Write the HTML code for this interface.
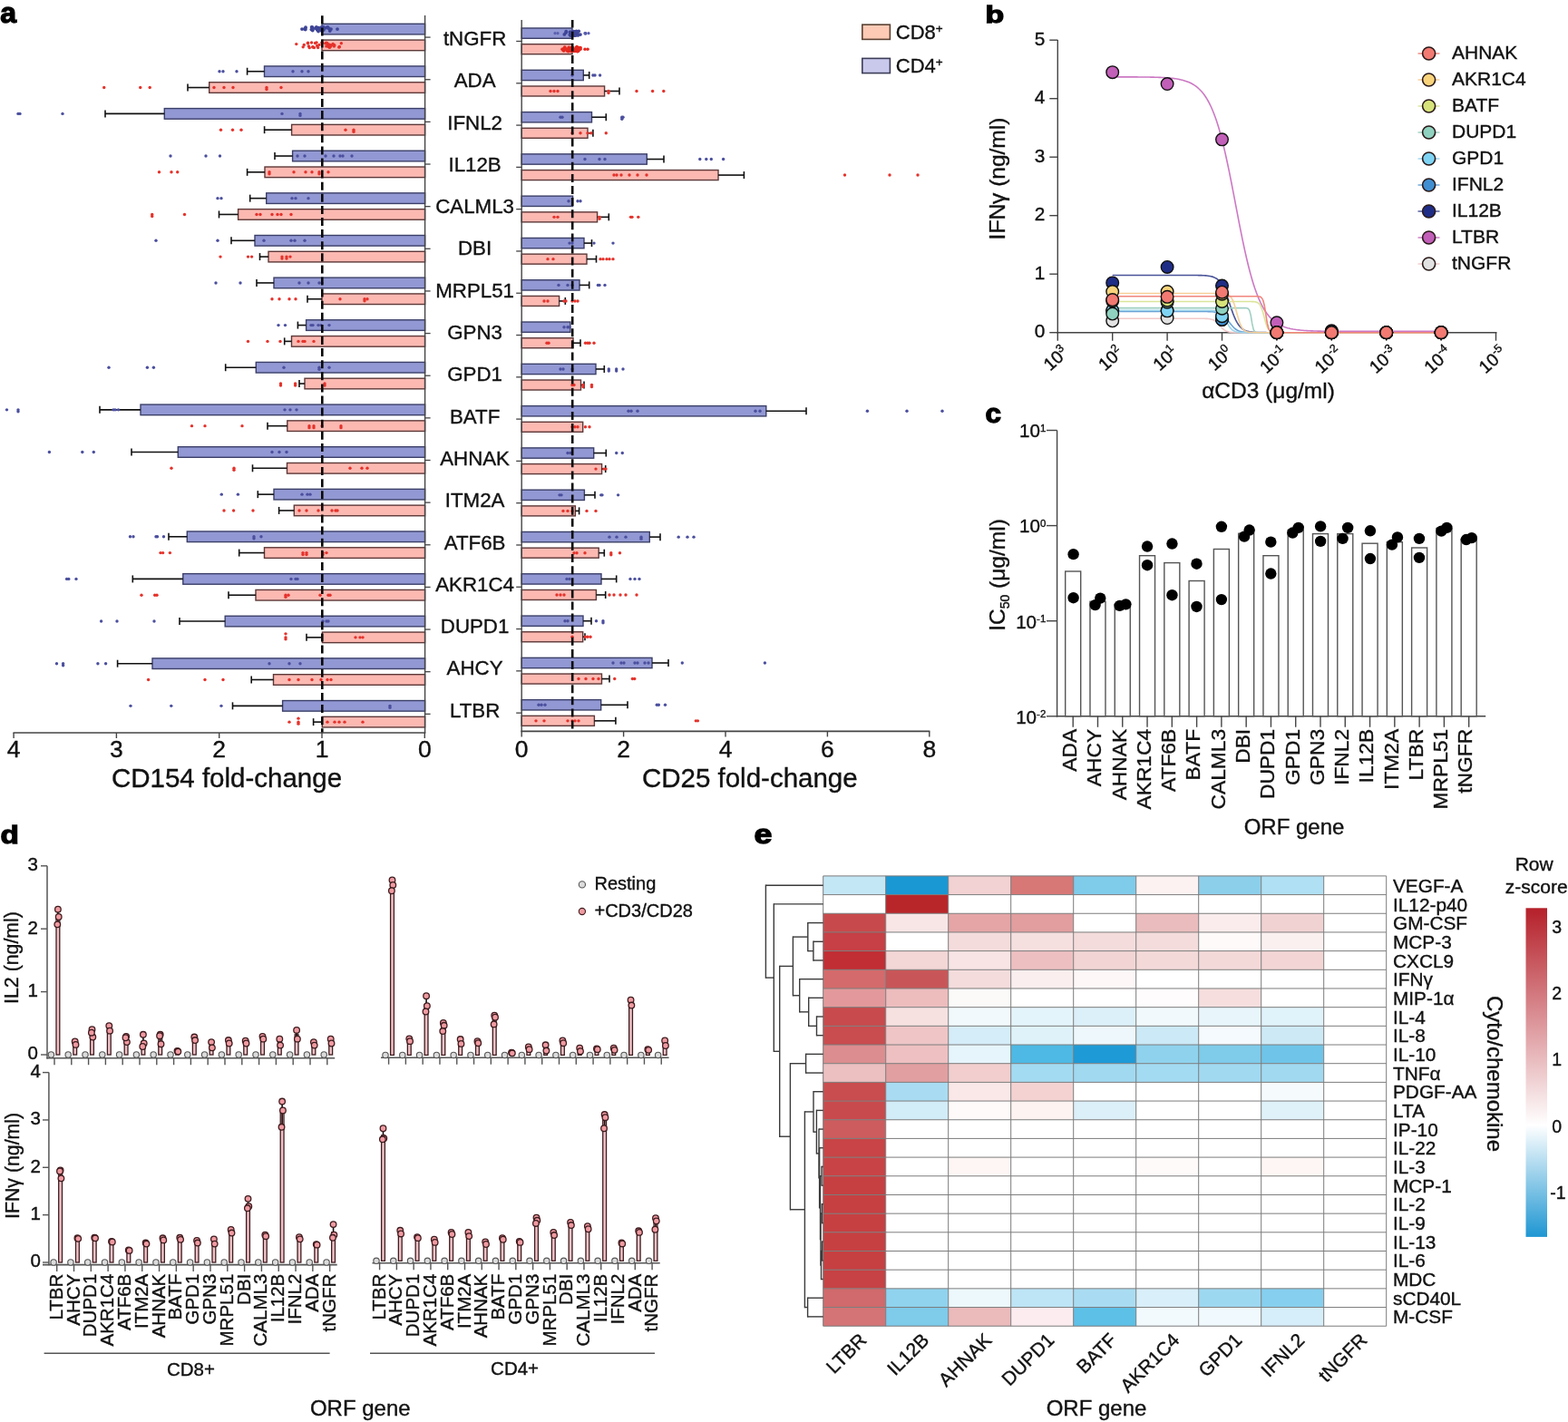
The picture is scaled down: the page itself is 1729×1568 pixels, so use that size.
<!DOCTYPE html>
<html><head><meta charset="utf-8"><title>Figure</title>
<style>html,body{margin:0;padding:0;background:#fff;}svg{display:block;}text{font-family:'Liberation Sans', Arial, Helvetica, sans-serif;stroke:currentColor;stroke-width:0.35px;paint-order:stroke;}</style>
</head><body>
<svg width="1729" height="1568" viewBox="0 0 1729 1568" font-family="'Liberation Sans', Arial, Helvetica, sans-serif">
<rect width="1729" height="1568" fill="#fff"/>
<g id="panel-a">
<rect x="355" y="26.3" width="113.6" height="11.6" fill="#9298d3" stroke="#3b3f68" stroke-width="1.4"/>
<rect x="355" y="44.1" width="113.6" height="11.6" fill="#fbb9b2" stroke="#5e3838" stroke-width="1.4"/>
<line x1="468.6" y1="41.1" x2="474.6" y2="41.1" stroke="#444" stroke-width="1.3" />
<rect x="291.5" y="72.94" width="177.1" height="11.6" fill="#9298d3" stroke="#3b3f68" stroke-width="1.4"/>
<rect x="230.7" y="90.74" width="237.9" height="11.6" fill="#fbb9b2" stroke="#5e3838" stroke-width="1.4"/>
<line x1="272.6" y1="78.74" x2="291.5" y2="78.74" stroke="#111" stroke-width="1.6" />
<line x1="272.6" y1="74.74" x2="272.6" y2="82.74" stroke="#111" stroke-width="1.6" />
<line x1="207" y1="96.54" x2="230.7" y2="96.54" stroke="#111" stroke-width="1.6" />
<line x1="207" y1="92.54" x2="207" y2="100.54" stroke="#111" stroke-width="1.6" />
<circle cx="242" cy="78.74" r="1.7" fill="#4b4f9e" stroke="none" stroke-width="1"/>
<circle cx="246" cy="78.74" r="1.7" fill="#4b4f9e" stroke="none" stroke-width="1"/>
<circle cx="261" cy="78.74" r="1.7" fill="#4b4f9e" stroke="none" stroke-width="1"/>
<circle cx="323" cy="78.74" r="1.7" fill="#4b4f9e" stroke="none" stroke-width="1"/>
<circle cx="333" cy="78.74" r="1.7" fill="#4b4f9e" stroke="none" stroke-width="1"/>
<circle cx="340" cy="78.74" r="1.7" fill="#4b4f9e" stroke="none" stroke-width="1"/>
<circle cx="114.7" cy="96.54" r="1.7" fill="#e5322b" stroke="none" stroke-width="1"/>
<circle cx="154.7" cy="96.54" r="1.7" fill="#e5322b" stroke="none" stroke-width="1"/>
<circle cx="165.2" cy="96.54" r="1.7" fill="#e5322b" stroke="none" stroke-width="1"/>
<circle cx="236" cy="96.54" r="1.7" fill="#e5322b" stroke="none" stroke-width="1"/>
<circle cx="247" cy="96.54" r="1.7" fill="#e5322b" stroke="none" stroke-width="1"/>
<circle cx="257" cy="96.54" r="1.7" fill="#e5322b" stroke="none" stroke-width="1"/>
<circle cx="294" cy="96.54" r="1.7" fill="#e5322b" stroke="none" stroke-width="1"/>
<circle cx="294" cy="98.54" r="1.7" fill="#e5322b" stroke="none" stroke-width="1"/>
<circle cx="310" cy="96.54" r="1.7" fill="#e5322b" stroke="none" stroke-width="1"/>
<line x1="468.6" y1="87.74" x2="474.6" y2="87.74" stroke="#444" stroke-width="1.3" />
<rect x="181.3" y="119.58" width="287.3" height="11.6" fill="#9298d3" stroke="#3b3f68" stroke-width="1.4"/>
<rect x="321.6" y="137.38" width="147" height="11.6" fill="#fbb9b2" stroke="#5e3838" stroke-width="1.4"/>
<line x1="116" y1="125.38" x2="181.3" y2="125.38" stroke="#111" stroke-width="1.6" />
<line x1="116" y1="121.38" x2="116" y2="129.38" stroke="#111" stroke-width="1.6" />
<line x1="291.6" y1="143.18" x2="321.6" y2="143.18" stroke="#111" stroke-width="1.6" />
<line x1="291.6" y1="139.18" x2="291.6" y2="147.18" stroke="#111" stroke-width="1.6" />
<circle cx="20" cy="125.38" r="1.7" fill="#4b4f9e" stroke="none" stroke-width="1"/>
<circle cx="22" cy="125.38" r="1.7" fill="#4b4f9e" stroke="none" stroke-width="1"/>
<circle cx="69" cy="125.38" r="1.7" fill="#4b4f9e" stroke="none" stroke-width="1"/>
<circle cx="311" cy="125.38" r="1.7" fill="#4b4f9e" stroke="none" stroke-width="1"/>
<circle cx="331" cy="125.38" r="1.7" fill="#4b4f9e" stroke="none" stroke-width="1"/>
<circle cx="331" cy="127.38" r="1.7" fill="#4b4f9e" stroke="none" stroke-width="1"/>
<circle cx="243.5" cy="143.18" r="1.7" fill="#e5322b" stroke="none" stroke-width="1"/>
<circle cx="256.5" cy="143.18" r="1.7" fill="#e5322b" stroke="none" stroke-width="1"/>
<circle cx="266" cy="143.18" r="1.7" fill="#e5322b" stroke="none" stroke-width="1"/>
<circle cx="381" cy="143.18" r="1.7" fill="#e5322b" stroke="none" stroke-width="1"/>
<circle cx="390" cy="143.18" r="1.7" fill="#e5322b" stroke="none" stroke-width="1"/>
<circle cx="390" cy="145.18" r="1.7" fill="#e5322b" stroke="none" stroke-width="1"/>
<line x1="468.6" y1="134.38" x2="474.6" y2="134.38" stroke="#444" stroke-width="1.3" />
<rect x="322.6" y="166.22" width="146" height="11.6" fill="#9298d3" stroke="#3b3f68" stroke-width="1.4"/>
<rect x="292" y="184.02" width="176.6" height="11.6" fill="#fbb9b2" stroke="#5e3838" stroke-width="1.4"/>
<line x1="303" y1="172.02" x2="322.6" y2="172.02" stroke="#111" stroke-width="1.6" />
<line x1="303" y1="168.02" x2="303" y2="176.02" stroke="#111" stroke-width="1.6" />
<line x1="272.6" y1="189.82" x2="292" y2="189.82" stroke="#111" stroke-width="1.6" />
<line x1="272.6" y1="185.82" x2="272.6" y2="193.82" stroke="#111" stroke-width="1.6" />
<circle cx="188" cy="172.02" r="1.7" fill="#4b4f9e" stroke="none" stroke-width="1"/>
<circle cx="227" cy="172.02" r="1.7" fill="#4b4f9e" stroke="none" stroke-width="1"/>
<circle cx="242.5" cy="172.02" r="1.7" fill="#4b4f9e" stroke="none" stroke-width="1"/>
<circle cx="328" cy="172.02" r="1.7" fill="#4b4f9e" stroke="none" stroke-width="1"/>
<circle cx="336" cy="172.02" r="1.7" fill="#4b4f9e" stroke="none" stroke-width="1"/>
<circle cx="359" cy="172.02" r="1.7" fill="#4b4f9e" stroke="none" stroke-width="1"/>
<circle cx="368" cy="172.02" r="1.7" fill="#4b4f9e" stroke="none" stroke-width="1"/>
<circle cx="375" cy="172.02" r="1.7" fill="#4b4f9e" stroke="none" stroke-width="1"/>
<circle cx="378" cy="172.02" r="1.7" fill="#4b4f9e" stroke="none" stroke-width="1"/>
<circle cx="388" cy="172.02" r="1.7" fill="#4b4f9e" stroke="none" stroke-width="1"/>
<circle cx="175.5" cy="189.82" r="1.7" fill="#e5322b" stroke="none" stroke-width="1"/>
<circle cx="189" cy="189.82" r="1.7" fill="#e5322b" stroke="none" stroke-width="1"/>
<circle cx="195.7" cy="189.82" r="1.7" fill="#e5322b" stroke="none" stroke-width="1"/>
<circle cx="297" cy="189.82" r="1.7" fill="#e5322b" stroke="none" stroke-width="1"/>
<circle cx="297" cy="191.82" r="1.7" fill="#e5322b" stroke="none" stroke-width="1"/>
<circle cx="324" cy="189.82" r="1.7" fill="#e5322b" stroke="none" stroke-width="1"/>
<circle cx="337" cy="189.82" r="1.7" fill="#e5322b" stroke="none" stroke-width="1"/>
<circle cx="344" cy="189.82" r="1.7" fill="#e5322b" stroke="none" stroke-width="1"/>
<circle cx="352" cy="189.82" r="1.7" fill="#e5322b" stroke="none" stroke-width="1"/>
<circle cx="352" cy="191.82" r="1.7" fill="#e5322b" stroke="none" stroke-width="1"/>
<circle cx="362" cy="189.82" r="1.7" fill="#e5322b" stroke="none" stroke-width="1"/>
<line x1="468.6" y1="181.02" x2="474.6" y2="181.02" stroke="#444" stroke-width="1.3" />
<rect x="293.7" y="212.86" width="174.9" height="11.6" fill="#9298d3" stroke="#3b3f68" stroke-width="1.4"/>
<rect x="262.6" y="230.66" width="206" height="11.6" fill="#fbb9b2" stroke="#5e3838" stroke-width="1.4"/>
<line x1="275.7" y1="218.66" x2="293.7" y2="218.66" stroke="#111" stroke-width="1.6" />
<line x1="275.7" y1="214.66" x2="275.7" y2="222.66" stroke="#111" stroke-width="1.6" />
<line x1="241.5" y1="236.46" x2="262.6" y2="236.46" stroke="#111" stroke-width="1.6" />
<line x1="241.5" y1="232.46" x2="241.5" y2="240.46" stroke="#111" stroke-width="1.6" />
<circle cx="240" cy="218.66" r="1.7" fill="#4b4f9e" stroke="none" stroke-width="1"/>
<circle cx="244" cy="218.66" r="1.7" fill="#4b4f9e" stroke="none" stroke-width="1"/>
<circle cx="322" cy="218.66" r="1.7" fill="#4b4f9e" stroke="none" stroke-width="1"/>
<circle cx="326" cy="218.66" r="1.7" fill="#4b4f9e" stroke="none" stroke-width="1"/>
<circle cx="340" cy="218.66" r="1.7" fill="#4b4f9e" stroke="none" stroke-width="1"/>
<circle cx="167.7" cy="236.46" r="1.7" fill="#e5322b" stroke="none" stroke-width="1"/>
<circle cx="167.7" cy="238.46" r="1.7" fill="#e5322b" stroke="none" stroke-width="1"/>
<circle cx="203.5" cy="236.46" r="1.7" fill="#e5322b" stroke="none" stroke-width="1"/>
<circle cx="283" cy="236.46" r="1.7" fill="#e5322b" stroke="none" stroke-width="1"/>
<circle cx="287" cy="236.46" r="1.7" fill="#e5322b" stroke="none" stroke-width="1"/>
<circle cx="300" cy="236.46" r="1.7" fill="#e5322b" stroke="none" stroke-width="1"/>
<circle cx="306" cy="236.46" r="1.7" fill="#e5322b" stroke="none" stroke-width="1"/>
<circle cx="310" cy="236.46" r="1.7" fill="#e5322b" stroke="none" stroke-width="1"/>
<circle cx="321" cy="236.46" r="1.7" fill="#e5322b" stroke="none" stroke-width="1"/>
<line x1="468.6" y1="227.66" x2="474.6" y2="227.66" stroke="#444" stroke-width="1.3" />
<rect x="281" y="259.5" width="187.6" height="11.6" fill="#9298d3" stroke="#3b3f68" stroke-width="1.4"/>
<rect x="296" y="277.3" width="172.6" height="11.6" fill="#fbb9b2" stroke="#5e3838" stroke-width="1.4"/>
<line x1="255" y1="265.3" x2="281" y2="265.3" stroke="#111" stroke-width="1.6" />
<line x1="255" y1="261.3" x2="255" y2="269.3" stroke="#111" stroke-width="1.6" />
<line x1="286.5" y1="283.1" x2="296" y2="283.1" stroke="#111" stroke-width="1.6" />
<line x1="286.5" y1="279.1" x2="286.5" y2="287.1" stroke="#111" stroke-width="1.6" />
<circle cx="172" cy="265.3" r="1.7" fill="#4b4f9e" stroke="none" stroke-width="1"/>
<circle cx="240" cy="265.3" r="1.7" fill="#4b4f9e" stroke="none" stroke-width="1"/>
<circle cx="291" cy="265.3" r="1.7" fill="#4b4f9e" stroke="none" stroke-width="1"/>
<circle cx="321" cy="265.3" r="1.7" fill="#4b4f9e" stroke="none" stroke-width="1"/>
<circle cx="325" cy="265.3" r="1.7" fill="#4b4f9e" stroke="none" stroke-width="1"/>
<circle cx="336" cy="265.3" r="1.7" fill="#4b4f9e" stroke="none" stroke-width="1"/>
<circle cx="243" cy="283.1" r="1.7" fill="#e5322b" stroke="none" stroke-width="1"/>
<circle cx="273.5" cy="283.1" r="1.7" fill="#e5322b" stroke="none" stroke-width="1"/>
<circle cx="277.6" cy="283.1" r="1.7" fill="#e5322b" stroke="none" stroke-width="1"/>
<circle cx="311" cy="283.1" r="1.7" fill="#e5322b" stroke="none" stroke-width="1"/>
<circle cx="311" cy="285.1" r="1.7" fill="#e5322b" stroke="none" stroke-width="1"/>
<circle cx="316" cy="283.1" r="1.7" fill="#e5322b" stroke="none" stroke-width="1"/>
<circle cx="316" cy="285.1" r="1.7" fill="#e5322b" stroke="none" stroke-width="1"/>
<circle cx="320" cy="283.1" r="1.7" fill="#e5322b" stroke="none" stroke-width="1"/>
<line x1="468.6" y1="274.3" x2="474.6" y2="274.3" stroke="#444" stroke-width="1.3" />
<rect x="302" y="306.14" width="166.6" height="11.6" fill="#9298d3" stroke="#3b3f68" stroke-width="1.4"/>
<rect x="355" y="323.94" width="113.6" height="11.6" fill="#fbb9b2" stroke="#5e3838" stroke-width="1.4"/>
<line x1="283" y1="311.94" x2="302" y2="311.94" stroke="#111" stroke-width="1.6" />
<line x1="283" y1="307.94" x2="283" y2="315.94" stroke="#111" stroke-width="1.6" />
<line x1="339" y1="329.74" x2="355" y2="329.74" stroke="#111" stroke-width="1.6" />
<line x1="339" y1="325.74" x2="339" y2="333.74" stroke="#111" stroke-width="1.6" />
<circle cx="238" cy="311.94" r="1.7" fill="#4b4f9e" stroke="none" stroke-width="1"/>
<circle cx="265" cy="311.94" r="1.7" fill="#4b4f9e" stroke="none" stroke-width="1"/>
<circle cx="330" cy="311.94" r="1.7" fill="#4b4f9e" stroke="none" stroke-width="1"/>
<circle cx="340" cy="311.94" r="1.7" fill="#4b4f9e" stroke="none" stroke-width="1"/>
<circle cx="352" cy="311.94" r="1.7" fill="#4b4f9e" stroke="none" stroke-width="1"/>
<circle cx="355" cy="311.94" r="1.7" fill="#4b4f9e" stroke="none" stroke-width="1"/>
<circle cx="300" cy="329.74" r="1.7" fill="#e5322b" stroke="none" stroke-width="1"/>
<circle cx="308" cy="329.74" r="1.7" fill="#e5322b" stroke="none" stroke-width="1"/>
<circle cx="319" cy="329.74" r="1.7" fill="#e5322b" stroke="none" stroke-width="1"/>
<circle cx="326" cy="329.74" r="1.7" fill="#e5322b" stroke="none" stroke-width="1"/>
<circle cx="375" cy="329.74" r="1.7" fill="#e5322b" stroke="none" stroke-width="1"/>
<circle cx="402" cy="329.74" r="1.7" fill="#e5322b" stroke="none" stroke-width="1"/>
<circle cx="402" cy="331.74" r="1.7" fill="#e5322b" stroke="none" stroke-width="1"/>
<circle cx="405" cy="329.74" r="1.7" fill="#e5322b" stroke="none" stroke-width="1"/>
<line x1="468.6" y1="320.94" x2="474.6" y2="320.94" stroke="#444" stroke-width="1.3" />
<rect x="337.6" y="352.78" width="131" height="11.6" fill="#9298d3" stroke="#3b3f68" stroke-width="1.4"/>
<rect x="321.5" y="370.58" width="147.1" height="11.6" fill="#fbb9b2" stroke="#5e3838" stroke-width="1.4"/>
<line x1="328.4" y1="358.58" x2="337.6" y2="358.58" stroke="#111" stroke-width="1.6" />
<line x1="328.4" y1="354.58" x2="328.4" y2="362.58" stroke="#111" stroke-width="1.6" />
<line x1="313.7" y1="376.38" x2="321.5" y2="376.38" stroke="#111" stroke-width="1.6" />
<line x1="313.7" y1="372.38" x2="313.7" y2="380.38" stroke="#111" stroke-width="1.6" />
<circle cx="307" cy="358.58" r="1.7" fill="#4b4f9e" stroke="none" stroke-width="1"/>
<circle cx="314.5" cy="358.58" r="1.7" fill="#4b4f9e" stroke="none" stroke-width="1"/>
<circle cx="343" cy="358.58" r="1.7" fill="#4b4f9e" stroke="none" stroke-width="1"/>
<circle cx="345" cy="358.58" r="1.7" fill="#4b4f9e" stroke="none" stroke-width="1"/>
<circle cx="351" cy="358.58" r="1.7" fill="#4b4f9e" stroke="none" stroke-width="1"/>
<circle cx="354" cy="358.58" r="1.7" fill="#4b4f9e" stroke="none" stroke-width="1"/>
<circle cx="363" cy="358.58" r="1.7" fill="#4b4f9e" stroke="none" stroke-width="1"/>
<circle cx="273.5" cy="376.38" r="1.7" fill="#e5322b" stroke="none" stroke-width="1"/>
<circle cx="295" cy="376.38" r="1.7" fill="#e5322b" stroke="none" stroke-width="1"/>
<circle cx="309" cy="376.38" r="1.7" fill="#e5322b" stroke="none" stroke-width="1"/>
<circle cx="329" cy="376.38" r="1.7" fill="#e5322b" stroke="none" stroke-width="1"/>
<circle cx="334" cy="376.38" r="1.7" fill="#e5322b" stroke="none" stroke-width="1"/>
<circle cx="336" cy="376.38" r="1.7" fill="#e5322b" stroke="none" stroke-width="1"/>
<circle cx="346" cy="376.38" r="1.7" fill="#e5322b" stroke="none" stroke-width="1"/>
<line x1="468.6" y1="367.58" x2="474.6" y2="367.58" stroke="#444" stroke-width="1.3" />
<rect x="282.3" y="399.42" width="186.3" height="11.6" fill="#9298d3" stroke="#3b3f68" stroke-width="1.4"/>
<rect x="336" y="417.22" width="132.6" height="11.6" fill="#fbb9b2" stroke="#5e3838" stroke-width="1.4"/>
<line x1="248.7" y1="405.22" x2="282.3" y2="405.22" stroke="#111" stroke-width="1.6" />
<line x1="248.7" y1="401.22" x2="248.7" y2="409.22" stroke="#111" stroke-width="1.6" />
<line x1="330" y1="423.02" x2="336" y2="423.02" stroke="#111" stroke-width="1.6" />
<line x1="330" y1="419.02" x2="330" y2="427.02" stroke="#111" stroke-width="1.6" />
<circle cx="120" cy="405.22" r="1.7" fill="#4b4f9e" stroke="none" stroke-width="1"/>
<circle cx="162.4" cy="405.22" r="1.7" fill="#4b4f9e" stroke="none" stroke-width="1"/>
<circle cx="169.4" cy="405.22" r="1.7" fill="#4b4f9e" stroke="none" stroke-width="1"/>
<circle cx="313" cy="405.22" r="1.7" fill="#4b4f9e" stroke="none" stroke-width="1"/>
<circle cx="352" cy="405.22" r="1.7" fill="#4b4f9e" stroke="none" stroke-width="1"/>
<circle cx="352" cy="407.22" r="1.7" fill="#4b4f9e" stroke="none" stroke-width="1"/>
<circle cx="363" cy="405.22" r="1.7" fill="#4b4f9e" stroke="none" stroke-width="1"/>
<circle cx="309.5" cy="423.02" r="1.7" fill="#e5322b" stroke="none" stroke-width="1"/>
<circle cx="309.5" cy="425.02" r="1.7" fill="#e5322b" stroke="none" stroke-width="1"/>
<circle cx="325.6" cy="423.02" r="1.7" fill="#e5322b" stroke="none" stroke-width="1"/>
<circle cx="325.6" cy="425.02" r="1.7" fill="#e5322b" stroke="none" stroke-width="1"/>
<circle cx="358" cy="423.02" r="1.7" fill="#e5322b" stroke="none" stroke-width="1"/>
<circle cx="358" cy="425.02" r="1.7" fill="#e5322b" stroke="none" stroke-width="1"/>
<line x1="468.6" y1="414.22" x2="474.6" y2="414.22" stroke="#444" stroke-width="1.3" />
<rect x="155" y="446.06" width="313.6" height="11.6" fill="#9298d3" stroke="#3b3f68" stroke-width="1.4"/>
<rect x="316.8" y="463.86" width="151.8" height="11.6" fill="#fbb9b2" stroke="#5e3838" stroke-width="1.4"/>
<line x1="110" y1="451.86" x2="155" y2="451.86" stroke="#111" stroke-width="1.6" />
<line x1="110" y1="447.86" x2="110" y2="455.86" stroke="#111" stroke-width="1.6" />
<line x1="295" y1="469.66" x2="316.8" y2="469.66" stroke="#111" stroke-width="1.6" />
<line x1="295" y1="465.66" x2="295" y2="473.66" stroke="#111" stroke-width="1.6" />
<circle cx="7.5" cy="451.86" r="1.7" fill="#4b4f9e" stroke="none" stroke-width="1"/>
<circle cx="20" cy="451.86" r="1.7" fill="#4b4f9e" stroke="none" stroke-width="1"/>
<circle cx="20" cy="453.86" r="1.7" fill="#4b4f9e" stroke="none" stroke-width="1"/>
<circle cx="125" cy="451.86" r="1.7" fill="#4b4f9e" stroke="none" stroke-width="1"/>
<circle cx="130.5" cy="451.86" r="1.7" fill="#4b4f9e" stroke="none" stroke-width="1"/>
<circle cx="127" cy="451.86" r="1.7" fill="#4b4f9e" stroke="none" stroke-width="1"/>
<circle cx="314" cy="451.86" r="1.7" fill="#4b4f9e" stroke="none" stroke-width="1"/>
<circle cx="320" cy="451.86" r="1.7" fill="#4b4f9e" stroke="none" stroke-width="1"/>
<circle cx="327" cy="451.86" r="1.7" fill="#4b4f9e" stroke="none" stroke-width="1"/>
<circle cx="211.5" cy="469.66" r="1.7" fill="#e5322b" stroke="none" stroke-width="1"/>
<circle cx="226" cy="469.66" r="1.7" fill="#e5322b" stroke="none" stroke-width="1"/>
<circle cx="267" cy="469.66" r="1.7" fill="#e5322b" stroke="none" stroke-width="1"/>
<circle cx="341" cy="469.66" r="1.7" fill="#e5322b" stroke="none" stroke-width="1"/>
<circle cx="341" cy="471.66" r="1.7" fill="#e5322b" stroke="none" stroke-width="1"/>
<circle cx="346" cy="469.66" r="1.7" fill="#e5322b" stroke="none" stroke-width="1"/>
<circle cx="346" cy="471.66" r="1.7" fill="#e5322b" stroke="none" stroke-width="1"/>
<circle cx="355" cy="469.66" r="1.7" fill="#e5322b" stroke="none" stroke-width="1"/>
<circle cx="376" cy="469.66" r="1.7" fill="#e5322b" stroke="none" stroke-width="1"/>
<circle cx="376" cy="471.66" r="1.7" fill="#e5322b" stroke="none" stroke-width="1"/>
<line x1="468.6" y1="460.86" x2="474.6" y2="460.86" stroke="#444" stroke-width="1.3" />
<rect x="196.3" y="492.7" width="272.3" height="11.6" fill="#9298d3" stroke="#3b3f68" stroke-width="1.4"/>
<rect x="316.5" y="510.5" width="152.1" height="11.6" fill="#fbb9b2" stroke="#5e3838" stroke-width="1.4"/>
<line x1="145" y1="498.5" x2="196.3" y2="498.5" stroke="#111" stroke-width="1.6" />
<line x1="145" y1="494.5" x2="145" y2="502.5" stroke="#111" stroke-width="1.6" />
<line x1="278.5" y1="516.3" x2="316.5" y2="516.3" stroke="#111" stroke-width="1.6" />
<line x1="278.5" y1="512.3" x2="278.5" y2="520.3" stroke="#111" stroke-width="1.6" />
<circle cx="54.4" cy="498.5" r="1.7" fill="#4b4f9e" stroke="none" stroke-width="1"/>
<circle cx="90.8" cy="498.5" r="1.7" fill="#4b4f9e" stroke="none" stroke-width="1"/>
<circle cx="103.3" cy="498.5" r="1.7" fill="#4b4f9e" stroke="none" stroke-width="1"/>
<circle cx="300" cy="498.5" r="1.7" fill="#4b4f9e" stroke="none" stroke-width="1"/>
<circle cx="308" cy="498.5" r="1.7" fill="#4b4f9e" stroke="none" stroke-width="1"/>
<circle cx="316" cy="498.5" r="1.7" fill="#4b4f9e" stroke="none" stroke-width="1"/>
<circle cx="189" cy="516.3" r="1.7" fill="#e5322b" stroke="none" stroke-width="1"/>
<circle cx="258" cy="516.3" r="1.7" fill="#e5322b" stroke="none" stroke-width="1"/>
<circle cx="258" cy="518.3" r="1.7" fill="#e5322b" stroke="none" stroke-width="1"/>
<circle cx="386" cy="516.3" r="1.7" fill="#e5322b" stroke="none" stroke-width="1"/>
<circle cx="399" cy="516.3" r="1.7" fill="#e5322b" stroke="none" stroke-width="1"/>
<circle cx="405" cy="516.3" r="1.7" fill="#e5322b" stroke="none" stroke-width="1"/>
<line x1="468.6" y1="507.5" x2="474.6" y2="507.5" stroke="#444" stroke-width="1.3" />
<rect x="302" y="539.34" width="166.6" height="11.6" fill="#9298d3" stroke="#3b3f68" stroke-width="1.4"/>
<rect x="324.3" y="557.14" width="144.3" height="11.6" fill="#fbb9b2" stroke="#5e3838" stroke-width="1.4"/>
<line x1="284.3" y1="545.14" x2="302" y2="545.14" stroke="#111" stroke-width="1.6" />
<line x1="284.3" y1="541.14" x2="284.3" y2="549.14" stroke="#111" stroke-width="1.6" />
<line x1="307.6" y1="562.94" x2="324.3" y2="562.94" stroke="#111" stroke-width="1.6" />
<line x1="307.6" y1="558.94" x2="307.6" y2="566.94" stroke="#111" stroke-width="1.6" />
<circle cx="244.3" cy="545.14" r="1.7" fill="#4b4f9e" stroke="none" stroke-width="1"/>
<circle cx="262.4" cy="545.14" r="1.7" fill="#4b4f9e" stroke="none" stroke-width="1"/>
<circle cx="333" cy="545.14" r="1.7" fill="#4b4f9e" stroke="none" stroke-width="1"/>
<circle cx="339" cy="545.14" r="1.7" fill="#4b4f9e" stroke="none" stroke-width="1"/>
<circle cx="342" cy="545.14" r="1.7" fill="#4b4f9e" stroke="none" stroke-width="1"/>
<circle cx="247" cy="562.94" r="1.7" fill="#e5322b" stroke="none" stroke-width="1"/>
<circle cx="257.6" cy="562.94" r="1.7" fill="#e5322b" stroke="none" stroke-width="1"/>
<circle cx="279" cy="562.94" r="1.7" fill="#e5322b" stroke="none" stroke-width="1"/>
<circle cx="330" cy="562.94" r="1.7" fill="#e5322b" stroke="none" stroke-width="1"/>
<circle cx="338" cy="562.94" r="1.7" fill="#e5322b" stroke="none" stroke-width="1"/>
<circle cx="351" cy="562.94" r="1.7" fill="#e5322b" stroke="none" stroke-width="1"/>
<circle cx="366" cy="562.94" r="1.7" fill="#e5322b" stroke="none" stroke-width="1"/>
<circle cx="370" cy="562.94" r="1.7" fill="#e5322b" stroke="none" stroke-width="1"/>
<circle cx="372" cy="562.94" r="1.7" fill="#e5322b" stroke="none" stroke-width="1"/>
<line x1="468.6" y1="554.14" x2="474.6" y2="554.14" stroke="#444" stroke-width="1.3" />
<rect x="206.3" y="585.98" width="262.3" height="11.6" fill="#9298d3" stroke="#3b3f68" stroke-width="1.4"/>
<rect x="291.5" y="603.78" width="177.1" height="11.6" fill="#fbb9b2" stroke="#5e3838" stroke-width="1.4"/>
<line x1="186" y1="591.78" x2="206.3" y2="591.78" stroke="#111" stroke-width="1.6" />
<line x1="186" y1="587.78" x2="186" y2="595.78" stroke="#111" stroke-width="1.6" />
<line x1="263.7" y1="609.58" x2="291.5" y2="609.58" stroke="#111" stroke-width="1.6" />
<line x1="263.7" y1="605.58" x2="263.7" y2="613.58" stroke="#111" stroke-width="1.6" />
<circle cx="143.5" cy="591.78" r="1.7" fill="#4b4f9e" stroke="none" stroke-width="1"/>
<circle cx="147" cy="591.78" r="1.7" fill="#4b4f9e" stroke="none" stroke-width="1"/>
<circle cx="173.5" cy="591.78" r="1.7" fill="#4b4f9e" stroke="none" stroke-width="1"/>
<circle cx="172" cy="591.78" r="1.7" fill="#4b4f9e" stroke="none" stroke-width="1"/>
<circle cx="180.5" cy="591.78" r="1.7" fill="#4b4f9e" stroke="none" stroke-width="1"/>
<circle cx="280" cy="591.78" r="1.7" fill="#4b4f9e" stroke="none" stroke-width="1"/>
<circle cx="280" cy="593.78" r="1.7" fill="#4b4f9e" stroke="none" stroke-width="1"/>
<circle cx="288" cy="591.78" r="1.7" fill="#4b4f9e" stroke="none" stroke-width="1"/>
<circle cx="177" cy="609.58" r="1.7" fill="#e5322b" stroke="none" stroke-width="1"/>
<circle cx="187.4" cy="609.58" r="1.7" fill="#e5322b" stroke="none" stroke-width="1"/>
<circle cx="179.6" cy="609.58" r="1.7" fill="#e5322b" stroke="none" stroke-width="1"/>
<circle cx="334" cy="609.58" r="1.7" fill="#e5322b" stroke="none" stroke-width="1"/>
<circle cx="334" cy="611.58" r="1.7" fill="#e5322b" stroke="none" stroke-width="1"/>
<circle cx="338" cy="609.58" r="1.7" fill="#e5322b" stroke="none" stroke-width="1"/>
<circle cx="338" cy="611.58" r="1.7" fill="#e5322b" stroke="none" stroke-width="1"/>
<circle cx="356" cy="609.58" r="1.7" fill="#e5322b" stroke="none" stroke-width="1"/>
<circle cx="356" cy="611.58" r="1.7" fill="#e5322b" stroke="none" stroke-width="1"/>
<circle cx="360" cy="609.58" r="1.7" fill="#e5322b" stroke="none" stroke-width="1"/>
<line x1="468.6" y1="600.78" x2="474.6" y2="600.78" stroke="#444" stroke-width="1.3" />
<rect x="201.8" y="632.62" width="266.8" height="11.6" fill="#9298d3" stroke="#3b3f68" stroke-width="1.4"/>
<rect x="282" y="650.42" width="186.6" height="11.6" fill="#fbb9b2" stroke="#5e3838" stroke-width="1.4"/>
<line x1="146.3" y1="638.42" x2="201.8" y2="638.42" stroke="#111" stroke-width="1.6" />
<line x1="146.3" y1="634.42" x2="146.3" y2="642.42" stroke="#111" stroke-width="1.6" />
<line x1="252" y1="656.22" x2="282" y2="656.22" stroke="#111" stroke-width="1.6" />
<line x1="252" y1="652.22" x2="252" y2="660.22" stroke="#111" stroke-width="1.6" />
<circle cx="73.6" cy="638.42" r="1.7" fill="#4b4f9e" stroke="none" stroke-width="1"/>
<circle cx="75.8" cy="638.42" r="1.7" fill="#4b4f9e" stroke="none" stroke-width="1"/>
<circle cx="84" cy="638.42" r="1.7" fill="#4b4f9e" stroke="none" stroke-width="1"/>
<circle cx="321" cy="638.42" r="1.7" fill="#4b4f9e" stroke="none" stroke-width="1"/>
<circle cx="326" cy="638.42" r="1.7" fill="#4b4f9e" stroke="none" stroke-width="1"/>
<circle cx="328" cy="638.42" r="1.7" fill="#4b4f9e" stroke="none" stroke-width="1"/>
<circle cx="156" cy="656.22" r="1.7" fill="#e5322b" stroke="none" stroke-width="1"/>
<circle cx="170.7" cy="656.22" r="1.7" fill="#e5322b" stroke="none" stroke-width="1"/>
<circle cx="173" cy="656.22" r="1.7" fill="#e5322b" stroke="none" stroke-width="1"/>
<circle cx="315" cy="656.22" r="1.7" fill="#e5322b" stroke="none" stroke-width="1"/>
<circle cx="315" cy="658.22" r="1.7" fill="#e5322b" stroke="none" stroke-width="1"/>
<circle cx="318" cy="656.22" r="1.7" fill="#e5322b" stroke="none" stroke-width="1"/>
<circle cx="353" cy="656.22" r="1.7" fill="#e5322b" stroke="none" stroke-width="1"/>
<circle cx="362" cy="656.22" r="1.7" fill="#e5322b" stroke="none" stroke-width="1"/>
<circle cx="364" cy="656.22" r="1.7" fill="#e5322b" stroke="none" stroke-width="1"/>
<line x1="468.6" y1="647.42" x2="474.6" y2="647.42" stroke="#444" stroke-width="1.3" />
<rect x="248.2" y="679.26" width="220.4" height="11.6" fill="#9298d3" stroke="#3b3f68" stroke-width="1.4"/>
<rect x="355.4" y="697.06" width="113.2" height="11.6" fill="#fbb9b2" stroke="#5e3838" stroke-width="1.4"/>
<line x1="198" y1="685.06" x2="248.2" y2="685.06" stroke="#111" stroke-width="1.6" />
<line x1="198" y1="681.06" x2="198" y2="689.06" stroke="#111" stroke-width="1.6" />
<line x1="338" y1="702.86" x2="355.4" y2="702.86" stroke="#111" stroke-width="1.6" />
<line x1="338" y1="698.86" x2="338" y2="706.86" stroke="#111" stroke-width="1.6" />
<circle cx="111.6" cy="685.06" r="1.7" fill="#4b4f9e" stroke="none" stroke-width="1"/>
<circle cx="129" cy="685.06" r="1.7" fill="#4b4f9e" stroke="none" stroke-width="1"/>
<circle cx="170" cy="685.06" r="1.7" fill="#4b4f9e" stroke="none" stroke-width="1"/>
<circle cx="356" cy="685.06" r="1.7" fill="#4b4f9e" stroke="none" stroke-width="1"/>
<circle cx="360" cy="685.06" r="1.7" fill="#4b4f9e" stroke="none" stroke-width="1"/>
<circle cx="362" cy="685.06" r="1.7" fill="#4b4f9e" stroke="none" stroke-width="1"/>
<circle cx="315" cy="702.86" r="1.7" fill="#e5322b" stroke="none" stroke-width="1"/>
<circle cx="315" cy="704.86" r="1.7" fill="#e5322b" stroke="none" stroke-width="1"/>
<circle cx="315" cy="698.86" r="1.7" fill="#e5322b" stroke="none" stroke-width="1"/>
<circle cx="392" cy="702.86" r="1.7" fill="#e5322b" stroke="none" stroke-width="1"/>
<circle cx="397" cy="702.86" r="1.7" fill="#e5322b" stroke="none" stroke-width="1"/>
<circle cx="400" cy="702.86" r="1.7" fill="#e5322b" stroke="none" stroke-width="1"/>
<line x1="468.6" y1="694.06" x2="474.6" y2="694.06" stroke="#444" stroke-width="1.3" />
<rect x="168" y="725.9" width="300.6" height="11.6" fill="#9298d3" stroke="#3b3f68" stroke-width="1.4"/>
<rect x="301.5" y="743.7" width="167.1" height="11.6" fill="#fbb9b2" stroke="#5e3838" stroke-width="1.4"/>
<line x1="129.6" y1="731.7" x2="168" y2="731.7" stroke="#111" stroke-width="1.6" />
<line x1="129.6" y1="727.7" x2="129.6" y2="735.7" stroke="#111" stroke-width="1.6" />
<line x1="277.2" y1="749.5" x2="301.5" y2="749.5" stroke="#111" stroke-width="1.6" />
<line x1="277.2" y1="745.5" x2="277.2" y2="753.5" stroke="#111" stroke-width="1.6" />
<circle cx="62.5" cy="731.7" r="1.7" fill="#4b4f9e" stroke="none" stroke-width="1"/>
<circle cx="69.6" cy="731.7" r="1.7" fill="#4b4f9e" stroke="none" stroke-width="1"/>
<circle cx="69.6" cy="733.7" r="1.7" fill="#4b4f9e" stroke="none" stroke-width="1"/>
<circle cx="107.9" cy="731.7" r="1.7" fill="#4b4f9e" stroke="none" stroke-width="1"/>
<circle cx="116.6" cy="731.7" r="1.7" fill="#4b4f9e" stroke="none" stroke-width="1"/>
<circle cx="297" cy="731.7" r="1.7" fill="#4b4f9e" stroke="none" stroke-width="1"/>
<circle cx="319" cy="731.7" r="1.7" fill="#4b4f9e" stroke="none" stroke-width="1"/>
<circle cx="331" cy="731.7" r="1.7" fill="#4b4f9e" stroke="none" stroke-width="1"/>
<circle cx="163.6" cy="749.5" r="1.7" fill="#e5322b" stroke="none" stroke-width="1"/>
<circle cx="226" cy="749.5" r="1.7" fill="#e5322b" stroke="none" stroke-width="1"/>
<circle cx="246" cy="749.5" r="1.7" fill="#e5322b" stroke="none" stroke-width="1"/>
<circle cx="319" cy="749.5" r="1.7" fill="#e5322b" stroke="none" stroke-width="1"/>
<circle cx="329" cy="749.5" r="1.7" fill="#e5322b" stroke="none" stroke-width="1"/>
<circle cx="344" cy="749.5" r="1.7" fill="#e5322b" stroke="none" stroke-width="1"/>
<circle cx="354" cy="749.5" r="1.7" fill="#e5322b" stroke="none" stroke-width="1"/>
<circle cx="361" cy="749.5" r="1.7" fill="#e5322b" stroke="none" stroke-width="1"/>
<circle cx="365" cy="749.5" r="1.7" fill="#e5322b" stroke="none" stroke-width="1"/>
<line x1="468.6" y1="740.7" x2="474.6" y2="740.7" stroke="#444" stroke-width="1.3" />
<rect x="311.6" y="772.54" width="157" height="11.6" fill="#9298d3" stroke="#3b3f68" stroke-width="1.4"/>
<rect x="355.3" y="790.34" width="113.3" height="11.6" fill="#fbb9b2" stroke="#5e3838" stroke-width="1.4"/>
<line x1="256.5" y1="778.34" x2="311.6" y2="778.34" stroke="#111" stroke-width="1.6" />
<line x1="256.5" y1="774.34" x2="256.5" y2="782.34" stroke="#111" stroke-width="1.6" />
<line x1="345.6" y1="796.14" x2="355.3" y2="796.14" stroke="#111" stroke-width="1.6" />
<line x1="345.6" y1="792.14" x2="345.6" y2="800.14" stroke="#111" stroke-width="1.6" />
<circle cx="144" cy="778.34" r="1.7" fill="#4b4f9e" stroke="none" stroke-width="1"/>
<circle cx="188.8" cy="778.34" r="1.7" fill="#4b4f9e" stroke="none" stroke-width="1"/>
<circle cx="244" cy="778.34" r="1.7" fill="#4b4f9e" stroke="none" stroke-width="1"/>
<circle cx="430" cy="778.34" r="1.7" fill="#4b4f9e" stroke="none" stroke-width="1"/>
<circle cx="430" cy="780.34" r="1.7" fill="#4b4f9e" stroke="none" stroke-width="1"/>
<circle cx="319" cy="796.14" r="1.7" fill="#e5322b" stroke="none" stroke-width="1"/>
<circle cx="329" cy="796.14" r="1.7" fill="#e5322b" stroke="none" stroke-width="1"/>
<circle cx="329" cy="798.14" r="1.7" fill="#e5322b" stroke="none" stroke-width="1"/>
<circle cx="329" cy="792.14" r="1.7" fill="#e5322b" stroke="none" stroke-width="1"/>
<circle cx="361" cy="796.14" r="1.7" fill="#e5322b" stroke="none" stroke-width="1"/>
<circle cx="369" cy="796.14" r="1.7" fill="#e5322b" stroke="none" stroke-width="1"/>
<circle cx="374" cy="796.14" r="1.7" fill="#e5322b" stroke="none" stroke-width="1"/>
<circle cx="380" cy="796.14" r="1.7" fill="#e5322b" stroke="none" stroke-width="1"/>
<circle cx="400" cy="796.14" r="1.7" fill="#e5322b" stroke="none" stroke-width="1"/>
<line x1="468.6" y1="787.34" x2="474.6" y2="787.34" stroke="#444" stroke-width="1.3" />
<circle cx="349.7" cy="32.85" r="1.9" fill="#3f4597" stroke="none" stroke-width="1"/>
<circle cx="356.6" cy="29.96" r="1.9" fill="#3f4597" stroke="none" stroke-width="1"/>
<circle cx="343.63" cy="29.89" r="1.9" fill="#3f4597" stroke="none" stroke-width="1"/>
<circle cx="350.08" cy="32.14" r="1.9" fill="#3f4597" stroke="none" stroke-width="1"/>
<circle cx="361.33" cy="29.95" r="1.9" fill="#3f4597" stroke="none" stroke-width="1"/>
<circle cx="354.24" cy="30.05" r="1.9" fill="#3f4597" stroke="none" stroke-width="1"/>
<circle cx="337.01" cy="30.22" r="1.9" fill="#3f4597" stroke="none" stroke-width="1"/>
<circle cx="359.7" cy="30.72" r="1.9" fill="#3f4597" stroke="none" stroke-width="1"/>
<circle cx="336.78" cy="32.49" r="1.9" fill="#3f4597" stroke="none" stroke-width="1"/>
<circle cx="336.31" cy="31.58" r="1.9" fill="#3f4597" stroke="none" stroke-width="1"/>
<circle cx="354.75" cy="33.89" r="1.9" fill="#3f4597" stroke="none" stroke-width="1"/>
<circle cx="351.59" cy="31.05" r="1.9" fill="#3f4597" stroke="none" stroke-width="1"/>
<circle cx="354.78" cy="31.14" r="1.9" fill="#3f4597" stroke="none" stroke-width="1"/>
<circle cx="355.55" cy="33.68" r="1.9" fill="#3f4597" stroke="none" stroke-width="1"/>
<circle cx="357.01" cy="32.79" r="1.9" fill="#3f4597" stroke="none" stroke-width="1"/>
<circle cx="362.77" cy="31.46" r="1.9" fill="#3f4597" stroke="none" stroke-width="1"/>
<circle cx="348.9" cy="29.9" r="1.9" fill="#3f4597" stroke="none" stroke-width="1"/>
<circle cx="351.04" cy="30.63" r="1.9" fill="#3f4597" stroke="none" stroke-width="1"/>
<circle cx="347.97" cy="31.17" r="1.9" fill="#3f4597" stroke="none" stroke-width="1"/>
<circle cx="343.39" cy="32.53" r="1.9" fill="#3f4597" stroke="none" stroke-width="1"/>
<circle cx="344.73" cy="33.57" r="1.9" fill="#3f4597" stroke="none" stroke-width="1"/>
<circle cx="354.2" cy="33.09" r="1.9" fill="#3f4597" stroke="none" stroke-width="1"/>
<circle cx="352.44" cy="32.23" r="1.9" fill="#3f4597" stroke="none" stroke-width="1"/>
<circle cx="363.76" cy="33.98" r="1.9" fill="#3f4597" stroke="none" stroke-width="1"/>
<circle cx="351.04" cy="34.5" r="1.9" fill="#3f4597" stroke="none" stroke-width="1"/>
<circle cx="344.64" cy="30.19" r="1.9" fill="#3f4597" stroke="none" stroke-width="1"/>
<circle cx="333" cy="32.1" r="1.9" fill="#3f4597" stroke="none" stroke-width="1"/>
<circle cx="336" cy="32.1" r="1.9" fill="#3f4597" stroke="none" stroke-width="1"/>
<circle cx="345" cy="32.1" r="1.9" fill="#3f4597" stroke="none" stroke-width="1"/>
<circle cx="372" cy="32.1" r="1.9" fill="#3f4597" stroke="none" stroke-width="1"/>
<circle cx="365" cy="32.1" r="1.9" fill="#3f4597" stroke="none" stroke-width="1"/>
<circle cx="339.42" cy="47.81" r="1.7" fill="#e5322b" stroke="none" stroke-width="1"/>
<circle cx="366.93" cy="49.83" r="1.7" fill="#e5322b" stroke="none" stroke-width="1"/>
<circle cx="374.29" cy="51.49" r="1.7" fill="#e5322b" stroke="none" stroke-width="1"/>
<circle cx="361.35" cy="50.34" r="1.7" fill="#e5322b" stroke="none" stroke-width="1"/>
<circle cx="364.39" cy="51.07" r="1.7" fill="#e5322b" stroke="none" stroke-width="1"/>
<circle cx="349.66" cy="50.47" r="1.7" fill="#e5322b" stroke="none" stroke-width="1"/>
<circle cx="345.39" cy="51.94" r="1.7" fill="#e5322b" stroke="none" stroke-width="1"/>
<circle cx="350.63" cy="52.57" r="1.7" fill="#e5322b" stroke="none" stroke-width="1"/>
<circle cx="339.51" cy="47.26" r="1.7" fill="#e5322b" stroke="none" stroke-width="1"/>
<circle cx="359.87" cy="51.11" r="1.7" fill="#e5322b" stroke="none" stroke-width="1"/>
<circle cx="334.2" cy="51.83" r="1.7" fill="#e5322b" stroke="none" stroke-width="1"/>
<circle cx="326.78" cy="48.61" r="1.7" fill="#e5322b" stroke="none" stroke-width="1"/>
<circle cx="343.56" cy="47.04" r="1.7" fill="#e5322b" stroke="none" stroke-width="1"/>
<circle cx="368.73" cy="49.67" r="1.7" fill="#e5322b" stroke="none" stroke-width="1"/>
<circle cx="359.95" cy="47.25" r="1.7" fill="#e5322b" stroke="none" stroke-width="1"/>
<circle cx="362.21" cy="51.51" r="1.7" fill="#e5322b" stroke="none" stroke-width="1"/>
<circle cx="363.22" cy="49.25" r="1.7" fill="#e5322b" stroke="none" stroke-width="1"/>
<circle cx="363.57" cy="52.13" r="1.7" fill="#e5322b" stroke="none" stroke-width="1"/>
<circle cx="368.46" cy="50.2" r="1.7" fill="#e5322b" stroke="none" stroke-width="1"/>
<circle cx="363.36" cy="52.2" r="1.7" fill="#e5322b" stroke="none" stroke-width="1"/>
<circle cx="367.11" cy="48.57" r="1.7" fill="#e5322b" stroke="none" stroke-width="1"/>
<circle cx="335.27" cy="49.39" r="1.7" fill="#e5322b" stroke="none" stroke-width="1"/>
<circle cx="341.27" cy="52.65" r="1.7" fill="#e5322b" stroke="none" stroke-width="1"/>
<circle cx="376.32" cy="47.81" r="1.7" fill="#e5322b" stroke="none" stroke-width="1"/>
<circle cx="360.9" cy="48.3" r="1.7" fill="#e5322b" stroke="none" stroke-width="1"/>
<circle cx="364.8" cy="49.81" r="1.7" fill="#e5322b" stroke="none" stroke-width="1"/>
<circle cx="349.06" cy="46.92" r="1.7" fill="#e5322b" stroke="none" stroke-width="1"/>
<circle cx="352.02" cy="49.41" r="1.7" fill="#e5322b" stroke="none" stroke-width="1"/>
<circle cx="346.43" cy="52.62" r="1.7" fill="#e5322b" stroke="none" stroke-width="1"/>
<circle cx="368.36" cy="51.04" r="1.7" fill="#e5322b" stroke="none" stroke-width="1"/>
<circle cx="340.44" cy="50.96" r="1.7" fill="#e5322b" stroke="none" stroke-width="1"/>
<circle cx="355.38" cy="47.22" r="1.7" fill="#e5322b" stroke="none" stroke-width="1"/>
<circle cx="373.86" cy="52.15" r="1.7" fill="#e5322b" stroke="none" stroke-width="1"/>
<circle cx="344.68" cy="51.69" r="1.7" fill="#e5322b" stroke="none" stroke-width="1"/>
<circle cx="347.56" cy="47.52" r="1.7" fill="#e5322b" stroke="none" stroke-width="1"/>
<circle cx="364.58" cy="50.71" r="1.7" fill="#e5322b" stroke="none" stroke-width="1"/>
<circle cx="361.14" cy="48.15" r="1.7" fill="#e5322b" stroke="none" stroke-width="1"/>
<circle cx="358.71" cy="47.87" r="1.7" fill="#e5322b" stroke="none" stroke-width="1"/>
<circle cx="354.89" cy="46.9" r="1.7" fill="#e5322b" stroke="none" stroke-width="1"/>
<circle cx="360.33" cy="47.81" r="1.7" fill="#e5322b" stroke="none" stroke-width="1"/>
<line x1="355.3" y1="17" x2="355.3" y2="808" stroke="#0a0a0a" stroke-width="2.6" stroke-dasharray="9 4.1" stroke-dashoffset="12.8"/>
<line x1="468.6" y1="17" x2="468.6" y2="808.6" stroke="#444" stroke-width="1.4" />
<line x1="14.5" y1="808" x2="469.3" y2="808" stroke="#444" stroke-width="1.6" />
<line x1="15.1" y1="808" x2="15.1" y2="814" stroke="#444" stroke-width="1.4" />
<text x="15.1" y="835.2" font-size="26.5" text-anchor="middle" fill="#111">4</text>
<line x1="128.4" y1="808" x2="128.4" y2="814" stroke="#444" stroke-width="1.4" />
<text x="128.4" y="835.2" font-size="26.5" text-anchor="middle" fill="#111">3</text>
<line x1="241.7" y1="808" x2="241.7" y2="814" stroke="#444" stroke-width="1.4" />
<text x="241.7" y="835.2" font-size="26.5" text-anchor="middle" fill="#111">2</text>
<line x1="355" y1="808" x2="355" y2="814" stroke="#444" stroke-width="1.4" />
<text x="355" y="835.2" font-size="26.5" text-anchor="middle" fill="#111">1</text>
<line x1="468.3" y1="808" x2="468.3" y2="814" stroke="#444" stroke-width="1.4" />
<text x="468.3" y="835.2" font-size="26.5" text-anchor="middle" fill="#111">0</text>
<text x="250" y="868" font-size="29.5" text-anchor="middle" fill="#111">CD154 fold-change</text>
<text x="523.6" y="49.9" font-size="22.3" text-anchor="middle" fill="#111">tNGFR</text>
<text x="523.6" y="96.2" font-size="22.3" text-anchor="middle" fill="#111">ADA</text>
<text x="523.6" y="142.5" font-size="22.3" text-anchor="middle" fill="#111">IFNL2</text>
<text x="523.6" y="188.8" font-size="22.3" text-anchor="middle" fill="#111">IL12B</text>
<text x="523.6" y="235.1" font-size="22.3" text-anchor="middle" fill="#111">CALML3</text>
<text x="523.6" y="281.4" font-size="22.3" text-anchor="middle" fill="#111">DBI</text>
<text x="523.6" y="327.7" font-size="22.3" text-anchor="middle" fill="#111">MRPL51</text>
<text x="523.6" y="374" font-size="22.3" text-anchor="middle" fill="#111">GPN3</text>
<text x="523.6" y="420.3" font-size="22.3" text-anchor="middle" fill="#111">GPD1</text>
<text x="523.6" y="466.6" font-size="22.3" text-anchor="middle" fill="#111">BATF</text>
<text x="523.6" y="512.9" font-size="22.3" text-anchor="middle" fill="#111">AHNAK</text>
<text x="523.6" y="559.2" font-size="22.3" text-anchor="middle" fill="#111">ITM2A</text>
<text x="523.6" y="605.5" font-size="22.3" text-anchor="middle" fill="#111">ATF6B</text>
<text x="523.6" y="651.8" font-size="22.3" text-anchor="middle" fill="#111">AKR1C4</text>
<text x="523.6" y="698.1" font-size="22.3" text-anchor="middle" fill="#111">DUPD1</text>
<text x="523.6" y="744.4" font-size="22.3" text-anchor="middle" fill="#111">AHCY</text>
<text x="523.6" y="790.7" font-size="22.3" text-anchor="middle" fill="#111">LTBR</text>
<rect x="575.2" y="31" width="55.8" height="11.3" fill="#9298d3" stroke="#3b3f68" stroke-width="1.4"/>
<rect x="575.2" y="48.7" width="55.8" height="11" fill="#fbb9b2" stroke="#5e3838" stroke-width="1.4"/>
<line x1="569.2" y1="45.5" x2="575.2" y2="45.5" stroke="#444" stroke-width="1.3" />
<rect x="575.2" y="77.29" width="68.1" height="11.3" fill="#9298d3" stroke="#3b3f68" stroke-width="1.4"/>
<rect x="575.2" y="94.99" width="91.4" height="11" fill="#fbb9b2" stroke="#5e3838" stroke-width="1.4"/>
<line x1="643.3" y1="82.94" x2="649.7" y2="82.94" stroke="#111" stroke-width="1.6" />
<line x1="649.7" y1="78.94" x2="649.7" y2="86.94" stroke="#111" stroke-width="1.6" />
<line x1="666.6" y1="100.49" x2="683" y2="100.49" stroke="#111" stroke-width="1.6" />
<line x1="683" y1="96.49" x2="683" y2="104.49" stroke="#111" stroke-width="1.6" />
<circle cx="653.9" cy="82.94" r="1.7" fill="#4b4f9e" stroke="none" stroke-width="1"/>
<circle cx="661.6" cy="82.94" r="1.7" fill="#4b4f9e" stroke="none" stroke-width="1"/>
<circle cx="656" cy="82.94" r="1.7" fill="#4b4f9e" stroke="none" stroke-width="1"/>
<circle cx="631" cy="82.94" r="1.7" fill="#4b4f9e" stroke="none" stroke-width="1"/>
<circle cx="702" cy="100.49" r="1.7" fill="#e5322b" stroke="none" stroke-width="1"/>
<circle cx="719.6" cy="100.49" r="1.7" fill="#e5322b" stroke="none" stroke-width="1"/>
<circle cx="731.8" cy="100.49" r="1.7" fill="#e5322b" stroke="none" stroke-width="1"/>
<circle cx="607" cy="100.49" r="1.7" fill="#e5322b" stroke="none" stroke-width="1"/>
<circle cx="611" cy="100.49" r="1.7" fill="#e5322b" stroke="none" stroke-width="1"/>
<circle cx="615" cy="100.49" r="1.7" fill="#e5322b" stroke="none" stroke-width="1"/>
<circle cx="671" cy="100.49" r="1.7" fill="#e5322b" stroke="none" stroke-width="1"/>
<circle cx="671" cy="102.49" r="1.7" fill="#e5322b" stroke="none" stroke-width="1"/>
<line x1="569.2" y1="91.79" x2="575.2" y2="91.79" stroke="#444" stroke-width="1.3" />
<rect x="575.2" y="123.58" width="77.3" height="11.3" fill="#9298d3" stroke="#3b3f68" stroke-width="1.4"/>
<rect x="575.2" y="141.28" width="72.8" height="11" fill="#fbb9b2" stroke="#5e3838" stroke-width="1.4"/>
<line x1="652.5" y1="129.23" x2="668.3" y2="129.23" stroke="#111" stroke-width="1.6" />
<line x1="668.3" y1="125.23" x2="668.3" y2="133.23" stroke="#111" stroke-width="1.6" />
<line x1="648" y1="146.78" x2="653.9" y2="146.78" stroke="#111" stroke-width="1.6" />
<line x1="653.9" y1="142.78" x2="653.9" y2="150.78" stroke="#111" stroke-width="1.6" />
<circle cx="685.8" cy="129.23" r="1.7" fill="#4b4f9e" stroke="none" stroke-width="1"/>
<circle cx="685.8" cy="131.23" r="1.7" fill="#4b4f9e" stroke="none" stroke-width="1"/>
<circle cx="687" cy="129.23" r="1.7" fill="#4b4f9e" stroke="none" stroke-width="1"/>
<circle cx="618" cy="129.23" r="1.7" fill="#4b4f9e" stroke="none" stroke-width="1"/>
<circle cx="620" cy="129.23" r="1.7" fill="#4b4f9e" stroke="none" stroke-width="1"/>
<circle cx="668.3" cy="146.78" r="1.7" fill="#e5322b" stroke="none" stroke-width="1"/>
<circle cx="631" cy="146.78" r="1.7" fill="#e5322b" stroke="none" stroke-width="1"/>
<circle cx="640" cy="146.78" r="1.7" fill="#e5322b" stroke="none" stroke-width="1"/>
<circle cx="648" cy="146.78" r="1.7" fill="#e5322b" stroke="none" stroke-width="1"/>
<circle cx="652" cy="146.78" r="1.7" fill="#e5322b" stroke="none" stroke-width="1"/>
<line x1="569.2" y1="138.08" x2="575.2" y2="138.08" stroke="#444" stroke-width="1.3" />
<rect x="575.2" y="169.87" width="138.1" height="11.3" fill="#9298d3" stroke="#3b3f68" stroke-width="1.4"/>
<rect x="575.2" y="187.57" width="216.8" height="11" fill="#fbb9b2" stroke="#5e3838" stroke-width="1.4"/>
<line x1="713.3" y1="175.52" x2="732" y2="175.52" stroke="#111" stroke-width="1.6" />
<line x1="732" y1="171.52" x2="732" y2="179.52" stroke="#111" stroke-width="1.6" />
<line x1="792" y1="193.07" x2="820.4" y2="193.07" stroke="#111" stroke-width="1.6" />
<line x1="820.4" y1="189.07" x2="820.4" y2="197.07" stroke="#111" stroke-width="1.6" />
<circle cx="771.8" cy="175.52" r="1.7" fill="#4b4f9e" stroke="none" stroke-width="1"/>
<circle cx="778.8" cy="175.52" r="1.7" fill="#4b4f9e" stroke="none" stroke-width="1"/>
<circle cx="784.3" cy="175.52" r="1.7" fill="#4b4f9e" stroke="none" stroke-width="1"/>
<circle cx="797.6" cy="175.52" r="1.7" fill="#4b4f9e" stroke="none" stroke-width="1"/>
<circle cx="645" cy="175.52" r="1.7" fill="#4b4f9e" stroke="none" stroke-width="1"/>
<circle cx="661" cy="175.52" r="1.7" fill="#4b4f9e" stroke="none" stroke-width="1"/>
<circle cx="667" cy="175.52" r="1.7" fill="#4b4f9e" stroke="none" stroke-width="1"/>
<circle cx="931.5" cy="193.07" r="1.7" fill="#e5322b" stroke="none" stroke-width="1"/>
<circle cx="981" cy="193.07" r="1.7" fill="#e5322b" stroke="none" stroke-width="1"/>
<circle cx="1012" cy="193.07" r="1.7" fill="#e5322b" stroke="none" stroke-width="1"/>
<circle cx="677" cy="193.07" r="1.7" fill="#e5322b" stroke="none" stroke-width="1"/>
<circle cx="680" cy="193.07" r="1.7" fill="#e5322b" stroke="none" stroke-width="1"/>
<circle cx="685" cy="193.07" r="1.7" fill="#e5322b" stroke="none" stroke-width="1"/>
<circle cx="694" cy="193.07" r="1.7" fill="#e5322b" stroke="none" stroke-width="1"/>
<circle cx="703" cy="193.07" r="1.7" fill="#e5322b" stroke="none" stroke-width="1"/>
<circle cx="713" cy="193.07" r="1.7" fill="#e5322b" stroke="none" stroke-width="1"/>
<line x1="569.2" y1="184.37" x2="575.2" y2="184.37" stroke="#444" stroke-width="1.3" />
<rect x="575.2" y="216.16" width="56.4" height="11.3" fill="#9298d3" stroke="#3b3f68" stroke-width="1.4"/>
<rect x="575.2" y="233.86" width="83.4" height="11" fill="#fbb9b2" stroke="#5e3838" stroke-width="1.4"/>
<line x1="658.6" y1="239.36" x2="671.3" y2="239.36" stroke="#111" stroke-width="1.6" />
<line x1="671.3" y1="235.36" x2="671.3" y2="243.36" stroke="#111" stroke-width="1.6" />
<circle cx="637" cy="221.81" r="1.7" fill="#4b4f9e" stroke="none" stroke-width="1"/>
<circle cx="640" cy="221.81" r="1.7" fill="#4b4f9e" stroke="none" stroke-width="1"/>
<circle cx="627" cy="221.81" r="1.7" fill="#4b4f9e" stroke="none" stroke-width="1"/>
<circle cx="695.5" cy="239.36" r="1.7" fill="#e5322b" stroke="none" stroke-width="1"/>
<circle cx="697" cy="239.36" r="1.7" fill="#e5322b" stroke="none" stroke-width="1"/>
<circle cx="703.8" cy="239.36" r="1.7" fill="#e5322b" stroke="none" stroke-width="1"/>
<circle cx="611" cy="239.36" r="1.7" fill="#e5322b" stroke="none" stroke-width="1"/>
<circle cx="615" cy="239.36" r="1.7" fill="#e5322b" stroke="none" stroke-width="1"/>
<circle cx="661" cy="239.36" r="1.7" fill="#e5322b" stroke="none" stroke-width="1"/>
<circle cx="661" cy="241.36" r="1.7" fill="#e5322b" stroke="none" stroke-width="1"/>
<line x1="569.2" y1="230.66" x2="575.2" y2="230.66" stroke="#444" stroke-width="1.3" />
<rect x="575.2" y="262.45" width="68.8" height="11.3" fill="#9298d3" stroke="#3b3f68" stroke-width="1.4"/>
<rect x="575.2" y="280.15" width="71.8" height="11" fill="#fbb9b2" stroke="#5e3838" stroke-width="1.4"/>
<line x1="644" y1="268.1" x2="652.5" y2="268.1" stroke="#111" stroke-width="1.6" />
<line x1="652.5" y1="264.1" x2="652.5" y2="272.1" stroke="#111" stroke-width="1.6" />
<line x1="647" y1="285.65" x2="657.5" y2="285.65" stroke="#111" stroke-width="1.6" />
<line x1="657.5" y1="281.65" x2="657.5" y2="289.65" stroke="#111" stroke-width="1.6" />
<circle cx="655" cy="268.1" r="1.7" fill="#4b4f9e" stroke="none" stroke-width="1"/>
<circle cx="676" cy="268.1" r="1.7" fill="#4b4f9e" stroke="none" stroke-width="1"/>
<circle cx="628" cy="268.1" r="1.7" fill="#4b4f9e" stroke="none" stroke-width="1"/>
<circle cx="631" cy="268.1" r="1.7" fill="#4b4f9e" stroke="none" stroke-width="1"/>
<circle cx="662" cy="285.65" r="1.7" fill="#e5322b" stroke="none" stroke-width="1"/>
<circle cx="665" cy="285.65" r="1.7" fill="#e5322b" stroke="none" stroke-width="1"/>
<circle cx="669" cy="285.65" r="1.7" fill="#e5322b" stroke="none" stroke-width="1"/>
<circle cx="672" cy="285.65" r="1.7" fill="#e5322b" stroke="none" stroke-width="1"/>
<circle cx="676" cy="285.65" r="1.7" fill="#e5322b" stroke="none" stroke-width="1"/>
<circle cx="604" cy="285.65" r="1.7" fill="#e5322b" stroke="none" stroke-width="1"/>
<circle cx="610" cy="285.65" r="1.7" fill="#e5322b" stroke="none" stroke-width="1"/>
<line x1="569.2" y1="276.95" x2="575.2" y2="276.95" stroke="#444" stroke-width="1.3" />
<rect x="575.2" y="308.74" width="63.8" height="11.3" fill="#9298d3" stroke="#3b3f68" stroke-width="1.4"/>
<rect x="575.2" y="326.44" width="41.4" height="11" fill="#fbb9b2" stroke="#5e3838" stroke-width="1.4"/>
<line x1="639" y1="314.39" x2="649.7" y2="314.39" stroke="#111" stroke-width="1.6" />
<line x1="649.7" y1="310.39" x2="649.7" y2="318.39" stroke="#111" stroke-width="1.6" />
<line x1="616.6" y1="331.94" x2="623.3" y2="331.94" stroke="#111" stroke-width="1.6" />
<line x1="623.3" y1="327.94" x2="623.3" y2="335.94" stroke="#111" stroke-width="1.6" />
<circle cx="659.4" cy="314.39" r="1.7" fill="#4b4f9e" stroke="none" stroke-width="1"/>
<circle cx="661" cy="314.39" r="1.7" fill="#4b4f9e" stroke="none" stroke-width="1"/>
<circle cx="667" cy="314.39" r="1.7" fill="#4b4f9e" stroke="none" stroke-width="1"/>
<circle cx="616" cy="314.39" r="1.7" fill="#4b4f9e" stroke="none" stroke-width="1"/>
<circle cx="626" cy="314.39" r="1.7" fill="#4b4f9e" stroke="none" stroke-width="1"/>
<circle cx="631" cy="314.39" r="1.7" fill="#4b4f9e" stroke="none" stroke-width="1"/>
<circle cx="622" cy="331.94" r="1.7" fill="#e5322b" stroke="none" stroke-width="1"/>
<circle cx="624" cy="331.94" r="1.7" fill="#e5322b" stroke="none" stroke-width="1"/>
<circle cx="631" cy="331.94" r="1.7" fill="#e5322b" stroke="none" stroke-width="1"/>
<circle cx="634" cy="331.94" r="1.7" fill="#e5322b" stroke="none" stroke-width="1"/>
<circle cx="637" cy="331.94" r="1.7" fill="#e5322b" stroke="none" stroke-width="1"/>
<circle cx="600" cy="331.94" r="1.7" fill="#e5322b" stroke="none" stroke-width="1"/>
<circle cx="604" cy="331.94" r="1.7" fill="#e5322b" stroke="none" stroke-width="1"/>
<line x1="569.2" y1="323.24" x2="575.2" y2="323.24" stroke="#444" stroke-width="1.3" />
<rect x="575.2" y="355.03" width="53.7" height="11.3" fill="#9298d3" stroke="#3b3f68" stroke-width="1.4"/>
<rect x="575.2" y="372.73" width="56.8" height="11" fill="#fbb9b2" stroke="#5e3838" stroke-width="1.4"/>
<line x1="632" y1="378.23" x2="640" y2="378.23" stroke="#111" stroke-width="1.6" />
<line x1="640" y1="374.23" x2="640" y2="382.23" stroke="#111" stroke-width="1.6" />
<circle cx="626" cy="360.68" r="1.7" fill="#4b4f9e" stroke="none" stroke-width="1"/>
<circle cx="628" cy="360.68" r="1.7" fill="#4b4f9e" stroke="none" stroke-width="1"/>
<circle cx="622" cy="360.68" r="1.7" fill="#4b4f9e" stroke="none" stroke-width="1"/>
<circle cx="645.5" cy="378.23" r="1.7" fill="#e5322b" stroke="none" stroke-width="1"/>
<circle cx="648" cy="378.23" r="1.7" fill="#e5322b" stroke="none" stroke-width="1"/>
<circle cx="650" cy="378.23" r="1.7" fill="#e5322b" stroke="none" stroke-width="1"/>
<circle cx="655" cy="378.23" r="1.7" fill="#e5322b" stroke="none" stroke-width="1"/>
<circle cx="603" cy="378.23" r="1.7" fill="#e5322b" stroke="none" stroke-width="1"/>
<circle cx="605" cy="378.23" r="1.7" fill="#e5322b" stroke="none" stroke-width="1"/>
<line x1="569.2" y1="369.53" x2="575.2" y2="369.53" stroke="#444" stroke-width="1.3" />
<rect x="575.2" y="401.32" width="81.8" height="11.3" fill="#9298d3" stroke="#3b3f68" stroke-width="1.4"/>
<rect x="575.2" y="419.02" width="65.3" height="11" fill="#fbb9b2" stroke="#5e3838" stroke-width="1.4"/>
<line x1="657" y1="406.97" x2="666.3" y2="406.97" stroke="#111" stroke-width="1.6" />
<line x1="666.3" y1="402.97" x2="666.3" y2="410.97" stroke="#111" stroke-width="1.6" />
<line x1="640.5" y1="424.52" x2="644" y2="424.52" stroke="#111" stroke-width="1.6" />
<line x1="644" y1="420.52" x2="644" y2="428.52" stroke="#111" stroke-width="1.6" />
<circle cx="671.3" cy="406.97" r="1.7" fill="#4b4f9e" stroke="none" stroke-width="1"/>
<circle cx="671.3" cy="408.97" r="1.7" fill="#4b4f9e" stroke="none" stroke-width="1"/>
<circle cx="679.7" cy="406.97" r="1.7" fill="#4b4f9e" stroke="none" stroke-width="1"/>
<circle cx="679.7" cy="408.97" r="1.7" fill="#4b4f9e" stroke="none" stroke-width="1"/>
<circle cx="687" cy="406.97" r="1.7" fill="#4b4f9e" stroke="none" stroke-width="1"/>
<circle cx="618" cy="406.97" r="1.7" fill="#4b4f9e" stroke="none" stroke-width="1"/>
<circle cx="621" cy="406.97" r="1.7" fill="#4b4f9e" stroke="none" stroke-width="1"/>
<circle cx="631" cy="406.97" r="1.7" fill="#4b4f9e" stroke="none" stroke-width="1"/>
<circle cx="652.5" cy="424.52" r="1.7" fill="#e5322b" stroke="none" stroke-width="1"/>
<circle cx="652.5" cy="426.52" r="1.7" fill="#e5322b" stroke="none" stroke-width="1"/>
<circle cx="643" cy="424.52" r="1.7" fill="#e5322b" stroke="none" stroke-width="1"/>
<circle cx="643" cy="426.52" r="1.7" fill="#e5322b" stroke="none" stroke-width="1"/>
<circle cx="631" cy="424.52" r="1.7" fill="#e5322b" stroke="none" stroke-width="1"/>
<circle cx="633" cy="424.52" r="1.7" fill="#e5322b" stroke="none" stroke-width="1"/>
<line x1="569.2" y1="415.82" x2="575.2" y2="415.82" stroke="#444" stroke-width="1.3" />
<rect x="575.2" y="447.61" width="269.6" height="11.3" fill="#9298d3" stroke="#3b3f68" stroke-width="1.4"/>
<rect x="575.2" y="465.31" width="67.5" height="11" fill="#fbb9b2" stroke="#5e3838" stroke-width="1.4"/>
<line x1="844.8" y1="453.26" x2="889" y2="453.26" stroke="#111" stroke-width="1.6" />
<line x1="889" y1="449.26" x2="889" y2="457.26" stroke="#111" stroke-width="1.6" />
<circle cx="956.4" cy="453.26" r="1.7" fill="#4b4f9e" stroke="none" stroke-width="1"/>
<circle cx="1000" cy="453.26" r="1.7" fill="#4b4f9e" stroke="none" stroke-width="1"/>
<circle cx="1039" cy="453.26" r="1.7" fill="#4b4f9e" stroke="none" stroke-width="1"/>
<circle cx="693" cy="453.26" r="1.7" fill="#4b4f9e" stroke="none" stroke-width="1"/>
<circle cx="696" cy="453.26" r="1.7" fill="#4b4f9e" stroke="none" stroke-width="1"/>
<circle cx="703" cy="453.26" r="1.7" fill="#4b4f9e" stroke="none" stroke-width="1"/>
<circle cx="833" cy="453.26" r="1.7" fill="#4b4f9e" stroke="none" stroke-width="1"/>
<circle cx="838" cy="453.26" r="1.7" fill="#4b4f9e" stroke="none" stroke-width="1"/>
<circle cx="645.5" cy="470.81" r="1.7" fill="#e5322b" stroke="none" stroke-width="1"/>
<circle cx="650" cy="470.81" r="1.7" fill="#e5322b" stroke="none" stroke-width="1"/>
<circle cx="631" cy="470.81" r="1.7" fill="#e5322b" stroke="none" stroke-width="1"/>
<circle cx="634" cy="470.81" r="1.7" fill="#e5322b" stroke="none" stroke-width="1"/>
<circle cx="637" cy="470.81" r="1.7" fill="#e5322b" stroke="none" stroke-width="1"/>
<line x1="569.2" y1="462.11" x2="575.2" y2="462.11" stroke="#444" stroke-width="1.3" />
<rect x="575.2" y="493.9" width="79.5" height="11.3" fill="#9298d3" stroke="#3b3f68" stroke-width="1.4"/>
<rect x="575.2" y="511.6" width="88.4" height="11" fill="#fbb9b2" stroke="#5e3838" stroke-width="1.4"/>
<line x1="654.7" y1="499.55" x2="668.3" y2="499.55" stroke="#111" stroke-width="1.6" />
<line x1="668.3" y1="495.55" x2="668.3" y2="503.55" stroke="#111" stroke-width="1.6" />
<line x1="663.6" y1="517.1" x2="667.7" y2="517.1" stroke="#111" stroke-width="1.6" />
<line x1="667.7" y1="513.1" x2="667.7" y2="521.1" stroke="#111" stroke-width="1.6" />
<circle cx="679.7" cy="499.55" r="1.7" fill="#4b4f9e" stroke="none" stroke-width="1"/>
<circle cx="686.3" cy="499.55" r="1.7" fill="#4b4f9e" stroke="none" stroke-width="1"/>
<circle cx="626" cy="499.55" r="1.7" fill="#4b4f9e" stroke="none" stroke-width="1"/>
<circle cx="629" cy="499.55" r="1.7" fill="#4b4f9e" stroke="none" stroke-width="1"/>
<circle cx="666" cy="517.1" r="1.7" fill="#e5322b" stroke="none" stroke-width="1"/>
<circle cx="668" cy="517.1" r="1.7" fill="#e5322b" stroke="none" stroke-width="1"/>
<circle cx="657" cy="517.1" r="1.7" fill="#e5322b" stroke="none" stroke-width="1"/>
<line x1="569.2" y1="508.4" x2="575.2" y2="508.4" stroke="#444" stroke-width="1.3" />
<rect x="575.2" y="540.19" width="69.2" height="11.3" fill="#9298d3" stroke="#3b3f68" stroke-width="1.4"/>
<rect x="575.2" y="557.89" width="59.2" height="11" fill="#fbb9b2" stroke="#5e3838" stroke-width="1.4"/>
<line x1="644.4" y1="545.84" x2="656" y2="545.84" stroke="#111" stroke-width="1.6" />
<line x1="656" y1="541.84" x2="656" y2="549.84" stroke="#111" stroke-width="1.6" />
<line x1="634.4" y1="563.39" x2="638.6" y2="563.39" stroke="#111" stroke-width="1.6" />
<line x1="638.6" y1="559.39" x2="638.6" y2="567.39" stroke="#111" stroke-width="1.6" />
<circle cx="662.7" cy="545.84" r="1.7" fill="#4b4f9e" stroke="none" stroke-width="1"/>
<circle cx="664" cy="545.84" r="1.7" fill="#4b4f9e" stroke="none" stroke-width="1"/>
<circle cx="681.6" cy="545.84" r="1.7" fill="#4b4f9e" stroke="none" stroke-width="1"/>
<circle cx="617" cy="545.84" r="1.7" fill="#4b4f9e" stroke="none" stroke-width="1"/>
<circle cx="619" cy="545.84" r="1.7" fill="#4b4f9e" stroke="none" stroke-width="1"/>
<circle cx="647" cy="563.39" r="1.7" fill="#e5322b" stroke="none" stroke-width="1"/>
<circle cx="657" cy="563.39" r="1.7" fill="#e5322b" stroke="none" stroke-width="1"/>
<circle cx="621" cy="563.39" r="1.7" fill="#e5322b" stroke="none" stroke-width="1"/>
<circle cx="626" cy="563.39" r="1.7" fill="#e5322b" stroke="none" stroke-width="1"/>
<circle cx="631" cy="563.39" r="1.7" fill="#e5322b" stroke="none" stroke-width="1"/>
<line x1="569.2" y1="554.69" x2="575.2" y2="554.69" stroke="#444" stroke-width="1.3" />
<rect x="575.2" y="586.48" width="141.1" height="11.3" fill="#9298d3" stroke="#3b3f68" stroke-width="1.4"/>
<rect x="575.2" y="604.18" width="85" height="11" fill="#fbb9b2" stroke="#5e3838" stroke-width="1.4"/>
<line x1="716.3" y1="592.13" x2="728" y2="592.13" stroke="#111" stroke-width="1.6" />
<line x1="728" y1="588.13" x2="728" y2="596.13" stroke="#111" stroke-width="1.6" />
<line x1="660.2" y1="609.68" x2="666.3" y2="609.68" stroke="#111" stroke-width="1.6" />
<line x1="666.3" y1="605.68" x2="666.3" y2="613.68" stroke="#111" stroke-width="1.6" />
<circle cx="748.2" cy="592.13" r="1.7" fill="#4b4f9e" stroke="none" stroke-width="1"/>
<circle cx="758" cy="592.13" r="1.7" fill="#4b4f9e" stroke="none" stroke-width="1"/>
<circle cx="765" cy="592.13" r="1.7" fill="#4b4f9e" stroke="none" stroke-width="1"/>
<circle cx="672" cy="592.13" r="1.7" fill="#4b4f9e" stroke="none" stroke-width="1"/>
<circle cx="680" cy="592.13" r="1.7" fill="#4b4f9e" stroke="none" stroke-width="1"/>
<circle cx="690" cy="592.13" r="1.7" fill="#4b4f9e" stroke="none" stroke-width="1"/>
<circle cx="707" cy="592.13" r="1.7" fill="#4b4f9e" stroke="none" stroke-width="1"/>
<circle cx="707" cy="594.13" r="1.7" fill="#4b4f9e" stroke="none" stroke-width="1"/>
<circle cx="673.8" cy="609.68" r="1.7" fill="#e5322b" stroke="none" stroke-width="1"/>
<circle cx="673.8" cy="611.68" r="1.7" fill="#e5322b" stroke="none" stroke-width="1"/>
<circle cx="683.5" cy="609.68" r="1.7" fill="#e5322b" stroke="none" stroke-width="1"/>
<circle cx="633" cy="609.68" r="1.7" fill="#e5322b" stroke="none" stroke-width="1"/>
<circle cx="636" cy="609.68" r="1.7" fill="#e5322b" stroke="none" stroke-width="1"/>
<circle cx="645" cy="609.68" r="1.7" fill="#e5322b" stroke="none" stroke-width="1"/>
<line x1="569.2" y1="600.98" x2="575.2" y2="600.98" stroke="#444" stroke-width="1.3" />
<rect x="575.2" y="632.77" width="87.8" height="11.3" fill="#9298d3" stroke="#3b3f68" stroke-width="1.4"/>
<rect x="575.2" y="650.47" width="82.2" height="11" fill="#fbb9b2" stroke="#5e3838" stroke-width="1.4"/>
<line x1="663" y1="638.42" x2="679.7" y2="638.42" stroke="#111" stroke-width="1.6" />
<line x1="679.7" y1="634.42" x2="679.7" y2="642.42" stroke="#111" stroke-width="1.6" />
<line x1="657.4" y1="655.97" x2="667.7" y2="655.97" stroke="#111" stroke-width="1.6" />
<line x1="667.7" y1="651.97" x2="667.7" y2="659.97" stroke="#111" stroke-width="1.6" />
<circle cx="695" cy="638.42" r="1.7" fill="#4b4f9e" stroke="none" stroke-width="1"/>
<circle cx="700" cy="638.42" r="1.7" fill="#4b4f9e" stroke="none" stroke-width="1"/>
<circle cx="705" cy="638.42" r="1.7" fill="#4b4f9e" stroke="none" stroke-width="1"/>
<circle cx="625" cy="638.42" r="1.7" fill="#4b4f9e" stroke="none" stroke-width="1"/>
<circle cx="628" cy="638.42" r="1.7" fill="#4b4f9e" stroke="none" stroke-width="1"/>
<circle cx="672" cy="655.97" r="1.7" fill="#e5322b" stroke="none" stroke-width="1"/>
<circle cx="677" cy="655.97" r="1.7" fill="#e5322b" stroke="none" stroke-width="1"/>
<circle cx="684" cy="655.97" r="1.7" fill="#e5322b" stroke="none" stroke-width="1"/>
<circle cx="690" cy="655.97" r="1.7" fill="#e5322b" stroke="none" stroke-width="1"/>
<circle cx="702" cy="655.97" r="1.7" fill="#e5322b" stroke="none" stroke-width="1"/>
<circle cx="614" cy="655.97" r="1.7" fill="#e5322b" stroke="none" stroke-width="1"/>
<circle cx="618" cy="655.97" r="1.7" fill="#e5322b" stroke="none" stroke-width="1"/>
<circle cx="622" cy="655.97" r="1.7" fill="#e5322b" stroke="none" stroke-width="1"/>
<line x1="569.2" y1="647.27" x2="575.2" y2="647.27" stroke="#444" stroke-width="1.3" />
<rect x="575.2" y="679.06" width="67.8" height="11.3" fill="#9298d3" stroke="#3b3f68" stroke-width="1.4"/>
<rect x="575.2" y="696.76" width="67.5" height="11" fill="#fbb9b2" stroke="#5e3838" stroke-width="1.4"/>
<line x1="643" y1="684.71" x2="652" y2="684.71" stroke="#111" stroke-width="1.6" />
<line x1="652" y1="680.71" x2="652" y2="688.71" stroke="#111" stroke-width="1.6" />
<line x1="642.7" y1="702.26" x2="645" y2="702.26" stroke="#111" stroke-width="1.6" />
<line x1="645" y1="698.26" x2="645" y2="706.26" stroke="#111" stroke-width="1.6" />
<circle cx="657.5" cy="684.71" r="1.7" fill="#4b4f9e" stroke="none" stroke-width="1"/>
<circle cx="665" cy="684.71" r="1.7" fill="#4b4f9e" stroke="none" stroke-width="1"/>
<circle cx="665" cy="686.71" r="1.7" fill="#4b4f9e" stroke="none" stroke-width="1"/>
<circle cx="623" cy="684.71" r="1.7" fill="#4b4f9e" stroke="none" stroke-width="1"/>
<circle cx="626" cy="684.71" r="1.7" fill="#4b4f9e" stroke="none" stroke-width="1"/>
<circle cx="645.5" cy="702.26" r="1.7" fill="#e5322b" stroke="none" stroke-width="1"/>
<circle cx="648" cy="702.26" r="1.7" fill="#e5322b" stroke="none" stroke-width="1"/>
<circle cx="651" cy="702.26" r="1.7" fill="#e5322b" stroke="none" stroke-width="1"/>
<circle cx="631" cy="702.26" r="1.7" fill="#e5322b" stroke="none" stroke-width="1"/>
<line x1="569.2" y1="693.56" x2="575.2" y2="693.56" stroke="#444" stroke-width="1.3" />
<rect x="575.2" y="725.35" width="143.8" height="11.3" fill="#9298d3" stroke="#3b3f68" stroke-width="1.4"/>
<rect x="575.2" y="743.05" width="88.3" height="11" fill="#fbb9b2" stroke="#5e3838" stroke-width="1.4"/>
<line x1="719" y1="731" x2="737" y2="731" stroke="#111" stroke-width="1.6" />
<line x1="737" y1="727" x2="737" y2="735" stroke="#111" stroke-width="1.6" />
<line x1="663.5" y1="748.55" x2="672" y2="748.55" stroke="#111" stroke-width="1.6" />
<line x1="672" y1="744.55" x2="672" y2="752.55" stroke="#111" stroke-width="1.6" />
<circle cx="752.3" cy="731" r="1.7" fill="#4b4f9e" stroke="none" stroke-width="1"/>
<circle cx="843.4" cy="731" r="1.7" fill="#4b4f9e" stroke="none" stroke-width="1"/>
<circle cx="676" cy="731" r="1.7" fill="#4b4f9e" stroke="none" stroke-width="1"/>
<circle cx="685" cy="731" r="1.7" fill="#4b4f9e" stroke="none" stroke-width="1"/>
<circle cx="688" cy="731" r="1.7" fill="#4b4f9e" stroke="none" stroke-width="1"/>
<circle cx="700" cy="731" r="1.7" fill="#4b4f9e" stroke="none" stroke-width="1"/>
<circle cx="703" cy="731" r="1.7" fill="#4b4f9e" stroke="none" stroke-width="1"/>
<circle cx="711" cy="731" r="1.7" fill="#4b4f9e" stroke="none" stroke-width="1"/>
<circle cx="715" cy="731" r="1.7" fill="#4b4f9e" stroke="none" stroke-width="1"/>
<circle cx="677.7" cy="748.55" r="1.7" fill="#e5322b" stroke="none" stroke-width="1"/>
<circle cx="697.4" cy="748.55" r="1.7" fill="#e5322b" stroke="none" stroke-width="1"/>
<circle cx="699.7" cy="748.55" r="1.7" fill="#e5322b" stroke="none" stroke-width="1"/>
<circle cx="638" cy="748.55" r="1.7" fill="#e5322b" stroke="none" stroke-width="1"/>
<circle cx="646" cy="748.55" r="1.7" fill="#e5322b" stroke="none" stroke-width="1"/>
<circle cx="654" cy="748.55" r="1.7" fill="#e5322b" stroke="none" stroke-width="1"/>
<circle cx="660" cy="748.55" r="1.7" fill="#e5322b" stroke="none" stroke-width="1"/>
<line x1="569.2" y1="739.85" x2="575.2" y2="739.85" stroke="#444" stroke-width="1.3" />
<rect x="575.2" y="771.64" width="87.5" height="11.3" fill="#9298d3" stroke="#3b3f68" stroke-width="1.4"/>
<rect x="575.2" y="789.34" width="80.2" height="11" fill="#fbb9b2" stroke="#5e3838" stroke-width="1.4"/>
<line x1="662.7" y1="777.29" x2="692" y2="777.29" stroke="#111" stroke-width="1.6" />
<line x1="692" y1="773.29" x2="692" y2="781.29" stroke="#111" stroke-width="1.6" />
<line x1="655.4" y1="794.84" x2="678.9" y2="794.84" stroke="#111" stroke-width="1.6" />
<line x1="678.9" y1="790.84" x2="678.9" y2="798.84" stroke="#111" stroke-width="1.6" />
<circle cx="724.3" cy="777.29" r="1.7" fill="#4b4f9e" stroke="none" stroke-width="1"/>
<circle cx="726.3" cy="777.29" r="1.7" fill="#4b4f9e" stroke="none" stroke-width="1"/>
<circle cx="733.5" cy="777.29" r="1.7" fill="#4b4f9e" stroke="none" stroke-width="1"/>
<circle cx="594" cy="777.29" r="1.7" fill="#4b4f9e" stroke="none" stroke-width="1"/>
<circle cx="597" cy="777.29" r="1.7" fill="#4b4f9e" stroke="none" stroke-width="1"/>
<circle cx="601" cy="777.29" r="1.7" fill="#4b4f9e" stroke="none" stroke-width="1"/>
<circle cx="767.3" cy="794.84" r="1.7" fill="#e5322b" stroke="none" stroke-width="1"/>
<circle cx="769.4" cy="794.84" r="1.7" fill="#e5322b" stroke="none" stroke-width="1"/>
<circle cx="591" cy="794.84" r="1.7" fill="#e5322b" stroke="none" stroke-width="1"/>
<circle cx="600" cy="794.84" r="1.7" fill="#e5322b" stroke="none" stroke-width="1"/>
<circle cx="626" cy="794.84" r="1.7" fill="#e5322b" stroke="none" stroke-width="1"/>
<circle cx="631" cy="794.84" r="1.7" fill="#e5322b" stroke="none" stroke-width="1"/>
<circle cx="634" cy="794.84" r="1.7" fill="#e5322b" stroke="none" stroke-width="1"/>
<circle cx="638" cy="794.84" r="1.7" fill="#e5322b" stroke="none" stroke-width="1"/>
<line x1="569.2" y1="786.14" x2="575.2" y2="786.14" stroke="#444" stroke-width="1.3" />
<circle cx="635.58" cy="34.33" r="1.9" fill="#3f4597" stroke="none" stroke-width="1"/>
<circle cx="634.4" cy="38.57" r="1.9" fill="#3f4597" stroke="none" stroke-width="1"/>
<circle cx="628.43" cy="35.46" r="1.9" fill="#3f4597" stroke="none" stroke-width="1"/>
<circle cx="628.76" cy="35.94" r="1.9" fill="#3f4597" stroke="none" stroke-width="1"/>
<circle cx="628.98" cy="38.44" r="1.9" fill="#3f4597" stroke="none" stroke-width="1"/>
<circle cx="633.31" cy="39.17" r="1.9" fill="#3f4597" stroke="none" stroke-width="1"/>
<circle cx="624.26" cy="34.63" r="1.9" fill="#3f4597" stroke="none" stroke-width="1"/>
<circle cx="632.46" cy="34.71" r="1.9" fill="#3f4597" stroke="none" stroke-width="1"/>
<circle cx="628.41" cy="38.34" r="1.9" fill="#3f4597" stroke="none" stroke-width="1"/>
<circle cx="634.93" cy="35.01" r="1.9" fill="#3f4597" stroke="none" stroke-width="1"/>
<circle cx="645.58" cy="36.84" r="1.9" fill="#3f4597" stroke="none" stroke-width="1"/>
<circle cx="633.13" cy="34.93" r="1.9" fill="#3f4597" stroke="none" stroke-width="1"/>
<circle cx="629.65" cy="36.84" r="1.9" fill="#3f4597" stroke="none" stroke-width="1"/>
<circle cx="630.62" cy="39.09" r="1.9" fill="#3f4597" stroke="none" stroke-width="1"/>
<circle cx="637.05" cy="35.51" r="1.9" fill="#3f4597" stroke="none" stroke-width="1"/>
<circle cx="623.99" cy="36.03" r="1.9" fill="#3f4597" stroke="none" stroke-width="1"/>
<circle cx="636.14" cy="36.86" r="1.9" fill="#3f4597" stroke="none" stroke-width="1"/>
<circle cx="639.95" cy="38.1" r="1.9" fill="#3f4597" stroke="none" stroke-width="1"/>
<circle cx="628.95" cy="38.26" r="1.9" fill="#3f4597" stroke="none" stroke-width="1"/>
<circle cx="634.74" cy="39.12" r="1.9" fill="#3f4597" stroke="none" stroke-width="1"/>
<circle cx="637.53" cy="38.29" r="1.9" fill="#3f4597" stroke="none" stroke-width="1"/>
<circle cx="622.31" cy="37.9" r="1.9" fill="#3f4597" stroke="none" stroke-width="1"/>
<circle cx="632.06" cy="35.98" r="1.9" fill="#3f4597" stroke="none" stroke-width="1"/>
<circle cx="638.17" cy="34.34" r="1.9" fill="#3f4597" stroke="none" stroke-width="1"/>
<circle cx="635.78" cy="35.5" r="1.9" fill="#3f4597" stroke="none" stroke-width="1"/>
<circle cx="631.85" cy="37.66" r="1.9" fill="#3f4597" stroke="none" stroke-width="1"/>
<circle cx="637.29" cy="38.89" r="1.9" fill="#3f4597" stroke="none" stroke-width="1"/>
<circle cx="629.24" cy="39.14" r="1.9" fill="#3f4597" stroke="none" stroke-width="1"/>
<circle cx="636.49" cy="35.3" r="1.9" fill="#3f4597" stroke="none" stroke-width="1"/>
<circle cx="629.41" cy="35.33" r="1.9" fill="#3f4597" stroke="none" stroke-width="1"/>
<circle cx="645" cy="36.7" r="1.6" fill="#5a5fb0" stroke="none" stroke-width="1"/>
<circle cx="649" cy="36.7" r="1.6" fill="#5a5fb0" stroke="none" stroke-width="1"/>
<circle cx="612" cy="36.7" r="1.6" fill="#5a5fb0" stroke="none" stroke-width="1"/>
<circle cx="615" cy="36.7" r="1.6" fill="#5a5fb0" stroke="none" stroke-width="1"/>
<circle cx="632.11" cy="54.82" r="1.9" fill="#e52a22" stroke="none" stroke-width="1"/>
<circle cx="634.19" cy="56.2" r="1.9" fill="#e52a22" stroke="none" stroke-width="1"/>
<circle cx="634.07" cy="54.96" r="1.9" fill="#e52a22" stroke="none" stroke-width="1"/>
<circle cx="626.18" cy="55.7" r="1.9" fill="#e52a22" stroke="none" stroke-width="1"/>
<circle cx="637.33" cy="56.25" r="1.9" fill="#e52a22" stroke="none" stroke-width="1"/>
<circle cx="634.73" cy="55.61" r="1.9" fill="#e52a22" stroke="none" stroke-width="1"/>
<circle cx="631.01" cy="52.59" r="1.9" fill="#e52a22" stroke="none" stroke-width="1"/>
<circle cx="625.3" cy="55.65" r="1.9" fill="#e52a22" stroke="none" stroke-width="1"/>
<circle cx="626.55" cy="56.56" r="1.9" fill="#e52a22" stroke="none" stroke-width="1"/>
<circle cx="638.8" cy="53.68" r="1.9" fill="#e52a22" stroke="none" stroke-width="1"/>
<circle cx="621.14" cy="55.32" r="1.9" fill="#e52a22" stroke="none" stroke-width="1"/>
<circle cx="638.03" cy="52.55" r="1.9" fill="#e52a22" stroke="none" stroke-width="1"/>
<circle cx="633" cy="56.22" r="1.9" fill="#e52a22" stroke="none" stroke-width="1"/>
<circle cx="633.05" cy="55.73" r="1.9" fill="#e52a22" stroke="none" stroke-width="1"/>
<circle cx="636.68" cy="56.6" r="1.9" fill="#e52a22" stroke="none" stroke-width="1"/>
<circle cx="638.44" cy="54.99" r="1.9" fill="#e52a22" stroke="none" stroke-width="1"/>
<circle cx="627.28" cy="52.35" r="1.9" fill="#e52a22" stroke="none" stroke-width="1"/>
<circle cx="636.09" cy="51.77" r="1.9" fill="#e52a22" stroke="none" stroke-width="1"/>
<circle cx="638.12" cy="54.33" r="1.9" fill="#e52a22" stroke="none" stroke-width="1"/>
<circle cx="629.68" cy="56.37" r="1.9" fill="#e52a22" stroke="none" stroke-width="1"/>
<circle cx="621.73" cy="55.83" r="1.9" fill="#e52a22" stroke="none" stroke-width="1"/>
<circle cx="635.09" cy="52.76" r="1.9" fill="#e52a22" stroke="none" stroke-width="1"/>
<circle cx="630.95" cy="52.9" r="1.9" fill="#e52a22" stroke="none" stroke-width="1"/>
<circle cx="635.16" cy="54.63" r="1.9" fill="#e52a22" stroke="none" stroke-width="1"/>
<circle cx="630.69" cy="52.36" r="1.9" fill="#e52a22" stroke="none" stroke-width="1"/>
<circle cx="636.2" cy="56.25" r="1.9" fill="#e52a22" stroke="none" stroke-width="1"/>
<circle cx="627.64" cy="54.62" r="1.9" fill="#e52a22" stroke="none" stroke-width="1"/>
<circle cx="635.4" cy="56.22" r="1.9" fill="#e52a22" stroke="none" stroke-width="1"/>
<circle cx="621.19" cy="54.21" r="1.9" fill="#e52a22" stroke="none" stroke-width="1"/>
<circle cx="636.34" cy="54.36" r="1.9" fill="#e52a22" stroke="none" stroke-width="1"/>
<circle cx="630.04" cy="53.9" r="1.9" fill="#e52a22" stroke="none" stroke-width="1"/>
<circle cx="630.86" cy="52.62" r="1.9" fill="#e52a22" stroke="none" stroke-width="1"/>
<circle cx="639.96" cy="52.56" r="1.9" fill="#e52a22" stroke="none" stroke-width="1"/>
<circle cx="631.22" cy="54.07" r="1.9" fill="#e52a22" stroke="none" stroke-width="1"/>
<circle cx="630.01" cy="53.33" r="1.9" fill="#e52a22" stroke="none" stroke-width="1"/>
<circle cx="624.7" cy="54.29" r="1.9" fill="#e52a22" stroke="none" stroke-width="1"/>
<circle cx="622.77" cy="52.23" r="1.9" fill="#e52a22" stroke="none" stroke-width="1"/>
<circle cx="628.01" cy="54.5" r="1.9" fill="#e52a22" stroke="none" stroke-width="1"/>
<circle cx="631.04" cy="55.56" r="1.9" fill="#e52a22" stroke="none" stroke-width="1"/>
<circle cx="635.03" cy="54.24" r="1.9" fill="#e52a22" stroke="none" stroke-width="1"/>
<circle cx="640" cy="54.2" r="1.8" fill="#e52a22" stroke="none" stroke-width="1"/>
<circle cx="645" cy="54.2" r="1.8" fill="#e52a22" stroke="none" stroke-width="1"/>
<circle cx="648" cy="54.2" r="1.8" fill="#e52a22" stroke="none" stroke-width="1"/>
<circle cx="620" cy="54.2" r="1.8" fill="#e52a22" stroke="none" stroke-width="1"/>
<line x1="631.2" y1="22" x2="631.2" y2="806" stroke="#0a0a0a" stroke-width="2.6" stroke-dasharray="9 4.1" stroke-dashoffset="0.4"/>
<line x1="575.2" y1="22" x2="575.2" y2="807" stroke="#444" stroke-width="1.4" />
<line x1="574.5" y1="806.4" x2="1025.4" y2="806.4" stroke="#444" stroke-width="1.6" />
<line x1="575.2" y1="806.4" x2="575.2" y2="812.4" stroke="#444" stroke-width="1.4" />
<text x="575.2" y="835.2" font-size="26.5" text-anchor="middle" fill="#111">0</text>
<line x1="687.6" y1="806.4" x2="687.6" y2="812.4" stroke="#444" stroke-width="1.4" />
<text x="687.6" y="835.2" font-size="26.5" text-anchor="middle" fill="#111">2</text>
<line x1="800" y1="806.4" x2="800" y2="812.4" stroke="#444" stroke-width="1.4" />
<text x="800" y="835.2" font-size="26.5" text-anchor="middle" fill="#111">4</text>
<line x1="912.4" y1="806.4" x2="912.4" y2="812.4" stroke="#444" stroke-width="1.4" />
<text x="912.4" y="835.2" font-size="26.5" text-anchor="middle" fill="#111">6</text>
<line x1="1024.8" y1="806.4" x2="1024.8" y2="812.4" stroke="#444" stroke-width="1.4" />
<text x="1024.8" y="835.2" font-size="26.5" text-anchor="middle" fill="#111">8</text>
<text x="826.8" y="868" font-size="29.5" text-anchor="middle" fill="#111">CD25 fold-change</text>
<rect x="950.8" y="27.2" width="30.6" height="16.2" fill="#fccab5" stroke="#5a4232" stroke-width="1.6"/>
<rect x="950.8" y="64.4" width="30.6" height="16.2" fill="#c9c9ec" stroke="#3c3c58" stroke-width="1.6"/>
<text x="987.8" y="42.9" font-size="22" fill="#111">CD8<tspan font-size="13.5" dy="-7">+</tspan></text>
<text x="987.8" y="80.2" font-size="22" fill="#111">CD4<tspan font-size="13.5" dy="-7">+</tspan></text>
</g>
<text transform="translate(0.3 25) scale(1.0 1)" x="0" y="0" font-size="32" font-weight="bold" fill="#000" style="stroke:#000;stroke-width:1.3px">a</text>
<g id="panel-b">
<text transform="translate(1086.5 25) scale(1.3 1)" x="0" y="0" font-size="26" font-weight="bold" fill="#000" style="stroke:#000;stroke-width:1.3px">b</text>
<line x1="1166.3" y1="44" x2="1166.3" y2="367.4" stroke="#444" stroke-width="1.4" />
<line x1="1165.6" y1="366.7" x2="1650.5" y2="366.7" stroke="#444" stroke-width="1.6" />
<line x1="1157.3" y1="366.7" x2="1166.3" y2="366.7" stroke="#444" stroke-width="1.4" />
<text x="1152.3" y="372.1" font-size="20.8" text-anchor="end" fill="#111">0</text>
<line x1="1157.3" y1="302.2" x2="1166.3" y2="302.2" stroke="#444" stroke-width="1.4" />
<text x="1152.3" y="307.6" font-size="20.8" text-anchor="end" fill="#111">1</text>
<line x1="1157.3" y1="237.7" x2="1166.3" y2="237.7" stroke="#444" stroke-width="1.4" />
<text x="1152.3" y="243.1" font-size="20.8" text-anchor="end" fill="#111">2</text>
<line x1="1157.3" y1="173.2" x2="1166.3" y2="173.2" stroke="#444" stroke-width="1.4" />
<text x="1152.3" y="178.6" font-size="20.8" text-anchor="end" fill="#111">3</text>
<line x1="1157.3" y1="108.7" x2="1166.3" y2="108.7" stroke="#444" stroke-width="1.4" />
<text x="1152.3" y="114.1" font-size="20.8" text-anchor="end" fill="#111">4</text>
<line x1="1157.3" y1="44.2" x2="1166.3" y2="44.2" stroke="#444" stroke-width="1.4" />
<text x="1152.3" y="49.6" font-size="20.8" text-anchor="end" fill="#111">5</text>
<line x1="1166.3" y1="366.7" x2="1166.3" y2="375.7" stroke="#444" stroke-width="1.4" />
<text x="1179.3" y="390.7" font-size="19.5" text-anchor="end" fill="#111" transform="rotate(-42 1179.3 390.7)">10<tspan font-size="12.5" dy="-8">3</tspan></text>
<line x1="1226.7" y1="366.7" x2="1226.7" y2="375.7" stroke="#444" stroke-width="1.4" />
<text x="1239.7" y="390.7" font-size="19.5" text-anchor="end" fill="#111" transform="rotate(-42 1239.7 390.7)">10<tspan font-size="12.5" dy="-8">2</tspan></text>
<line x1="1287.1" y1="366.7" x2="1287.1" y2="375.7" stroke="#444" stroke-width="1.4" />
<text x="1300.1" y="390.7" font-size="19.5" text-anchor="end" fill="#111" transform="rotate(-42 1300.1 390.7)">10<tspan font-size="12.5" dy="-8">1</tspan></text>
<line x1="1347.5" y1="366.7" x2="1347.5" y2="375.7" stroke="#444" stroke-width="1.4" />
<text x="1360.5" y="390.7" font-size="19.5" text-anchor="end" fill="#111" transform="rotate(-42 1360.5 390.7)">10<tspan font-size="12.5" dy="-8">0</tspan></text>
<line x1="1407.9" y1="366.7" x2="1407.9" y2="375.7" stroke="#444" stroke-width="1.4" />
<text x="1420.9" y="390.7" font-size="19.5" text-anchor="end" fill="#111" transform="rotate(-42 1420.9 390.7)">10<tspan font-size="12.5" dy="-8">-1</tspan></text>
<line x1="1468.3" y1="366.7" x2="1468.3" y2="375.7" stroke="#444" stroke-width="1.4" />
<text x="1481.3" y="390.7" font-size="19.5" text-anchor="end" fill="#111" transform="rotate(-42 1481.3 390.7)">10<tspan font-size="12.5" dy="-8">-2</tspan></text>
<line x1="1528.7" y1="366.7" x2="1528.7" y2="375.7" stroke="#444" stroke-width="1.4" />
<text x="1541.7" y="390.7" font-size="19.5" text-anchor="end" fill="#111" transform="rotate(-42 1541.7 390.7)">10<tspan font-size="12.5" dy="-8">-3</tspan></text>
<line x1="1589.1" y1="366.7" x2="1589.1" y2="375.7" stroke="#444" stroke-width="1.4" />
<text x="1602.1" y="390.7" font-size="19.5" text-anchor="end" fill="#111" transform="rotate(-42 1602.1 390.7)">10<tspan font-size="12.5" dy="-8">-4</tspan></text>
<line x1="1649.5" y1="366.7" x2="1649.5" y2="375.7" stroke="#444" stroke-width="1.4" />
<text x="1662.5" y="390.7" font-size="19.5" text-anchor="end" fill="#111" transform="rotate(-42 1662.5 390.7)">10<tspan font-size="12.5" dy="-8">-5</tspan></text>
<text x="1108" y="197" font-size="24.5" text-anchor="middle" fill="#111" transform="rotate(-90 1108 197)">IFNγ (ng/ml)</text>
<text x="1398.5" y="438.5" font-size="24.5" text-anchor="middle" fill="#111">αCD3 (μg/ml)</text>
<path d="M1226.7,351.22 L1228.21,351.22 L1229.72,351.22 L1231.23,351.22 L1232.74,351.22 L1234.25,351.22 L1235.76,351.22 L1237.27,351.22 L1238.78,351.22 L1240.29,351.22 L1241.8,351.22 L1243.31,351.22 L1244.82,351.22 L1246.33,351.22 L1247.84,351.22 L1249.35,351.22 L1250.86,351.22 L1252.37,351.22 L1253.88,351.22 L1255.39,351.22 L1256.9,351.22 L1258.41,351.22 L1259.92,351.22 L1261.43,351.22 L1262.94,351.22 L1264.45,351.22 L1265.96,351.22 L1267.47,351.22 L1268.98,351.22 L1270.49,351.22 L1272,351.22 L1273.51,351.22 L1275.02,351.22 L1276.53,351.22 L1278.04,351.22 L1279.55,351.22 L1281.06,351.22 L1282.57,351.22 L1284.08,351.22 L1285.59,351.22 L1287.1,351.22 L1288.61,351.22 L1290.12,351.22 L1291.63,351.22 L1293.14,351.22 L1294.65,351.22 L1296.16,351.22 L1297.67,351.22 L1299.18,351.22 L1300.69,351.22 L1302.2,351.22 L1303.71,351.22 L1305.22,351.22 L1306.73,351.22 L1308.24,351.22 L1309.75,351.22 L1311.26,351.22 L1312.77,351.22 L1314.28,351.22 L1315.79,351.22 L1317.3,351.22 L1318.81,351.23 L1320.32,351.23 L1321.83,351.23 L1323.34,351.24 L1324.85,351.25 L1326.36,351.27 L1327.87,351.3 L1329.38,351.35 L1330.89,351.42 L1332.4,351.54 L1333.91,351.72 L1335.42,351.99 L1336.93,352.41 L1338.44,353.02 L1339.95,353.9 L1341.46,355.07 L1342.97,356.55 L1344.48,358.25 L1345.99,360.02 L1347.5,361.69 L1349.01,363.11 L1350.52,364.22 L1352.03,365.04 L1353.54,365.61 L1355.05,365.99 L1356.56,366.25 L1358.07,366.41 L1359.58,366.52 L1361.09,366.58 L1362.6,366.63 L1364.11,366.65 L1365.62,366.67 L1367.13,366.68 L1368.64,366.69 L1370.15,366.69 L1371.66,366.7 L1373.17,366.7 L1374.68,366.7 L1376.19,366.7 L1377.7,366.7 L1379.21,366.7 L1380.72,366.7 L1382.23,366.7 L1383.74,366.7 L1385.25,366.7 L1386.76,366.7 L1388.27,366.7 L1389.78,366.7 L1391.29,366.7 L1392.8,366.7 L1394.31,366.7 L1395.82,366.7 L1397.33,366.7 L1398.84,366.7 L1400.35,366.7 L1401.86,366.7 L1403.37,366.7 L1404.88,366.7 L1406.39,366.7 L1407.9,366.7 L1409.41,366.7 L1410.92,366.7 L1412.43,366.7 L1413.94,366.7 L1415.45,366.7 L1416.96,366.7 L1418.47,366.7 L1419.98,366.7 L1421.49,366.7 L1423,366.7 L1424.51,366.7 L1426.02,366.7 L1427.53,366.7 L1429.04,366.7 L1430.55,366.7 L1432.06,366.7 L1433.57,366.7 L1435.08,366.7 L1436.59,366.7 L1438.1,366.7 L1439.61,366.7 L1441.12,366.7 L1442.63,366.7 L1444.14,366.7 L1445.65,366.7 L1447.16,366.7 L1448.67,366.7 L1450.18,366.7 L1451.69,366.7 L1453.2,366.7 L1454.71,366.7 L1456.22,366.7 L1457.73,366.7 L1459.24,366.7 L1460.75,366.7 L1462.26,366.7 L1463.77,366.7 L1465.28,366.7 L1466.79,366.7 L1468.3,366.7 L1469.81,366.7 L1471.32,366.7 L1472.83,366.7 L1474.34,366.7 L1475.85,366.7 L1477.36,366.7 L1478.87,366.7 L1480.38,366.7 L1481.89,366.7 L1483.4,366.7 L1484.91,366.7 L1486.42,366.7 L1487.93,366.7 L1489.44,366.7 L1490.95,366.7 L1492.46,366.7 L1493.97,366.7 L1495.48,366.7 L1496.99,366.7 L1498.5,366.7 L1500.01,366.7 L1501.52,366.7 L1503.03,366.7 L1504.54,366.7 L1506.05,366.7 L1507.56,366.7 L1509.07,366.7 L1510.58,366.7 L1512.09,366.7 L1513.6,366.7 L1515.11,366.7 L1516.62,366.7 L1518.13,366.7 L1519.64,366.7 L1521.15,366.7 L1522.66,366.7 L1524.17,366.7 L1525.68,366.7 L1527.19,366.7 L1528.7,366.7 L1530.21,366.7 L1531.72,366.7 L1533.23,366.7 L1534.74,366.7 L1536.25,366.7 L1537.76,366.7 L1539.27,366.7 L1540.78,366.7 L1542.29,366.7 L1543.8,366.7 L1545.31,366.7 L1546.82,366.7 L1548.33,366.7 L1549.84,366.7 L1551.35,366.7 L1552.86,366.7 L1554.37,366.7 L1555.88,366.7 L1557.39,366.7 L1558.9,366.7 L1560.41,366.7 L1561.92,366.7 L1563.43,366.7 L1564.94,366.7 L1566.45,366.7 L1567.96,366.7 L1569.47,366.7 L1570.98,366.7 L1572.49,366.7 L1574,366.7 L1575.51,366.7 L1577.02,366.7 L1578.53,366.7 L1580.04,366.7 L1581.55,366.7 L1583.06,366.7 L1584.57,366.7 L1586.08,366.7 L1587.59,366.7 L1589.1,366.7" fill="none" stroke="#f2c9c9" stroke-width="1.6"/>
<path d="M1226.7,84.85 L1228.21,84.85 L1229.72,84.85 L1231.23,84.85 L1232.74,84.85 L1234.25,84.85 L1235.76,84.86 L1237.27,84.86 L1238.78,84.86 L1240.29,84.87 L1241.8,84.87 L1243.31,84.87 L1244.82,84.88 L1246.33,84.88 L1247.84,84.89 L1249.35,84.9 L1250.86,84.9 L1252.37,84.91 L1253.88,84.92 L1255.39,84.93 L1256.9,84.94 L1258.41,84.95 L1259.92,84.97 L1261.43,84.98 L1262.94,85 L1264.45,85.02 L1265.96,85.04 L1267.47,85.07 L1268.98,85.1 L1270.49,85.13 L1272,85.16 L1273.51,85.2 L1275.02,85.24 L1276.53,85.29 L1278.04,85.35 L1279.55,85.41 L1281.06,85.48 L1282.57,85.55 L1284.08,85.64 L1285.59,85.73 L1287.1,85.84 L1288.61,85.96 L1290.12,86.09 L1291.63,86.24 L1293.14,86.41 L1294.65,86.6 L1296.16,86.81 L1297.67,87.04 L1299.18,87.3 L1300.69,87.59 L1302.2,87.92 L1303.71,88.28 L1305.22,88.69 L1306.73,89.14 L1308.24,89.65 L1309.75,90.21 L1311.26,90.84 L1312.77,91.54 L1314.28,92.32 L1315.79,93.19 L1317.3,94.15 L1318.81,95.22 L1320.32,96.41 L1321.83,97.73 L1323.34,99.19 L1324.85,100.81 L1326.36,102.6 L1327.87,104.57 L1329.38,106.74 L1330.89,109.13 L1332.4,111.76 L1333.91,114.63 L1335.42,117.77 L1336.93,121.2 L1338.44,124.92 L1339.95,128.95 L1341.46,133.31 L1342.97,138.01 L1344.48,143.04 L1345.99,148.42 L1347.5,154.13 L1349.01,160.19 L1350.52,166.57 L1352.03,173.25 L1353.54,180.22 L1355.05,187.45 L1356.56,194.9 L1358.07,202.53 L1359.58,210.3 L1361.09,218.16 L1362.6,226.07 L1364.11,233.97 L1365.62,241.82 L1367.13,249.56 L1368.64,257.15 L1370.15,264.55 L1371.66,271.72 L1373.17,278.62 L1374.68,285.24 L1376.19,291.54 L1377.7,297.51 L1379.21,303.15 L1380.72,308.44 L1382.23,313.4 L1383.74,318.01 L1385.25,322.29 L1386.76,326.25 L1388.27,329.9 L1389.78,333.25 L1391.29,336.33 L1392.8,339.14 L1394.31,341.71 L1395.82,344.04 L1397.33,346.17 L1398.84,348.09 L1400.35,349.84 L1401.86,351.42 L1403.37,352.84 L1404.88,354.13 L1406.39,355.29 L1407.9,356.33 L1409.41,357.27 L1410.92,358.12 L1412.43,358.88 L1413.94,359.56 L1415.45,360.17 L1416.96,360.72 L1418.47,361.22 L1419.98,361.66 L1421.49,362.05 L1423,362.41 L1424.51,362.72 L1426.02,363.01 L1427.53,363.26 L1429.04,363.49 L1430.55,363.69 L1432.06,363.88 L1433.57,364.04 L1435.08,364.18 L1436.59,364.31 L1438.1,364.43 L1439.61,364.54 L1441.12,364.63 L1442.63,364.71 L1444.14,364.79 L1445.65,364.85 L1447.16,364.91 L1448.67,364.96 L1450.18,365.01 L1451.69,365.05 L1453.2,365.09 L1454.71,365.13 L1456.22,365.16 L1457.73,365.18 L1459.24,365.21 L1460.75,365.23 L1462.26,365.25 L1463.77,365.27 L1465.28,365.28 L1466.79,365.29 L1468.3,365.31 L1469.81,365.32 L1471.32,365.33 L1472.83,365.34 L1474.34,365.34 L1475.85,365.35 L1477.36,365.36 L1478.87,365.36 L1480.38,365.37 L1481.89,365.37 L1483.4,365.38 L1484.91,365.38 L1486.42,365.38 L1487.93,365.39 L1489.44,365.39 L1490.95,365.39 L1492.46,365.39 L1493.97,365.39 L1495.48,365.4 L1496.99,365.4 L1498.5,365.4 L1500.01,365.4 L1501.52,365.4 L1503.03,365.4 L1504.54,365.4 L1506.05,365.4 L1507.56,365.4 L1509.07,365.41 L1510.58,365.41 L1512.09,365.41 L1513.6,365.41 L1515.11,365.41 L1516.62,365.41 L1518.13,365.41 L1519.64,365.41 L1521.15,365.41 L1522.66,365.41 L1524.17,365.41 L1525.68,365.41 L1527.19,365.41 L1528.7,365.41 L1530.21,365.41 L1531.72,365.41 L1533.23,365.41 L1534.74,365.41 L1536.25,365.41 L1537.76,365.41 L1539.27,365.41 L1540.78,365.41 L1542.29,365.41 L1543.8,365.41 L1545.31,365.41 L1546.82,365.41 L1548.33,365.41 L1549.84,365.41 L1551.35,365.41 L1552.86,365.41 L1554.37,365.41 L1555.88,365.41 L1557.39,365.41 L1558.9,365.41 L1560.41,365.41 L1561.92,365.41 L1563.43,365.41 L1564.94,365.41 L1566.45,365.41 L1567.96,365.41 L1569.47,365.41 L1570.98,365.41 L1572.49,365.41 L1574,365.41 L1575.51,365.41 L1577.02,365.41 L1578.53,365.41 L1580.04,365.41 L1581.55,365.41 L1583.06,365.41 L1584.57,365.41 L1586.08,365.41 L1587.59,365.41 L1589.1,365.41" fill="none" stroke="#cc78c4" stroke-width="1.6"/>
<path d="M1226.7,303.49 L1228.21,303.49 L1229.72,303.49 L1231.23,303.49 L1232.74,303.49 L1234.25,303.49 L1235.76,303.49 L1237.27,303.49 L1238.78,303.49 L1240.29,303.49 L1241.8,303.49 L1243.31,303.49 L1244.82,303.49 L1246.33,303.49 L1247.84,303.49 L1249.35,303.49 L1250.86,303.49 L1252.37,303.49 L1253.88,303.49 L1255.39,303.49 L1256.9,303.49 L1258.41,303.49 L1259.92,303.49 L1261.43,303.49 L1262.94,303.49 L1264.45,303.49 L1265.96,303.49 L1267.47,303.49 L1268.98,303.49 L1270.49,303.49 L1272,303.49 L1273.51,303.49 L1275.02,303.49 L1276.53,303.49 L1278.04,303.49 L1279.55,303.49 L1281.06,303.49 L1282.57,303.49 L1284.08,303.49 L1285.59,303.49 L1287.1,303.49 L1288.61,303.49 L1290.12,303.49 L1291.63,303.49 L1293.14,303.49 L1294.65,303.49 L1296.16,303.49 L1297.67,303.49 L1299.18,303.49 L1300.69,303.49 L1302.2,303.49 L1303.71,303.49 L1305.22,303.49 L1306.73,303.5 L1308.24,303.5 L1309.75,303.5 L1311.26,303.5 L1312.77,303.51 L1314.28,303.51 L1315.79,303.52 L1317.3,303.53 L1318.81,303.54 L1320.32,303.56 L1321.83,303.58 L1323.34,303.62 L1324.85,303.66 L1326.36,303.71 L1327.87,303.79 L1329.38,303.89 L1330.89,304.02 L1332.4,304.19 L1333.91,304.42 L1335.42,304.73 L1336.93,305.13 L1338.44,305.66 L1339.95,306.35 L1341.46,307.24 L1342.97,308.4 L1344.48,309.87 L1345.99,311.72 L1347.5,314 L1349.01,316.77 L1350.52,320.04 L1352.03,323.79 L1353.54,327.94 L1355.05,332.37 L1356.56,336.91 L1358.07,341.38 L1359.58,345.6 L1361.09,349.43 L1362.6,352.8 L1364.11,355.67 L1365.62,358.05 L1367.13,359.99 L1368.64,361.53 L1370.15,362.74 L1371.66,363.68 L1373.17,364.41 L1374.68,364.97 L1376.19,365.39 L1377.7,365.71 L1379.21,365.96 L1380.72,366.14 L1382.23,366.28 L1383.74,366.38 L1385.25,366.46 L1386.76,366.52 L1388.27,366.57 L1389.78,366.6 L1391.29,366.62 L1392.8,366.64 L1394.31,366.66 L1395.82,366.67 L1397.33,366.68 L1398.84,366.68 L1400.35,366.69 L1401.86,366.69 L1403.37,366.69 L1404.88,366.69 L1406.39,366.7 L1407.9,366.7 L1409.41,366.7 L1410.92,366.7 L1412.43,366.7 L1413.94,366.7 L1415.45,366.7 L1416.96,366.7 L1418.47,366.7 L1419.98,366.7 L1421.49,366.7 L1423,366.7 L1424.51,366.7 L1426.02,366.7 L1427.53,366.7 L1429.04,366.7 L1430.55,366.7 L1432.06,366.7 L1433.57,366.7 L1435.08,366.7 L1436.59,366.7 L1438.1,366.7 L1439.61,366.7 L1441.12,366.7 L1442.63,366.7 L1444.14,366.7 L1445.65,366.7 L1447.16,366.7 L1448.67,366.7 L1450.18,366.7 L1451.69,366.7 L1453.2,366.7 L1454.71,366.7 L1456.22,366.7 L1457.73,366.7 L1459.24,366.7 L1460.75,366.7 L1462.26,366.7 L1463.77,366.7 L1465.28,366.7 L1466.79,366.7 L1468.3,366.7 L1469.81,366.7 L1471.32,366.7 L1472.83,366.7 L1474.34,366.7 L1475.85,366.7 L1477.36,366.7 L1478.87,366.7 L1480.38,366.7 L1481.89,366.7 L1483.4,366.7 L1484.91,366.7 L1486.42,366.7 L1487.93,366.7 L1489.44,366.7 L1490.95,366.7 L1492.46,366.7 L1493.97,366.7 L1495.48,366.7 L1496.99,366.7 L1498.5,366.7 L1500.01,366.7 L1501.52,366.7 L1503.03,366.7 L1504.54,366.7 L1506.05,366.7 L1507.56,366.7 L1509.07,366.7 L1510.58,366.7 L1512.09,366.7 L1513.6,366.7 L1515.11,366.7 L1516.62,366.7 L1518.13,366.7 L1519.64,366.7 L1521.15,366.7 L1522.66,366.7 L1524.17,366.7 L1525.68,366.7 L1527.19,366.7 L1528.7,366.7 L1530.21,366.7 L1531.72,366.7 L1533.23,366.7 L1534.74,366.7 L1536.25,366.7 L1537.76,366.7 L1539.27,366.7 L1540.78,366.7 L1542.29,366.7 L1543.8,366.7 L1545.31,366.7 L1546.82,366.7 L1548.33,366.7 L1549.84,366.7 L1551.35,366.7 L1552.86,366.7 L1554.37,366.7 L1555.88,366.7 L1557.39,366.7 L1558.9,366.7 L1560.41,366.7 L1561.92,366.7 L1563.43,366.7 L1564.94,366.7 L1566.45,366.7 L1567.96,366.7 L1569.47,366.7 L1570.98,366.7 L1572.49,366.7 L1574,366.7 L1575.51,366.7 L1577.02,366.7 L1578.53,366.7 L1580.04,366.7 L1581.55,366.7 L1583.06,366.7 L1584.57,366.7 L1586.08,366.7 L1587.59,366.7 L1589.1,366.7" fill="none" stroke="#4a5499" stroke-width="1.6"/>
<path d="M1226.7,343.48 L1228.21,343.48 L1229.72,343.48 L1231.23,343.48 L1232.74,343.48 L1234.25,343.48 L1235.76,343.48 L1237.27,343.48 L1238.78,343.48 L1240.29,343.48 L1241.8,343.48 L1243.31,343.48 L1244.82,343.48 L1246.33,343.48 L1247.84,343.48 L1249.35,343.48 L1250.86,343.48 L1252.37,343.48 L1253.88,343.48 L1255.39,343.48 L1256.9,343.48 L1258.41,343.48 L1259.92,343.48 L1261.43,343.48 L1262.94,343.48 L1264.45,343.48 L1265.96,343.48 L1267.47,343.48 L1268.98,343.48 L1270.49,343.48 L1272,343.48 L1273.51,343.48 L1275.02,343.48 L1276.53,343.48 L1278.04,343.48 L1279.55,343.48 L1281.06,343.48 L1282.57,343.48 L1284.08,343.48 L1285.59,343.48 L1287.1,343.48 L1288.61,343.48 L1290.12,343.48 L1291.63,343.48 L1293.14,343.48 L1294.65,343.48 L1296.16,343.48 L1297.67,343.48 L1299.18,343.48 L1300.69,343.48 L1302.2,343.48 L1303.71,343.48 L1305.22,343.48 L1306.73,343.48 L1308.24,343.48 L1309.75,343.48 L1311.26,343.48 L1312.77,343.48 L1314.28,343.48 L1315.79,343.48 L1317.3,343.48 L1318.81,343.49 L1320.32,343.49 L1321.83,343.49 L1323.34,343.5 L1324.85,343.5 L1326.36,343.51 L1327.87,343.52 L1329.38,343.54 L1330.89,343.57 L1332.4,343.6 L1333.91,343.65 L1335.42,343.72 L1336.93,343.82 L1338.44,343.96 L1339.95,344.15 L1341.46,344.41 L1342.97,344.77 L1344.48,345.26 L1345.99,345.92 L1347.5,346.79 L1349.01,347.89 L1350.52,349.26 L1352.03,350.88 L1353.54,352.72 L1355.05,354.69 L1356.56,356.68 L1358.07,358.59 L1359.58,360.3 L1361.09,361.78 L1362.6,362.98 L1364.11,363.94 L1365.62,364.68 L1367.13,365.23 L1368.64,365.64 L1370.15,365.94 L1371.66,366.16 L1373.17,366.31 L1374.68,366.42 L1376.19,366.5 L1377.7,366.56 L1379.21,366.6 L1380.72,366.63 L1382.23,366.65 L1383.74,366.66 L1385.25,366.68 L1386.76,366.68 L1388.27,366.69 L1389.78,366.69 L1391.29,366.69 L1392.8,366.7 L1394.31,366.7 L1395.82,366.7 L1397.33,366.7 L1398.84,366.7 L1400.35,366.7 L1401.86,366.7 L1403.37,366.7 L1404.88,366.7 L1406.39,366.7 L1407.9,366.7 L1409.41,366.7 L1410.92,366.7 L1412.43,366.7 L1413.94,366.7 L1415.45,366.7 L1416.96,366.7 L1418.47,366.7 L1419.98,366.7 L1421.49,366.7 L1423,366.7 L1424.51,366.7 L1426.02,366.7 L1427.53,366.7 L1429.04,366.7 L1430.55,366.7 L1432.06,366.7 L1433.57,366.7 L1435.08,366.7 L1436.59,366.7 L1438.1,366.7 L1439.61,366.7 L1441.12,366.7 L1442.63,366.7 L1444.14,366.7 L1445.65,366.7 L1447.16,366.7 L1448.67,366.7 L1450.18,366.7 L1451.69,366.7 L1453.2,366.7 L1454.71,366.7 L1456.22,366.7 L1457.73,366.7 L1459.24,366.7 L1460.75,366.7 L1462.26,366.7 L1463.77,366.7 L1465.28,366.7 L1466.79,366.7 L1468.3,366.7 L1469.81,366.7 L1471.32,366.7 L1472.83,366.7 L1474.34,366.7 L1475.85,366.7 L1477.36,366.7 L1478.87,366.7 L1480.38,366.7 L1481.89,366.7 L1483.4,366.7 L1484.91,366.7 L1486.42,366.7 L1487.93,366.7 L1489.44,366.7 L1490.95,366.7 L1492.46,366.7 L1493.97,366.7 L1495.48,366.7 L1496.99,366.7 L1498.5,366.7 L1500.01,366.7 L1501.52,366.7 L1503.03,366.7 L1504.54,366.7 L1506.05,366.7 L1507.56,366.7 L1509.07,366.7 L1510.58,366.7 L1512.09,366.7 L1513.6,366.7 L1515.11,366.7 L1516.62,366.7 L1518.13,366.7 L1519.64,366.7 L1521.15,366.7 L1522.66,366.7 L1524.17,366.7 L1525.68,366.7 L1527.19,366.7 L1528.7,366.7 L1530.21,366.7 L1531.72,366.7 L1533.23,366.7 L1534.74,366.7 L1536.25,366.7 L1537.76,366.7 L1539.27,366.7 L1540.78,366.7 L1542.29,366.7 L1543.8,366.7 L1545.31,366.7 L1546.82,366.7 L1548.33,366.7 L1549.84,366.7 L1551.35,366.7 L1552.86,366.7 L1554.37,366.7 L1555.88,366.7 L1557.39,366.7 L1558.9,366.7 L1560.41,366.7 L1561.92,366.7 L1563.43,366.7 L1564.94,366.7 L1566.45,366.7 L1567.96,366.7 L1569.47,366.7 L1570.98,366.7 L1572.49,366.7 L1574,366.7 L1575.51,366.7 L1577.02,366.7 L1578.53,366.7 L1580.04,366.7 L1581.55,366.7 L1583.06,366.7 L1584.57,366.7 L1586.08,366.7 L1587.59,366.7 L1589.1,366.7" fill="none" stroke="#6aa3d6" stroke-width="1.6"/>
<path d="M1226.7,342.19 L1228.21,342.19 L1229.72,342.19 L1231.23,342.19 L1232.74,342.19 L1234.25,342.19 L1235.76,342.19 L1237.27,342.19 L1238.78,342.19 L1240.29,342.19 L1241.8,342.19 L1243.31,342.19 L1244.82,342.19 L1246.33,342.19 L1247.84,342.19 L1249.35,342.19 L1250.86,342.19 L1252.37,342.19 L1253.88,342.19 L1255.39,342.19 L1256.9,342.19 L1258.41,342.19 L1259.92,342.19 L1261.43,342.19 L1262.94,342.19 L1264.45,342.19 L1265.96,342.19 L1267.47,342.19 L1268.98,342.19 L1270.49,342.19 L1272,342.19 L1273.51,342.19 L1275.02,342.19 L1276.53,342.19 L1278.04,342.19 L1279.55,342.19 L1281.06,342.19 L1282.57,342.19 L1284.08,342.19 L1285.59,342.19 L1287.1,342.19 L1288.61,342.19 L1290.12,342.19 L1291.63,342.19 L1293.14,342.19 L1294.65,342.19 L1296.16,342.19 L1297.67,342.19 L1299.18,342.19 L1300.69,342.19 L1302.2,342.19 L1303.71,342.19 L1305.22,342.19 L1306.73,342.19 L1308.24,342.19 L1309.75,342.19 L1311.26,342.19 L1312.77,342.19 L1314.28,342.19 L1315.79,342.19 L1317.3,342.19 L1318.81,342.19 L1320.32,342.19 L1321.83,342.19 L1323.34,342.19 L1324.85,342.2 L1326.36,342.2 L1327.87,342.2 L1329.38,342.21 L1330.89,342.23 L1332.4,342.25 L1333.91,342.28 L1335.42,342.33 L1336.93,342.41 L1338.44,342.54 L1339.95,342.74 L1341.46,343.05 L1342.97,343.52 L1344.48,344.24 L1345.99,345.29 L1347.5,346.76 L1349.01,348.72 L1350.52,351.14 L1352.03,353.88 L1353.54,356.68 L1355.05,359.25 L1356.56,361.41 L1358.07,363.07 L1359.58,364.28 L1361.09,365.11 L1362.6,365.67 L1364.11,366.04 L1365.62,366.28 L1367.13,366.43 L1368.64,366.53 L1370.15,366.59 L1371.66,366.63 L1373.17,366.66 L1374.68,366.67 L1376.19,366.68 L1377.7,366.69 L1379.21,366.69 L1380.72,366.7 L1382.23,366.7 L1383.74,366.7 L1385.25,366.7 L1386.76,366.7 L1388.27,366.7 L1389.78,366.7 L1391.29,366.7 L1392.8,366.7 L1394.31,366.7 L1395.82,366.7 L1397.33,366.7 L1398.84,366.7 L1400.35,366.7 L1401.86,366.7 L1403.37,366.7 L1404.88,366.7 L1406.39,366.7 L1407.9,366.7 L1409.41,366.7 L1410.92,366.7 L1412.43,366.7 L1413.94,366.7 L1415.45,366.7 L1416.96,366.7 L1418.47,366.7 L1419.98,366.7 L1421.49,366.7 L1423,366.7 L1424.51,366.7 L1426.02,366.7 L1427.53,366.7 L1429.04,366.7 L1430.55,366.7 L1432.06,366.7 L1433.57,366.7 L1435.08,366.7 L1436.59,366.7 L1438.1,366.7 L1439.61,366.7 L1441.12,366.7 L1442.63,366.7 L1444.14,366.7 L1445.65,366.7 L1447.16,366.7 L1448.67,366.7 L1450.18,366.7 L1451.69,366.7 L1453.2,366.7 L1454.71,366.7 L1456.22,366.7 L1457.73,366.7 L1459.24,366.7 L1460.75,366.7 L1462.26,366.7 L1463.77,366.7 L1465.28,366.7 L1466.79,366.7 L1468.3,366.7 L1469.81,366.7 L1471.32,366.7 L1472.83,366.7 L1474.34,366.7 L1475.85,366.7 L1477.36,366.7 L1478.87,366.7 L1480.38,366.7 L1481.89,366.7 L1483.4,366.7 L1484.91,366.7 L1486.42,366.7 L1487.93,366.7 L1489.44,366.7 L1490.95,366.7 L1492.46,366.7 L1493.97,366.7 L1495.48,366.7 L1496.99,366.7 L1498.5,366.7 L1500.01,366.7 L1501.52,366.7 L1503.03,366.7 L1504.54,366.7 L1506.05,366.7 L1507.56,366.7 L1509.07,366.7 L1510.58,366.7 L1512.09,366.7 L1513.6,366.7 L1515.11,366.7 L1516.62,366.7 L1518.13,366.7 L1519.64,366.7 L1521.15,366.7 L1522.66,366.7 L1524.17,366.7 L1525.68,366.7 L1527.19,366.7 L1528.7,366.7 L1530.21,366.7 L1531.72,366.7 L1533.23,366.7 L1534.74,366.7 L1536.25,366.7 L1537.76,366.7 L1539.27,366.7 L1540.78,366.7 L1542.29,366.7 L1543.8,366.7 L1545.31,366.7 L1546.82,366.7 L1548.33,366.7 L1549.84,366.7 L1551.35,366.7 L1552.86,366.7 L1554.37,366.7 L1555.88,366.7 L1557.39,366.7 L1558.9,366.7 L1560.41,366.7 L1561.92,366.7 L1563.43,366.7 L1564.94,366.7 L1566.45,366.7 L1567.96,366.7 L1569.47,366.7 L1570.98,366.7 L1572.49,366.7 L1574,366.7 L1575.51,366.7 L1577.02,366.7 L1578.53,366.7 L1580.04,366.7 L1581.55,366.7 L1583.06,366.7 L1584.57,366.7 L1586.08,366.7 L1587.59,366.7 L1589.1,366.7" fill="none" stroke="#9ed6ee" stroke-width="1.6"/>
<path d="M1226.7,339.61 L1228.21,339.61 L1229.72,339.61 L1231.23,339.61 L1232.74,339.61 L1234.25,339.61 L1235.76,339.61 L1237.27,339.61 L1238.78,339.61 L1240.29,339.61 L1241.8,339.61 L1243.31,339.61 L1244.82,339.61 L1246.33,339.61 L1247.84,339.61 L1249.35,339.61 L1250.86,339.61 L1252.37,339.61 L1253.88,339.61 L1255.39,339.61 L1256.9,339.61 L1258.41,339.61 L1259.92,339.61 L1261.43,339.61 L1262.94,339.61 L1264.45,339.61 L1265.96,339.61 L1267.47,339.61 L1268.98,339.61 L1270.49,339.61 L1272,339.61 L1273.51,339.61 L1275.02,339.61 L1276.53,339.61 L1278.04,339.61 L1279.55,339.61 L1281.06,339.61 L1282.57,339.61 L1284.08,339.61 L1285.59,339.61 L1287.1,339.61 L1288.61,339.61 L1290.12,339.61 L1291.63,339.61 L1293.14,339.61 L1294.65,339.61 L1296.16,339.61 L1297.67,339.61 L1299.18,339.61 L1300.69,339.61 L1302.2,339.61 L1303.71,339.61 L1305.22,339.61 L1306.73,339.61 L1308.24,339.61 L1309.75,339.61 L1311.26,339.61 L1312.77,339.61 L1314.28,339.61 L1315.79,339.61 L1317.3,339.61 L1318.81,339.61 L1320.32,339.61 L1321.83,339.61 L1323.34,339.61 L1324.85,339.61 L1326.36,339.61 L1327.87,339.61 L1329.38,339.61 L1330.89,339.61 L1332.4,339.61 L1333.91,339.61 L1335.42,339.61 L1336.93,339.61 L1338.44,339.61 L1339.95,339.61 L1341.46,339.61 L1342.97,339.61 L1344.48,339.61 L1345.99,339.61 L1347.5,339.61 L1349.01,339.61 L1350.52,339.61 L1352.03,339.61 L1353.54,339.61 L1355.05,339.61 L1356.56,339.61 L1358.07,339.61 L1359.58,339.61 L1361.09,339.61 L1362.6,339.61 L1364.11,339.61 L1365.62,339.61 L1367.13,339.61 L1368.64,339.61 L1370.15,339.61 L1371.66,339.62 L1373.17,339.65 L1374.68,339.76 L1376.19,340.24 L1377.7,342.07 L1379.21,347.65 L1380.72,356.95 L1382.23,363.51 L1383.74,365.87 L1385.25,366.5 L1386.76,366.65 L1388.27,366.69 L1389.78,366.7 L1391.29,366.7 L1392.8,366.7 L1394.31,366.7 L1395.82,366.7 L1397.33,366.7 L1398.84,366.7 L1400.35,366.7 L1401.86,366.7 L1403.37,366.7 L1404.88,366.7 L1406.39,366.7 L1407.9,366.7 L1409.41,366.7 L1410.92,366.7 L1412.43,366.7 L1413.94,366.7 L1415.45,366.7 L1416.96,366.7 L1418.47,366.7 L1419.98,366.7 L1421.49,366.7 L1423,366.7 L1424.51,366.7 L1426.02,366.7 L1427.53,366.7 L1429.04,366.7 L1430.55,366.7 L1432.06,366.7 L1433.57,366.7 L1435.08,366.7 L1436.59,366.7 L1438.1,366.7 L1439.61,366.7 L1441.12,366.7 L1442.63,366.7 L1444.14,366.7 L1445.65,366.7 L1447.16,366.7 L1448.67,366.7 L1450.18,366.7 L1451.69,366.7 L1453.2,366.7 L1454.71,366.7 L1456.22,366.7 L1457.73,366.7 L1459.24,366.7 L1460.75,366.7 L1462.26,366.7 L1463.77,366.7 L1465.28,366.7 L1466.79,366.7 L1468.3,366.7 L1469.81,366.7 L1471.32,366.7 L1472.83,366.7 L1474.34,366.7 L1475.85,366.7 L1477.36,366.7 L1478.87,366.7 L1480.38,366.7 L1481.89,366.7 L1483.4,366.7 L1484.91,366.7 L1486.42,366.7 L1487.93,366.7 L1489.44,366.7 L1490.95,366.7 L1492.46,366.7 L1493.97,366.7 L1495.48,366.7 L1496.99,366.7 L1498.5,366.7 L1500.01,366.7 L1501.52,366.7 L1503.03,366.7 L1504.54,366.7 L1506.05,366.7 L1507.56,366.7 L1509.07,366.7 L1510.58,366.7 L1512.09,366.7 L1513.6,366.7 L1515.11,366.7 L1516.62,366.7 L1518.13,366.7 L1519.64,366.7 L1521.15,366.7 L1522.66,366.7 L1524.17,366.7 L1525.68,366.7 L1527.19,366.7 L1528.7,366.7 L1530.21,366.7 L1531.72,366.7 L1533.23,366.7 L1534.74,366.7 L1536.25,366.7 L1537.76,366.7 L1539.27,366.7 L1540.78,366.7 L1542.29,366.7 L1543.8,366.7 L1545.31,366.7 L1546.82,366.7 L1548.33,366.7 L1549.84,366.7 L1551.35,366.7 L1552.86,366.7 L1554.37,366.7 L1555.88,366.7 L1557.39,366.7 L1558.9,366.7 L1560.41,366.7 L1561.92,366.7 L1563.43,366.7 L1564.94,366.7 L1566.45,366.7 L1567.96,366.7 L1569.47,366.7 L1570.98,366.7 L1572.49,366.7 L1574,366.7 L1575.51,366.7 L1577.02,366.7 L1578.53,366.7 L1580.04,366.7 L1581.55,366.7 L1583.06,366.7 L1584.57,366.7 L1586.08,366.7 L1587.59,366.7 L1589.1,366.7" fill="none" stroke="#9fcfc2" stroke-width="1.6"/>
<path d="M1226.7,332.51 L1228.21,332.51 L1229.72,332.51 L1231.23,332.51 L1232.74,332.51 L1234.25,332.51 L1235.76,332.51 L1237.27,332.51 L1238.78,332.51 L1240.29,332.51 L1241.8,332.51 L1243.31,332.51 L1244.82,332.51 L1246.33,332.51 L1247.84,332.51 L1249.35,332.51 L1250.86,332.51 L1252.37,332.51 L1253.88,332.51 L1255.39,332.51 L1256.9,332.51 L1258.41,332.51 L1259.92,332.51 L1261.43,332.51 L1262.94,332.51 L1264.45,332.51 L1265.96,332.51 L1267.47,332.51 L1268.98,332.51 L1270.49,332.51 L1272,332.51 L1273.51,332.51 L1275.02,332.51 L1276.53,332.51 L1278.04,332.51 L1279.55,332.51 L1281.06,332.51 L1282.57,332.51 L1284.08,332.51 L1285.59,332.51 L1287.1,332.51 L1288.61,332.51 L1290.12,332.51 L1291.63,332.51 L1293.14,332.51 L1294.65,332.51 L1296.16,332.51 L1297.67,332.51 L1299.18,332.51 L1300.69,332.51 L1302.2,332.51 L1303.71,332.51 L1305.22,332.51 L1306.73,332.51 L1308.24,332.51 L1309.75,332.51 L1311.26,332.51 L1312.77,332.51 L1314.28,332.51 L1315.79,332.51 L1317.3,332.51 L1318.81,332.52 L1320.32,332.52 L1321.83,332.52 L1323.34,332.52 L1324.85,332.52 L1326.36,332.52 L1327.87,332.52 L1329.38,332.52 L1330.89,332.52 L1332.4,332.52 L1333.91,332.52 L1335.42,332.52 L1336.93,332.52 L1338.44,332.52 L1339.95,332.52 L1341.46,332.52 L1342.97,332.52 L1344.48,332.52 L1345.99,332.52 L1347.5,332.52 L1349.01,332.52 L1350.52,332.52 L1352.03,332.52 L1353.54,332.52 L1355.05,332.52 L1356.56,332.52 L1358.07,332.52 L1359.58,332.52 L1361.09,332.52 L1362.6,332.52 L1364.11,332.52 L1365.62,332.52 L1367.13,332.52 L1368.64,332.52 L1370.15,332.52 L1371.66,332.52 L1373.17,332.52 L1374.68,332.52 L1376.19,332.52 L1377.7,332.53 L1379.21,332.55 L1380.72,332.59 L1382.23,332.67 L1383.74,332.82 L1385.25,333.13 L1386.76,333.71 L1388.27,334.82 L1389.78,336.83 L1391.29,340.17 L1392.8,345 L1394.31,350.79 L1395.82,356.31 L1397.33,360.56 L1398.84,363.32 L1400.35,364.92 L1401.86,365.78 L1403.37,366.23 L1404.88,366.47 L1406.39,366.58 L1407.9,366.64 L1409.41,366.67 L1410.92,366.69 L1412.43,366.69 L1413.94,366.7 L1415.45,366.7 L1416.96,366.7 L1418.47,366.7 L1419.98,366.7 L1421.49,366.7 L1423,366.7 L1424.51,366.7 L1426.02,366.7 L1427.53,366.7 L1429.04,366.7 L1430.55,366.7 L1432.06,366.7 L1433.57,366.7 L1435.08,366.7 L1436.59,366.7 L1438.1,366.7 L1439.61,366.7 L1441.12,366.7 L1442.63,366.7 L1444.14,366.7 L1445.65,366.7 L1447.16,366.7 L1448.67,366.7 L1450.18,366.7 L1451.69,366.7 L1453.2,366.7 L1454.71,366.7 L1456.22,366.7 L1457.73,366.7 L1459.24,366.7 L1460.75,366.7 L1462.26,366.7 L1463.77,366.7 L1465.28,366.7 L1466.79,366.7 L1468.3,366.7 L1469.81,366.7 L1471.32,366.7 L1472.83,366.7 L1474.34,366.7 L1475.85,366.7 L1477.36,366.7 L1478.87,366.7 L1480.38,366.7 L1481.89,366.7 L1483.4,366.7 L1484.91,366.7 L1486.42,366.7 L1487.93,366.7 L1489.44,366.7 L1490.95,366.7 L1492.46,366.7 L1493.97,366.7 L1495.48,366.7 L1496.99,366.7 L1498.5,366.7 L1500.01,366.7 L1501.52,366.7 L1503.03,366.7 L1504.54,366.7 L1506.05,366.7 L1507.56,366.7 L1509.07,366.7 L1510.58,366.7 L1512.09,366.7 L1513.6,366.7 L1515.11,366.7 L1516.62,366.7 L1518.13,366.7 L1519.64,366.7 L1521.15,366.7 L1522.66,366.7 L1524.17,366.7 L1525.68,366.7 L1527.19,366.7 L1528.7,366.7 L1530.21,366.7 L1531.72,366.7 L1533.23,366.7 L1534.74,366.7 L1536.25,366.7 L1537.76,366.7 L1539.27,366.7 L1540.78,366.7 L1542.29,366.7 L1543.8,366.7 L1545.31,366.7 L1546.82,366.7 L1548.33,366.7 L1549.84,366.7 L1551.35,366.7 L1552.86,366.7 L1554.37,366.7 L1555.88,366.7 L1557.39,366.7 L1558.9,366.7 L1560.41,366.7 L1561.92,366.7 L1563.43,366.7 L1564.94,366.7 L1566.45,366.7 L1567.96,366.7 L1569.47,366.7 L1570.98,366.7 L1572.49,366.7 L1574,366.7 L1575.51,366.7 L1577.02,366.7 L1578.53,366.7 L1580.04,366.7 L1581.55,366.7 L1583.06,366.7 L1584.57,366.7 L1586.08,366.7 L1587.59,366.7 L1589.1,366.7" fill="none" stroke="#dbe59a" stroke-width="1.6"/>
<path d="M1226.7,323.49 L1228.21,323.49 L1229.72,323.49 L1231.23,323.49 L1232.74,323.49 L1234.25,323.49 L1235.76,323.49 L1237.27,323.49 L1238.78,323.49 L1240.29,323.49 L1241.8,323.49 L1243.31,323.49 L1244.82,323.49 L1246.33,323.49 L1247.84,323.49 L1249.35,323.49 L1250.86,323.49 L1252.37,323.49 L1253.88,323.49 L1255.39,323.49 L1256.9,323.49 L1258.41,323.49 L1259.92,323.49 L1261.43,323.49 L1262.94,323.49 L1264.45,323.49 L1265.96,323.49 L1267.47,323.49 L1268.98,323.49 L1270.49,323.49 L1272,323.49 L1273.51,323.49 L1275.02,323.49 L1276.53,323.49 L1278.04,323.49 L1279.55,323.49 L1281.06,323.49 L1282.57,323.49 L1284.08,323.49 L1285.59,323.49 L1287.1,323.49 L1288.61,323.49 L1290.12,323.49 L1291.63,323.49 L1293.14,323.49 L1294.65,323.49 L1296.16,323.49 L1297.67,323.49 L1299.18,323.49 L1300.69,323.49 L1302.2,323.49 L1303.71,323.49 L1305.22,323.49 L1306.73,323.49 L1308.24,323.49 L1309.75,323.49 L1311.26,323.49 L1312.77,323.49 L1314.28,323.49 L1315.79,323.49 L1317.3,323.49 L1318.81,323.49 L1320.32,323.49 L1321.83,323.49 L1323.34,323.49 L1324.85,323.49 L1326.36,323.49 L1327.87,323.49 L1329.38,323.49 L1330.89,323.49 L1332.4,323.49 L1333.91,323.49 L1335.42,323.49 L1336.93,323.49 L1338.44,323.49 L1339.95,323.5 L1341.46,323.51 L1342.97,323.52 L1344.48,323.54 L1345.99,323.58 L1347.5,323.64 L1349.01,323.75 L1350.52,323.93 L1352.03,324.23 L1353.54,324.72 L1355.05,325.53 L1356.56,326.8 L1358.07,328.78 L1359.58,331.69 L1361.09,335.69 L1362.6,340.68 L1364.11,346.21 L1365.62,351.6 L1367.13,356.23 L1368.64,359.78 L1370.15,362.3 L1371.66,363.96 L1373.17,365.03 L1374.68,365.69 L1376.19,366.09 L1377.7,366.34 L1379.21,366.48 L1380.72,366.57 L1382.23,366.62 L1383.74,366.65 L1385.25,366.67 L1386.76,366.68 L1388.27,366.69 L1389.78,366.69 L1391.29,366.7 L1392.8,366.7 L1394.31,366.7 L1395.82,366.7 L1397.33,366.7 L1398.84,366.7 L1400.35,366.7 L1401.86,366.7 L1403.37,366.7 L1404.88,366.7 L1406.39,366.7 L1407.9,366.7 L1409.41,366.7 L1410.92,366.7 L1412.43,366.7 L1413.94,366.7 L1415.45,366.7 L1416.96,366.7 L1418.47,366.7 L1419.98,366.7 L1421.49,366.7 L1423,366.7 L1424.51,366.7 L1426.02,366.7 L1427.53,366.7 L1429.04,366.7 L1430.55,366.7 L1432.06,366.7 L1433.57,366.7 L1435.08,366.7 L1436.59,366.7 L1438.1,366.7 L1439.61,366.7 L1441.12,366.7 L1442.63,366.7 L1444.14,366.7 L1445.65,366.7 L1447.16,366.7 L1448.67,366.7 L1450.18,366.7 L1451.69,366.7 L1453.2,366.7 L1454.71,366.7 L1456.22,366.7 L1457.73,366.7 L1459.24,366.7 L1460.75,366.7 L1462.26,366.7 L1463.77,366.7 L1465.28,366.7 L1466.79,366.7 L1468.3,366.7 L1469.81,366.7 L1471.32,366.7 L1472.83,366.7 L1474.34,366.7 L1475.85,366.7 L1477.36,366.7 L1478.87,366.7 L1480.38,366.7 L1481.89,366.7 L1483.4,366.7 L1484.91,366.7 L1486.42,366.7 L1487.93,366.7 L1489.44,366.7 L1490.95,366.7 L1492.46,366.7 L1493.97,366.7 L1495.48,366.7 L1496.99,366.7 L1498.5,366.7 L1500.01,366.7 L1501.52,366.7 L1503.03,366.7 L1504.54,366.7 L1506.05,366.7 L1507.56,366.7 L1509.07,366.7 L1510.58,366.7 L1512.09,366.7 L1513.6,366.7 L1515.11,366.7 L1516.62,366.7 L1518.13,366.7 L1519.64,366.7 L1521.15,366.7 L1522.66,366.7 L1524.17,366.7 L1525.68,366.7 L1527.19,366.7 L1528.7,366.7 L1530.21,366.7 L1531.72,366.7 L1533.23,366.7 L1534.74,366.7 L1536.25,366.7 L1537.76,366.7 L1539.27,366.7 L1540.78,366.7 L1542.29,366.7 L1543.8,366.7 L1545.31,366.7 L1546.82,366.7 L1548.33,366.7 L1549.84,366.7 L1551.35,366.7 L1552.86,366.7 L1554.37,366.7 L1555.88,366.7 L1557.39,366.7 L1558.9,366.7 L1560.41,366.7 L1561.92,366.7 L1563.43,366.7 L1564.94,366.7 L1566.45,366.7 L1567.96,366.7 L1569.47,366.7 L1570.98,366.7 L1572.49,366.7 L1574,366.7 L1575.51,366.7 L1577.02,366.7 L1578.53,366.7 L1580.04,366.7 L1581.55,366.7 L1583.06,366.7 L1584.57,366.7 L1586.08,366.7 L1587.59,366.7 L1589.1,366.7" fill="none" stroke="#f7cf98" stroke-width="1.6"/>
<path d="M1226.7,326.71 L1228.21,326.71 L1229.72,326.71 L1231.23,326.71 L1232.74,326.71 L1234.25,326.71 L1235.76,326.71 L1237.27,326.71 L1238.78,326.71 L1240.29,326.71 L1241.8,326.71 L1243.31,326.71 L1244.82,326.71 L1246.33,326.71 L1247.84,326.71 L1249.35,326.71 L1250.86,326.71 L1252.37,326.71 L1253.88,326.71 L1255.39,326.71 L1256.9,326.71 L1258.41,326.71 L1259.92,326.71 L1261.43,326.71 L1262.94,326.71 L1264.45,326.71 L1265.96,326.71 L1267.47,326.71 L1268.98,326.71 L1270.49,326.71 L1272,326.71 L1273.51,326.71 L1275.02,326.71 L1276.53,326.71 L1278.04,326.71 L1279.55,326.71 L1281.06,326.71 L1282.57,326.71 L1284.08,326.71 L1285.59,326.71 L1287.1,326.71 L1288.61,326.71 L1290.12,326.71 L1291.63,326.71 L1293.14,326.71 L1294.65,326.71 L1296.16,326.71 L1297.67,326.71 L1299.18,326.71 L1300.69,326.71 L1302.2,326.71 L1303.71,326.71 L1305.22,326.71 L1306.73,326.71 L1308.24,326.71 L1309.75,326.71 L1311.26,326.71 L1312.77,326.71 L1314.28,326.71 L1315.79,326.71 L1317.3,326.71 L1318.81,326.71 L1320.32,326.71 L1321.83,326.71 L1323.34,326.71 L1324.85,326.71 L1326.36,326.71 L1327.87,326.71 L1329.38,326.71 L1330.89,326.71 L1332.4,326.71 L1333.91,326.71 L1335.42,326.71 L1336.93,326.71 L1338.44,326.71 L1339.95,326.71 L1341.46,326.71 L1342.97,326.71 L1344.48,326.71 L1345.99,326.71 L1347.5,326.71 L1349.01,326.71 L1350.52,326.71 L1352.03,326.71 L1353.54,326.71 L1355.05,326.71 L1356.56,326.71 L1358.07,326.71 L1359.58,326.71 L1361.09,326.71 L1362.6,326.71 L1364.11,326.71 L1365.62,326.71 L1367.13,326.71 L1368.64,326.71 L1370.15,326.71 L1371.66,326.71 L1373.17,326.71 L1374.68,326.71 L1376.19,326.71 L1377.7,326.71 L1379.21,326.71 L1380.72,326.71 L1382.23,326.71 L1383.74,326.72 L1385.25,326.74 L1386.76,326.79 L1388.27,326.93 L1389.78,327.33 L1391.29,328.42 L1392.8,331.18 L1394.31,337.18 L1395.82,346.7 L1397.33,356.23 L1398.84,362.23 L1400.35,364.99 L1401.86,366.08 L1403.37,366.48 L1404.88,366.62 L1406.39,366.67 L1407.9,366.69 L1409.41,366.7 L1410.92,366.7 L1412.43,366.7 L1413.94,366.7 L1415.45,366.7 L1416.96,366.7 L1418.47,366.7 L1419.98,366.7 L1421.49,366.7 L1423,366.7 L1424.51,366.7 L1426.02,366.7 L1427.53,366.7 L1429.04,366.7 L1430.55,366.7 L1432.06,366.7 L1433.57,366.7 L1435.08,366.7 L1436.59,366.7 L1438.1,366.7 L1439.61,366.7 L1441.12,366.7 L1442.63,366.7 L1444.14,366.7 L1445.65,366.7 L1447.16,366.7 L1448.67,366.7 L1450.18,366.7 L1451.69,366.7 L1453.2,366.7 L1454.71,366.7 L1456.22,366.7 L1457.73,366.7 L1459.24,366.7 L1460.75,366.7 L1462.26,366.7 L1463.77,366.7 L1465.28,366.7 L1466.79,366.7 L1468.3,366.7 L1469.81,366.7 L1471.32,366.7 L1472.83,366.7 L1474.34,366.7 L1475.85,366.7 L1477.36,366.7 L1478.87,366.7 L1480.38,366.7 L1481.89,366.7 L1483.4,366.7 L1484.91,366.7 L1486.42,366.7 L1487.93,366.7 L1489.44,366.7 L1490.95,366.7 L1492.46,366.7 L1493.97,366.7 L1495.48,366.7 L1496.99,366.7 L1498.5,366.7 L1500.01,366.7 L1501.52,366.7 L1503.03,366.7 L1504.54,366.7 L1506.05,366.7 L1507.56,366.7 L1509.07,366.7 L1510.58,366.7 L1512.09,366.7 L1513.6,366.7 L1515.11,366.7 L1516.62,366.7 L1518.13,366.7 L1519.64,366.7 L1521.15,366.7 L1522.66,366.7 L1524.17,366.7 L1525.68,366.7 L1527.19,366.7 L1528.7,366.7 L1530.21,366.7 L1531.72,366.7 L1533.23,366.7 L1534.74,366.7 L1536.25,366.7 L1537.76,366.7 L1539.27,366.7 L1540.78,366.7 L1542.29,366.7 L1543.8,366.7 L1545.31,366.7 L1546.82,366.7 L1548.33,366.7 L1549.84,366.7 L1551.35,366.7 L1552.86,366.7 L1554.37,366.7 L1555.88,366.7 L1557.39,366.7 L1558.9,366.7 L1560.41,366.7 L1561.92,366.7 L1563.43,366.7 L1564.94,366.7 L1566.45,366.7 L1567.96,366.7 L1569.47,366.7 L1570.98,366.7 L1572.49,366.7 L1574,366.7 L1575.51,366.7 L1577.02,366.7 L1578.53,366.7 L1580.04,366.7 L1581.55,366.7 L1583.06,366.7 L1584.57,366.7 L1586.08,366.7 L1587.59,366.7 L1589.1,366.7" fill="none" stroke="#f0857d" stroke-width="1.6"/>
<circle cx="1226.7" cy="353.8" r="6.8" fill="#e2e2e2" stroke="#111" stroke-width="1.4"/>
<circle cx="1287.1" cy="350.57" r="6.8" fill="#e2e2e2" stroke="#111" stroke-width="1.4"/>
<circle cx="1347.5" cy="352.51" r="6.8" fill="#e2e2e2" stroke="#111" stroke-width="1.4"/>
<circle cx="1407.9" cy="366.7" r="6.8" fill="#e2e2e2" stroke="#111" stroke-width="1.4"/>
<circle cx="1468.3" cy="366.7" r="6.8" fill="#e2e2e2" stroke="#111" stroke-width="1.4"/>
<circle cx="1528.7" cy="366.7" r="6.8" fill="#e2e2e2" stroke="#111" stroke-width="1.4"/>
<circle cx="1589.1" cy="366.7" r="6.8" fill="#e2e2e2" stroke="#111" stroke-width="1.4"/>
<circle cx="1226.7" cy="79.67" r="6.8" fill="#c25fb8" stroke="#111" stroke-width="1.4"/>
<circle cx="1287.1" cy="92.57" r="6.8" fill="#c25fb8" stroke="#111" stroke-width="1.4"/>
<circle cx="1347.5" cy="153.85" r="6.8" fill="#c25fb8" stroke="#111" stroke-width="1.4"/>
<circle cx="1407.9" cy="355.74" r="6.8" fill="#c25fb8" stroke="#111" stroke-width="1.4"/>
<circle cx="1468.3" cy="365.41" r="6.8" fill="#c25fb8" stroke="#111" stroke-width="1.4"/>
<circle cx="1528.7" cy="366.7" r="6.8" fill="#c25fb8" stroke="#111" stroke-width="1.4"/>
<circle cx="1589.1" cy="366.7" r="6.8" fill="#c25fb8" stroke="#111" stroke-width="1.4"/>
<circle cx="1226.7" cy="311.88" r="6.8" fill="#1f2d86" stroke="#111" stroke-width="1.4"/>
<circle cx="1287.1" cy="294.46" r="6.8" fill="#1f2d86" stroke="#111" stroke-width="1.4"/>
<circle cx="1347.5" cy="315.1" r="6.8" fill="#1f2d86" stroke="#111" stroke-width="1.4"/>
<circle cx="1407.9" cy="366.7" r="6.8" fill="#1f2d86" stroke="#111" stroke-width="1.4"/>
<circle cx="1468.3" cy="364.76" r="6.8" fill="#1f2d86" stroke="#111" stroke-width="1.4"/>
<circle cx="1528.7" cy="366.7" r="6.8" fill="#1f2d86" stroke="#111" stroke-width="1.4"/>
<circle cx="1589.1" cy="366.7" r="6.8" fill="#1f2d86" stroke="#111" stroke-width="1.4"/>
<circle cx="1226.7" cy="342.83" r="6.8" fill="#3f8fd2" stroke="#111" stroke-width="1.4"/>
<circle cx="1287.1" cy="342.19" r="6.8" fill="#3f8fd2" stroke="#111" stroke-width="1.4"/>
<circle cx="1347.5" cy="352.51" r="6.8" fill="#3f8fd2" stroke="#111" stroke-width="1.4"/>
<circle cx="1407.9" cy="366.7" r="6.8" fill="#3f8fd2" stroke="#111" stroke-width="1.4"/>
<circle cx="1468.3" cy="366.7" r="6.8" fill="#3f8fd2" stroke="#111" stroke-width="1.4"/>
<circle cx="1528.7" cy="366.7" r="6.8" fill="#3f8fd2" stroke="#111" stroke-width="1.4"/>
<circle cx="1589.1" cy="366.7" r="6.8" fill="#3f8fd2" stroke="#111" stroke-width="1.4"/>
<circle cx="1226.7" cy="342.19" r="6.8" fill="#7fd4f4" stroke="#111" stroke-width="1.4"/>
<circle cx="1287.1" cy="342.83" r="6.8" fill="#7fd4f4" stroke="#111" stroke-width="1.4"/>
<circle cx="1347.5" cy="348.64" r="6.8" fill="#7fd4f4" stroke="#111" stroke-width="1.4"/>
<circle cx="1407.9" cy="366.7" r="6.8" fill="#7fd4f4" stroke="#111" stroke-width="1.4"/>
<circle cx="1468.3" cy="366.7" r="6.8" fill="#7fd4f4" stroke="#111" stroke-width="1.4"/>
<circle cx="1528.7" cy="366.7" r="6.8" fill="#7fd4f4" stroke="#111" stroke-width="1.4"/>
<circle cx="1589.1" cy="366.7" r="6.8" fill="#7fd4f4" stroke="#111" stroke-width="1.4"/>
<circle cx="1226.7" cy="346.06" r="6.8" fill="#8fd2bf" stroke="#111" stroke-width="1.4"/>
<circle cx="1287.1" cy="333.16" r="6.8" fill="#8fd2bf" stroke="#111" stroke-width="1.4"/>
<circle cx="1347.5" cy="340.25" r="6.8" fill="#8fd2bf" stroke="#111" stroke-width="1.4"/>
<circle cx="1407.9" cy="366.7" r="6.8" fill="#8fd2bf" stroke="#111" stroke-width="1.4"/>
<circle cx="1468.3" cy="366.7" r="6.8" fill="#8fd2bf" stroke="#111" stroke-width="1.4"/>
<circle cx="1528.7" cy="366.7" r="6.8" fill="#8fd2bf" stroke="#111" stroke-width="1.4"/>
<circle cx="1589.1" cy="366.7" r="6.8" fill="#8fd2bf" stroke="#111" stroke-width="1.4"/>
<circle cx="1226.7" cy="331.87" r="6.8" fill="#d6e37a" stroke="#111" stroke-width="1.4"/>
<circle cx="1287.1" cy="331.22" r="6.8" fill="#d6e37a" stroke="#111" stroke-width="1.4"/>
<circle cx="1347.5" cy="332.51" r="6.8" fill="#d6e37a" stroke="#111" stroke-width="1.4"/>
<circle cx="1407.9" cy="366.7" r="6.8" fill="#d6e37a" stroke="#111" stroke-width="1.4"/>
<circle cx="1468.3" cy="366.7" r="6.8" fill="#d6e37a" stroke="#111" stroke-width="1.4"/>
<circle cx="1528.7" cy="366.7" r="6.8" fill="#d6e37a" stroke="#111" stroke-width="1.4"/>
<circle cx="1589.1" cy="366.7" r="6.8" fill="#d6e37a" stroke="#111" stroke-width="1.4"/>
<circle cx="1226.7" cy="321.55" r="6.8" fill="#f9d47c" stroke="#111" stroke-width="1.4"/>
<circle cx="1287.1" cy="321.55" r="6.8" fill="#f9d47c" stroke="#111" stroke-width="1.4"/>
<circle cx="1347.5" cy="324.13" r="6.8" fill="#f9d47c" stroke="#111" stroke-width="1.4"/>
<circle cx="1407.9" cy="366.7" r="6.8" fill="#f9d47c" stroke="#111" stroke-width="1.4"/>
<circle cx="1468.3" cy="366.7" r="6.8" fill="#f9d47c" stroke="#111" stroke-width="1.4"/>
<circle cx="1528.7" cy="366.7" r="6.8" fill="#f9d47c" stroke="#111" stroke-width="1.4"/>
<circle cx="1589.1" cy="366.7" r="6.8" fill="#f9d47c" stroke="#111" stroke-width="1.4"/>
<circle cx="1226.7" cy="330.58" r="6.8" fill="#f27a72" stroke="#111" stroke-width="1.4"/>
<circle cx="1287.1" cy="327.36" r="6.8" fill="#f27a72" stroke="#111" stroke-width="1.4"/>
<circle cx="1347.5" cy="322.19" r="6.8" fill="#f27a72" stroke="#111" stroke-width="1.4"/>
<circle cx="1407.9" cy="366.7" r="6.8" fill="#f27a72" stroke="#111" stroke-width="1.4"/>
<circle cx="1468.3" cy="366.7" r="6.8" fill="#f27a72" stroke="#111" stroke-width="1.4"/>
<circle cx="1528.7" cy="366.7" r="6.8" fill="#f27a72" stroke="#111" stroke-width="1.4"/>
<circle cx="1589.1" cy="366.7" r="6.8" fill="#f27a72" stroke="#111" stroke-width="1.4"/>
<line x1="1563.5" y1="59" x2="1587.5" y2="59" stroke="#f0857d" stroke-width="1.4" />
<circle cx="1575.6" cy="59" r="7" fill="#f27a72" stroke="#2a1a1a" stroke-width="1.6"/>
<text x="1601" y="64.5" font-size="21" text-anchor="start" fill="#111">AHNAK</text>
<line x1="1563.5" y1="88" x2="1587.5" y2="88" stroke="#f7cf98" stroke-width="1.4" />
<circle cx="1575.6" cy="88" r="7" fill="#f9d47c" stroke="#2a1a1a" stroke-width="1.6"/>
<text x="1601" y="93.5" font-size="21" text-anchor="start" fill="#111">AKR1C4</text>
<line x1="1563.5" y1="117" x2="1587.5" y2="117" stroke="#dbe59a" stroke-width="1.4" />
<circle cx="1575.6" cy="117" r="7" fill="#d6e37a" stroke="#2a1a1a" stroke-width="1.6"/>
<text x="1601" y="122.5" font-size="21" text-anchor="start" fill="#111">BATF</text>
<line x1="1563.5" y1="146" x2="1587.5" y2="146" stroke="#9fcfc2" stroke-width="1.4" />
<circle cx="1575.6" cy="146" r="7" fill="#8fd2bf" stroke="#2a1a1a" stroke-width="1.6"/>
<text x="1601" y="151.5" font-size="21" text-anchor="start" fill="#111">DUPD1</text>
<line x1="1563.5" y1="175" x2="1587.5" y2="175" stroke="#9ed6ee" stroke-width="1.4" />
<circle cx="1575.6" cy="175" r="7" fill="#7fd4f4" stroke="#2a1a1a" stroke-width="1.6"/>
<text x="1601" y="180.5" font-size="21" text-anchor="start" fill="#111">GPD1</text>
<line x1="1563.5" y1="204" x2="1587.5" y2="204" stroke="#6aa3d6" stroke-width="1.4" />
<circle cx="1575.6" cy="204" r="7" fill="#3f8fd2" stroke="#2a1a1a" stroke-width="1.6"/>
<text x="1601" y="209.5" font-size="21" text-anchor="start" fill="#111">IFNL2</text>
<line x1="1563.5" y1="233" x2="1587.5" y2="233" stroke="#4a5499" stroke-width="1.4" />
<circle cx="1575.6" cy="233" r="7" fill="#1f2d86" stroke="#2a1a1a" stroke-width="1.6"/>
<text x="1601" y="238.5" font-size="21" text-anchor="start" fill="#111">IL12B</text>
<line x1="1563.5" y1="262" x2="1587.5" y2="262" stroke="#cc78c4" stroke-width="1.4" />
<circle cx="1575.6" cy="262" r="7" fill="#c25fb8" stroke="#2a1a1a" stroke-width="1.6"/>
<text x="1601" y="267.5" font-size="21" text-anchor="start" fill="#111">LTBR</text>
<line x1="1563.5" y1="291" x2="1587.5" y2="291" stroke="#f2c9c9" stroke-width="1.4" />
<circle cx="1575.6" cy="291" r="7" fill="#e2e2e2" stroke="#2a1a1a" stroke-width="1.6"/>
<text x="1601" y="296.5" font-size="21" text-anchor="start" fill="#111">tNGFR</text>
</g>
<g id="panel-c">
<text transform="translate(1086.5 465.5) scale(1.08 1)" x="0" y="0" font-size="29" font-weight="bold" fill="#000" style="stroke:#000;stroke-width:1.3px">c</text>
<line x1="1165.6" y1="474.5" x2="1165.6" y2="790.5" stroke="#444" stroke-width="1.4" />
<line x1="1164.9" y1="789.8" x2="1638.2" y2="789.8" stroke="#444" stroke-width="1.6" />
<line x1="1154" y1="474.5" x2="1165.6" y2="474.5" stroke="#444" stroke-width="1.4" />
<text x="1153.3" y="482.3" font-size="20.6" text-anchor="end" fill="#111">10<tspan font-size="11.5" dy="-6.7">1</tspan></text>
<line x1="1154" y1="579.6" x2="1165.6" y2="579.6" stroke="#444" stroke-width="1.4" />
<text x="1153.3" y="587.4" font-size="20.6" text-anchor="end" fill="#111">10<tspan font-size="11.5" dy="-6.7">0</tspan></text>
<line x1="1154" y1="684.7" x2="1165.6" y2="684.7" stroke="#444" stroke-width="1.4" />
<text x="1153.3" y="692.5" font-size="20.6" text-anchor="end" fill="#111">10<tspan font-size="11.5" dy="-6.7">-1</tspan></text>
<line x1="1154" y1="789.8" x2="1165.6" y2="789.8" stroke="#444" stroke-width="1.4" />
<text x="1153.3" y="797.6" font-size="20.6" text-anchor="end" fill="#111">10<tspan font-size="11.5" dy="-6.7">-2</tspan></text>
<rect x="1174.7" y="630" width="17" height="159.8" fill="#fff" stroke="#555" stroke-width="1.4"/>
<line x1="1183.2" y1="789.8" x2="1183.2" y2="801.8" stroke="#444" stroke-width="1.4" />
<circle cx="1183.6" cy="611.17" r="6.2" fill="#000" stroke="none" stroke-width="1"/>
<circle cx="1183.6" cy="659.22" r="6.2" fill="#000" stroke="none" stroke-width="1"/>
<text x="1187" y="803.8" font-size="22.8" text-anchor="end" fill="#111" transform="rotate(-90 1187 803.8)">ADA</text>
<rect x="1201.98" y="663.3" width="17" height="126.5" fill="#fff" stroke="#555" stroke-width="1.4"/>
<line x1="1210.48" y1="789.8" x2="1210.48" y2="801.8" stroke="#444" stroke-width="1.4" />
<circle cx="1207.63" cy="667.1" r="6.2" fill="#000" stroke="none" stroke-width="1"/>
<circle cx="1213.26" cy="659.59" r="6.2" fill="#000" stroke="none" stroke-width="1"/>
<text x="1214.28" y="803.8" font-size="22.8" text-anchor="end" fill="#111" transform="rotate(-90 1214.28 803.8)">AHCY</text>
<rect x="1229.26" y="666.4" width="17" height="123.4" fill="#fff" stroke="#555" stroke-width="1.4"/>
<line x1="1237.76" y1="789.8" x2="1237.76" y2="801.8" stroke="#444" stroke-width="1.4" />
<circle cx="1234.65" cy="667.85" r="6.2" fill="#000" stroke="none" stroke-width="1"/>
<circle cx="1241.41" cy="666.35" r="6.2" fill="#000" stroke="none" stroke-width="1"/>
<text x="1241.56" y="803.8" font-size="22.8" text-anchor="end" fill="#111" transform="rotate(-90 1241.56 803.8)">AHNAK</text>
<rect x="1256.54" y="612.7" width="17" height="177.1" fill="#fff" stroke="#555" stroke-width="1.4"/>
<line x1="1265.04" y1="789.8" x2="1265.04" y2="801.8" stroke="#444" stroke-width="1.4" />
<circle cx="1265.06" cy="602.54" r="6.2" fill="#000" stroke="none" stroke-width="1"/>
<circle cx="1265.06" cy="623.18" r="6.2" fill="#000" stroke="none" stroke-width="1"/>
<text x="1268.84" y="803.8" font-size="22.8" text-anchor="end" fill="#111" transform="rotate(-90 1268.84 803.8)">AKR1C4</text>
<rect x="1283.82" y="620.6" width="17" height="169.2" fill="#fff" stroke="#555" stroke-width="1.4"/>
<line x1="1292.32" y1="789.8" x2="1292.32" y2="801.8" stroke="#444" stroke-width="1.4" />
<circle cx="1292.46" cy="599.53" r="6.2" fill="#000" stroke="none" stroke-width="1"/>
<circle cx="1292.46" cy="656.22" r="6.2" fill="#000" stroke="none" stroke-width="1"/>
<text x="1296.12" y="803.8" font-size="22.8" text-anchor="end" fill="#111" transform="rotate(-90 1296.12 803.8)">ATF6B</text>
<rect x="1311.1" y="640.5" width="17" height="149.3" fill="#fff" stroke="#555" stroke-width="1.4"/>
<line x1="1319.6" y1="789.8" x2="1319.6" y2="801.8" stroke="#444" stroke-width="1.4" />
<circle cx="1319.49" cy="621.68" r="6.2" fill="#000" stroke="none" stroke-width="1"/>
<circle cx="1319.49" cy="668.98" r="6.2" fill="#000" stroke="none" stroke-width="1"/>
<text x="1323.4" y="803.8" font-size="22.8" text-anchor="end" fill="#111" transform="rotate(-90 1323.4 803.8)">BATF</text>
<rect x="1338.38" y="605.5" width="17" height="184.3" fill="#fff" stroke="#555" stroke-width="1.4"/>
<line x1="1346.88" y1="789.8" x2="1346.88" y2="801.8" stroke="#444" stroke-width="1.4" />
<circle cx="1346.89" cy="580.77" r="6.2" fill="#000" stroke="none" stroke-width="1"/>
<circle cx="1346.89" cy="661.1" r="6.2" fill="#000" stroke="none" stroke-width="1"/>
<text x="1350.68" y="803.8" font-size="22.8" text-anchor="end" fill="#111" transform="rotate(-90 1350.68 803.8)">CALML3</text>
<rect x="1365.66" y="588.3" width="17" height="201.5" fill="#fff" stroke="#555" stroke-width="1.4"/>
<line x1="1374.16" y1="789.8" x2="1374.16" y2="801.8" stroke="#444" stroke-width="1.4" />
<circle cx="1372.04" cy="591.65" r="6.2" fill="#000" stroke="none" stroke-width="1"/>
<circle cx="1377.67" cy="584.52" r="6.2" fill="#000" stroke="none" stroke-width="1"/>
<text x="1377.96" y="803.8" font-size="22.8" text-anchor="end" fill="#111" transform="rotate(-90 1377.96 803.8)">DBI</text>
<rect x="1392.94" y="612.7" width="17" height="177.1" fill="#fff" stroke="#555" stroke-width="1.4"/>
<line x1="1401.44" y1="789.8" x2="1401.44" y2="801.8" stroke="#444" stroke-width="1.4" />
<circle cx="1401.32" cy="597.66" r="6.2" fill="#000" stroke="none" stroke-width="1"/>
<circle cx="1401.32" cy="632.57" r="6.2" fill="#000" stroke="none" stroke-width="1"/>
<text x="1405.24" y="803.8" font-size="22.8" text-anchor="end" fill="#111" transform="rotate(-90 1405.24 803.8)">DUPD1</text>
<rect x="1420.22" y="584.5" width="17" height="205.3" fill="#fff" stroke="#555" stroke-width="1.4"/>
<line x1="1428.72" y1="789.8" x2="1428.72" y2="801.8" stroke="#444" stroke-width="1.4" />
<circle cx="1425.35" cy="587.52" r="6.2" fill="#000" stroke="none" stroke-width="1"/>
<circle cx="1431.73" cy="581.89" r="6.2" fill="#000" stroke="none" stroke-width="1"/>
<text x="1432.52" y="803.8" font-size="22.8" text-anchor="end" fill="#111" transform="rotate(-90 1432.52 803.8)">GPD1</text>
<rect x="1447.5" y="588.6" width="17" height="201.2" fill="#fff" stroke="#555" stroke-width="1.4"/>
<line x1="1456" y1="789.8" x2="1456" y2="801.8" stroke="#444" stroke-width="1.4" />
<circle cx="1456.13" cy="580.39" r="6.2" fill="#000" stroke="none" stroke-width="1"/>
<circle cx="1456.13" cy="596.91" r="6.2" fill="#000" stroke="none" stroke-width="1"/>
<text x="1459.8" y="803.8" font-size="22.8" text-anchor="end" fill="#111" transform="rotate(-90 1459.8 803.8)">GPN3</text>
<rect x="1474.78" y="588.6" width="17" height="201.2" fill="#fff" stroke="#555" stroke-width="1.4"/>
<line x1="1483.28" y1="789.8" x2="1483.28" y2="801.8" stroke="#444" stroke-width="1.4" />
<circle cx="1480.53" cy="593.9" r="6.2" fill="#000" stroke="none" stroke-width="1"/>
<circle cx="1486.16" cy="581.89" r="6.2" fill="#000" stroke="none" stroke-width="1"/>
<text x="1487.08" y="803.8" font-size="22.8" text-anchor="end" fill="#111" transform="rotate(-90 1487.08 803.8)">IFNL2</text>
<rect x="1502.06" y="599.2" width="17" height="190.6" fill="#fff" stroke="#555" stroke-width="1.4"/>
<line x1="1510.56" y1="789.8" x2="1510.56" y2="801.8" stroke="#444" stroke-width="1.4" />
<circle cx="1510.93" cy="585.27" r="6.2" fill="#000" stroke="none" stroke-width="1"/>
<circle cx="1510.93" cy="616.05" r="6.2" fill="#000" stroke="none" stroke-width="1"/>
<text x="1514.36" y="803.8" font-size="22.8" text-anchor="end" fill="#111" transform="rotate(-90 1514.36 803.8)">IL12B</text>
<rect x="1529.34" y="597.7" width="17" height="192.1" fill="#fff" stroke="#555" stroke-width="1.4"/>
<line x1="1537.84" y1="789.8" x2="1537.84" y2="801.8" stroke="#444" stroke-width="1.4" />
<circle cx="1534.95" cy="600.66" r="6.2" fill="#000" stroke="none" stroke-width="1"/>
<circle cx="1540.96" cy="592.4" r="6.2" fill="#000" stroke="none" stroke-width="1"/>
<text x="1541.64" y="803.8" font-size="22.8" text-anchor="end" fill="#111" transform="rotate(-90 1541.64 803.8)">ITM2A</text>
<rect x="1556.62" y="604" width="17" height="185.8" fill="#fff" stroke="#555" stroke-width="1.4"/>
<line x1="1565.12" y1="789.8" x2="1565.12" y2="801.8" stroke="#444" stroke-width="1.4" />
<circle cx="1564.98" cy="593.9" r="6.2" fill="#000" stroke="none" stroke-width="1"/>
<circle cx="1564.98" cy="614.92" r="6.2" fill="#000" stroke="none" stroke-width="1"/>
<text x="1568.92" y="803.8" font-size="22.8" text-anchor="end" fill="#111" transform="rotate(-90 1568.92 803.8)">LTBR</text>
<rect x="1583.9" y="582.6" width="17" height="207.2" fill="#fff" stroke="#555" stroke-width="1.4"/>
<line x1="1592.4" y1="789.8" x2="1592.4" y2="801.8" stroke="#444" stroke-width="1.4" />
<circle cx="1589.38" cy="585.65" r="6.2" fill="#000" stroke="none" stroke-width="1"/>
<circle cx="1595.39" cy="581.89" r="6.2" fill="#000" stroke="none" stroke-width="1"/>
<text x="1596.2" y="803.8" font-size="22.8" text-anchor="end" fill="#111" transform="rotate(-90 1596.2 803.8)">MRPL51</text>
<rect x="1611.18" y="594.7" width="17" height="195.1" fill="#fff" stroke="#555" stroke-width="1.4"/>
<line x1="1619.68" y1="789.8" x2="1619.68" y2="801.8" stroke="#444" stroke-width="1.4" />
<circle cx="1616.79" cy="595.03" r="6.2" fill="#000" stroke="none" stroke-width="1"/>
<circle cx="1622.79" cy="593.15" r="6.2" fill="#000" stroke="none" stroke-width="1"/>
<text x="1623.48" y="803.8" font-size="22.8" text-anchor="end" fill="#111" transform="rotate(-90 1623.48 803.8)">tNGFR</text>
<text x="1108" y="634" font-size="24.5" text-anchor="middle" fill="#111" transform="rotate(-90 1108 634)">IC<tspan font-size="14" dy="5">50</tspan><tspan dy="-5"> (μg/ml)</tspan></text>
<text x="1427" y="919.7" font-size="24" text-anchor="middle" fill="#111">ORF gene</text>
</g>
<g id="panel-d">
<text transform="translate(0.4 930) scale(1.17 1)" x="0" y="0" font-size="28.4" font-weight="bold" fill="#000" style="stroke:#000;stroke-width:1.3px">d</text>
<line x1="52" y1="954.7" x2="52" y2="1167.4" stroke="#555" stroke-width="1.5" />
<line x1="45" y1="1163" x2="52" y2="1163" stroke="#555" stroke-width="1.4" />
<text x="41.8" y="1168.4" font-size="20.5" text-anchor="end" fill="#111">0</text>
<line x1="45" y1="1093.6" x2="52" y2="1093.6" stroke="#555" stroke-width="1.4" />
<text x="41.8" y="1099" font-size="20.5" text-anchor="end" fill="#111">1</text>
<line x1="45" y1="1024.2" x2="52" y2="1024.2" stroke="#555" stroke-width="1.4" />
<text x="41.8" y="1029.6" font-size="20.5" text-anchor="end" fill="#111">2</text>
<line x1="45" y1="954.8" x2="52" y2="954.8" stroke="#555" stroke-width="1.4" />
<text x="41.8" y="960.2" font-size="20.5" text-anchor="end" fill="#111">3</text>
<line x1="51.3" y1="1166.7" x2="369.2" y2="1166.7" stroke="#555" stroke-width="1.6" />
<line x1="60" y1="1166.7" x2="60" y2="1174.2" stroke="#555" stroke-width="1.4" />
<circle cx="56.4" cy="1163" r="3.2" fill="#dcdcdc" stroke="#555" stroke-width="1.1"/>
<rect x="62" y="1011.01" width="3.8" height="151.99" fill="#efc3c8" stroke="#3f1c1f" stroke-width="1.3"/>
<line x1="63.9" y1="1019.34" x2="63.9" y2="1002.69" stroke="#1a0a0a" stroke-width="1.6" />
<line x1="62.1" y1="1002.69" x2="65.7" y2="1002.69" stroke="#1a0a0a" stroke-width="1.4" />
<circle cx="63.9" cy="1002.69" r="3.3" fill="#ef9aa1" stroke="#3f1c1f" stroke-width="1.3"/>
<circle cx="64.7" cy="1011.01" r="3.3" fill="#ef9aa1" stroke="#3f1c1f" stroke-width="1.3"/>
<circle cx="63.3" cy="1019.34" r="3.3" fill="#ef9aa1" stroke="#3f1c1f" stroke-width="1.3"/>
<line x1="78.8" y1="1166.7" x2="78.8" y2="1174.2" stroke="#555" stroke-width="1.4" />
<circle cx="75.2" cy="1163" r="3.2" fill="#dcdcdc" stroke="#555" stroke-width="1.1"/>
<rect x="80.8" y="1150.16" width="3.8" height="12.84" fill="#efc3c8" stroke="#3f1c1f" stroke-width="1.3"/>
<circle cx="82.7" cy="1148.43" r="3.3" fill="#ef9aa1" stroke="#3f1c1f" stroke-width="1.3"/>
<circle cx="83.5" cy="1151.9" r="3.3" fill="#ef9aa1" stroke="#3f1c1f" stroke-width="1.3"/>
<line x1="97.6" y1="1166.7" x2="97.6" y2="1174.2" stroke="#555" stroke-width="1.4" />
<circle cx="94" cy="1163" r="3.2" fill="#dcdcdc" stroke="#555" stroke-width="1.1"/>
<rect x="99.6" y="1139.17" width="3.8" height="23.83" fill="#efc3c8" stroke="#3f1c1f" stroke-width="1.3"/>
<line x1="101.5" y1="1143.36" x2="101.5" y2="1134.99" stroke="#1a0a0a" stroke-width="1.6" />
<line x1="99.7" y1="1134.99" x2="103.3" y2="1134.99" stroke="#1a0a0a" stroke-width="1.4" />
<circle cx="101.5" cy="1135.24" r="3.3" fill="#ef9aa1" stroke="#3f1c1f" stroke-width="1.3"/>
<circle cx="102.3" cy="1143.57" r="3.3" fill="#ef9aa1" stroke="#3f1c1f" stroke-width="1.3"/>
<circle cx="100.9" cy="1138.71" r="3.3" fill="#ef9aa1" stroke="#3f1c1f" stroke-width="1.3"/>
<line x1="116.4" y1="1166.7" x2="116.4" y2="1174.2" stroke="#555" stroke-width="1.4" />
<circle cx="112.8" cy="1163" r="3.2" fill="#dcdcdc" stroke="#555" stroke-width="1.1"/>
<rect x="118.4" y="1133.85" width="3.8" height="29.15" fill="#efc3c8" stroke="#3f1c1f" stroke-width="1.3"/>
<line x1="120.3" y1="1137.78" x2="120.3" y2="1129.93" stroke="#1a0a0a" stroke-width="1.6" />
<line x1="118.5" y1="1129.93" x2="122.1" y2="1129.93" stroke="#1a0a0a" stroke-width="1.4" />
<circle cx="120.3" cy="1131.08" r="3.3" fill="#ef9aa1" stroke="#3f1c1f" stroke-width="1.3"/>
<circle cx="121.1" cy="1136.63" r="3.3" fill="#ef9aa1" stroke="#3f1c1f" stroke-width="1.3"/>
<line x1="135.2" y1="1166.7" x2="135.2" y2="1174.2" stroke="#555" stroke-width="1.4" />
<circle cx="131.6" cy="1163" r="3.2" fill="#dcdcdc" stroke="#555" stroke-width="1.1"/>
<rect x="137.2" y="1145.42" width="3.8" height="17.58" fill="#efc3c8" stroke="#3f1c1f" stroke-width="1.3"/>
<line x1="139.1" y1="1148.7" x2="139.1" y2="1142.14" stroke="#1a0a0a" stroke-width="1.6" />
<line x1="137.3" y1="1142.14" x2="140.9" y2="1142.14" stroke="#1a0a0a" stroke-width="1.4" />
<circle cx="139.1" cy="1142.87" r="3.3" fill="#ef9aa1" stroke="#3f1c1f" stroke-width="1.3"/>
<circle cx="139.9" cy="1149.12" r="3.3" fill="#ef9aa1" stroke="#3f1c1f" stroke-width="1.3"/>
<circle cx="138.5" cy="1144.26" r="3.3" fill="#ef9aa1" stroke="#3f1c1f" stroke-width="1.3"/>
<line x1="154" y1="1166.7" x2="154" y2="1174.2" stroke="#555" stroke-width="1.4" />
<circle cx="150.4" cy="1163" r="3.2" fill="#dcdcdc" stroke="#555" stroke-width="1.1"/>
<rect x="156" y="1148.43" width="3.8" height="14.57" fill="#efc3c8" stroke="#3f1c1f" stroke-width="1.3"/>
<line x1="157.9" y1="1155.26" x2="157.9" y2="1141.59" stroke="#1a0a0a" stroke-width="1.6" />
<line x1="156.1" y1="1141.59" x2="159.7" y2="1141.59" stroke="#1a0a0a" stroke-width="1.4" />
<circle cx="157.9" cy="1140.79" r="3.3" fill="#ef9aa1" stroke="#3f1c1f" stroke-width="1.3"/>
<circle cx="158.7" cy="1150.51" r="3.3" fill="#ef9aa1" stroke="#3f1c1f" stroke-width="1.3"/>
<circle cx="157.3" cy="1153.98" r="3.3" fill="#ef9aa1" stroke="#3f1c1f" stroke-width="1.3"/>
<line x1="172.8" y1="1166.7" x2="172.8" y2="1174.2" stroke="#555" stroke-width="1.4" />
<circle cx="169.2" cy="1163" r="3.2" fill="#dcdcdc" stroke="#555" stroke-width="1.1"/>
<rect x="174.8" y="1144.72" width="3.8" height="18.28" fill="#efc3c8" stroke="#3f1c1f" stroke-width="1.3"/>
<line x1="176.7" y1="1150.38" x2="176.7" y2="1139.07" stroke="#1a0a0a" stroke-width="1.6" />
<line x1="174.9" y1="1139.07" x2="178.5" y2="1139.07" stroke="#1a0a0a" stroke-width="1.4" />
<circle cx="176.7" cy="1140.79" r="3.3" fill="#ef9aa1" stroke="#3f1c1f" stroke-width="1.3"/>
<circle cx="177.5" cy="1151.2" r="3.3" fill="#ef9aa1" stroke="#3f1c1f" stroke-width="1.3"/>
<circle cx="176.1" cy="1142.18" r="3.3" fill="#ef9aa1" stroke="#3f1c1f" stroke-width="1.3"/>
<line x1="191.6" y1="1166.7" x2="191.6" y2="1174.2" stroke="#555" stroke-width="1.4" />
<circle cx="188" cy="1163" r="3.2" fill="#dcdcdc" stroke="#555" stroke-width="1.1"/>
<rect x="193.6" y="1159.18" width="3.8" height="3.82" fill="#efc3c8" stroke="#3f1c1f" stroke-width="1.3"/>
<circle cx="195.5" cy="1158.84" r="3.3" fill="#ef9aa1" stroke="#3f1c1f" stroke-width="1.3"/>
<circle cx="196.3" cy="1159.53" r="3.3" fill="#ef9aa1" stroke="#3f1c1f" stroke-width="1.3"/>
<line x1="210.4" y1="1166.7" x2="210.4" y2="1174.2" stroke="#555" stroke-width="1.4" />
<circle cx="206.8" cy="1163" r="3.2" fill="#dcdcdc" stroke="#555" stroke-width="1.1"/>
<rect x="212.4" y="1145.3" width="3.8" height="17.7" fill="#efc3c8" stroke="#3f1c1f" stroke-width="1.3"/>
<circle cx="214.3" cy="1143.57" r="3.3" fill="#ef9aa1" stroke="#3f1c1f" stroke-width="1.3"/>
<circle cx="215.1" cy="1147.04" r="3.3" fill="#ef9aa1" stroke="#3f1c1f" stroke-width="1.3"/>
<line x1="229.2" y1="1166.7" x2="229.2" y2="1174.2" stroke="#555" stroke-width="1.4" />
<circle cx="225.6" cy="1163" r="3.2" fill="#dcdcdc" stroke="#555" stroke-width="1.1"/>
<rect x="231.2" y="1152.24" width="3.8" height="10.76" fill="#efc3c8" stroke="#3f1c1f" stroke-width="1.3"/>
<line x1="233.1" y1="1156.66" x2="233.1" y2="1147.83" stroke="#1a0a0a" stroke-width="1.6" />
<line x1="231.3" y1="1147.83" x2="234.9" y2="1147.83" stroke="#1a0a0a" stroke-width="1.4" />
<circle cx="233.1" cy="1149.12" r="3.3" fill="#ef9aa1" stroke="#3f1c1f" stroke-width="1.3"/>
<circle cx="233.9" cy="1155.37" r="3.3" fill="#ef9aa1" stroke="#3f1c1f" stroke-width="1.3"/>
<line x1="248" y1="1166.7" x2="248" y2="1174.2" stroke="#555" stroke-width="1.4" />
<circle cx="244.4" cy="1163" r="3.2" fill="#dcdcdc" stroke="#555" stroke-width="1.1"/>
<rect x="250" y="1148.77" width="3.8" height="14.23" fill="#efc3c8" stroke="#3f1c1f" stroke-width="1.3"/>
<circle cx="251.9" cy="1147.04" r="3.3" fill="#ef9aa1" stroke="#3f1c1f" stroke-width="1.3"/>
<circle cx="252.7" cy="1150.51" r="3.3" fill="#ef9aa1" stroke="#3f1c1f" stroke-width="1.3"/>
<line x1="266.8" y1="1166.7" x2="266.8" y2="1174.2" stroke="#555" stroke-width="1.4" />
<circle cx="263.2" cy="1163" r="3.2" fill="#dcdcdc" stroke="#555" stroke-width="1.1"/>
<rect x="268.8" y="1149.12" width="3.8" height="13.88" fill="#efc3c8" stroke="#3f1c1f" stroke-width="1.3"/>
<circle cx="270.7" cy="1147.73" r="3.3" fill="#ef9aa1" stroke="#3f1c1f" stroke-width="1.3"/>
<circle cx="271.5" cy="1150.51" r="3.3" fill="#ef9aa1" stroke="#3f1c1f" stroke-width="1.3"/>
<line x1="285.6" y1="1166.7" x2="285.6" y2="1174.2" stroke="#555" stroke-width="1.4" />
<circle cx="282" cy="1163" r="3.2" fill="#dcdcdc" stroke="#555" stroke-width="1.1"/>
<rect x="287.6" y="1144.26" width="3.8" height="18.74" fill="#efc3c8" stroke="#3f1c1f" stroke-width="1.3"/>
<circle cx="289.5" cy="1142.87" r="3.3" fill="#ef9aa1" stroke="#3f1c1f" stroke-width="1.3"/>
<circle cx="290.3" cy="1145.65" r="3.3" fill="#ef9aa1" stroke="#3f1c1f" stroke-width="1.3"/>
<line x1="304.4" y1="1166.7" x2="304.4" y2="1174.2" stroke="#555" stroke-width="1.4" />
<circle cx="300.8" cy="1163" r="3.2" fill="#dcdcdc" stroke="#555" stroke-width="1.1"/>
<rect x="306.4" y="1149.12" width="3.8" height="13.88" fill="#efc3c8" stroke="#3f1c1f" stroke-width="1.3"/>
<line x1="308.3" y1="1154.03" x2="308.3" y2="1144.21" stroke="#1a0a0a" stroke-width="1.6" />
<line x1="306.5" y1="1144.21" x2="310.1" y2="1144.21" stroke="#1a0a0a" stroke-width="1.4" />
<circle cx="308.3" cy="1145.65" r="3.3" fill="#ef9aa1" stroke="#3f1c1f" stroke-width="1.3"/>
<circle cx="309.1" cy="1152.59" r="3.3" fill="#ef9aa1" stroke="#3f1c1f" stroke-width="1.3"/>
<line x1="323.2" y1="1166.7" x2="323.2" y2="1174.2" stroke="#555" stroke-width="1.4" />
<circle cx="319.6" cy="1163" r="3.2" fill="#dcdcdc" stroke="#555" stroke-width="1.1"/>
<rect x="325.2" y="1140.79" width="3.8" height="22.21" fill="#efc3c8" stroke="#3f1c1f" stroke-width="1.3"/>
<line x1="327.1" y1="1147.66" x2="327.1" y2="1133.92" stroke="#1a0a0a" stroke-width="1.6" />
<line x1="325.3" y1="1133.92" x2="328.9" y2="1133.92" stroke="#1a0a0a" stroke-width="1.4" />
<circle cx="327.1" cy="1135.93" r="3.3" fill="#ef9aa1" stroke="#3f1c1f" stroke-width="1.3"/>
<circle cx="327.9" cy="1145.65" r="3.3" fill="#ef9aa1" stroke="#3f1c1f" stroke-width="1.3"/>
<line x1="342" y1="1166.7" x2="342" y2="1174.2" stroke="#555" stroke-width="1.4" />
<circle cx="338.4" cy="1163" r="3.2" fill="#dcdcdc" stroke="#555" stroke-width="1.1"/>
<rect x="344" y="1150.86" width="3.8" height="12.14" fill="#efc3c8" stroke="#3f1c1f" stroke-width="1.3"/>
<circle cx="345.9" cy="1149.12" r="3.3" fill="#ef9aa1" stroke="#3f1c1f" stroke-width="1.3"/>
<circle cx="346.7" cy="1152.59" r="3.3" fill="#ef9aa1" stroke="#3f1c1f" stroke-width="1.3"/>
<line x1="360.8" y1="1166.7" x2="360.8" y2="1174.2" stroke="#555" stroke-width="1.4" />
<circle cx="357.2" cy="1163" r="3.2" fill="#dcdcdc" stroke="#555" stroke-width="1.1"/>
<rect x="362.8" y="1148.08" width="3.8" height="14.92" fill="#efc3c8" stroke="#3f1c1f" stroke-width="1.3"/>
<line x1="364.7" y1="1151.51" x2="364.7" y2="1144.64" stroke="#1a0a0a" stroke-width="1.6" />
<line x1="362.9" y1="1144.64" x2="366.5" y2="1144.64" stroke="#1a0a0a" stroke-width="1.4" />
<circle cx="364.7" cy="1145.65" r="3.3" fill="#ef9aa1" stroke="#3f1c1f" stroke-width="1.3"/>
<circle cx="365.5" cy="1150.51" r="3.3" fill="#ef9aa1" stroke="#3f1c1f" stroke-width="1.3"/>
<line x1="420" y1="1166.2" x2="737.6" y2="1166.2" stroke="#555" stroke-width="1.6" />
<line x1="428.6" y1="1166.2" x2="428.6" y2="1173.7" stroke="#555" stroke-width="1.4" />
<circle cx="425" cy="1163.4" r="3.2" fill="#dcdcdc" stroke="#555" stroke-width="1.1"/>
<rect x="430.6" y="976.25" width="3.8" height="187.15" fill="#efc3c8" stroke="#3f1c1f" stroke-width="1.3"/>
<line x1="432.5" y1="982.15" x2="432.5" y2="970.35" stroke="#1a0a0a" stroke-width="1.6" />
<line x1="430.7" y1="970.35" x2="434.3" y2="970.35" stroke="#1a0a0a" stroke-width="1.4" />
<circle cx="432.5" cy="970.47" r="3.3" fill="#ef9aa1" stroke="#3f1c1f" stroke-width="1.3"/>
<circle cx="433.3" cy="976.02" r="3.3" fill="#ef9aa1" stroke="#3f1c1f" stroke-width="1.3"/>
<circle cx="431.9" cy="982.27" r="3.3" fill="#ef9aa1" stroke="#3f1c1f" stroke-width="1.3"/>
<line x1="447.39" y1="1166.2" x2="447.39" y2="1173.7" stroke="#555" stroke-width="1.4" />
<circle cx="443.79" cy="1163.4" r="3.2" fill="#dcdcdc" stroke="#555" stroke-width="1.1"/>
<rect x="449.39" y="1146.74" width="3.8" height="16.66" fill="#efc3c8" stroke="#3f1c1f" stroke-width="1.3"/>
<circle cx="451.29" cy="1145.36" r="3.3" fill="#ef9aa1" stroke="#3f1c1f" stroke-width="1.3"/>
<circle cx="452.09" cy="1148.13" r="3.3" fill="#ef9aa1" stroke="#3f1c1f" stroke-width="1.3"/>
<line x1="466.18" y1="1166.2" x2="466.18" y2="1173.7" stroke="#555" stroke-width="1.4" />
<circle cx="462.58" cy="1163.4" r="3.2" fill="#dcdcdc" stroke="#555" stroke-width="1.1"/>
<rect x="468.18" y="1107.65" width="3.8" height="55.75" fill="#efc3c8" stroke="#3f1c1f" stroke-width="1.3"/>
<line x1="470.08" y1="1116.44" x2="470.08" y2="1098.86" stroke="#1a0a0a" stroke-width="1.6" />
<line x1="468.28" y1="1098.86" x2="471.88" y2="1098.86" stroke="#1a0a0a" stroke-width="1.4" />
<circle cx="470.08" cy="1098.16" r="3.3" fill="#ef9aa1" stroke="#3f1c1f" stroke-width="1.3"/>
<circle cx="470.88" cy="1109.27" r="3.3" fill="#ef9aa1" stroke="#3f1c1f" stroke-width="1.3"/>
<circle cx="469.48" cy="1115.51" r="3.3" fill="#ef9aa1" stroke="#3f1c1f" stroke-width="1.3"/>
<line x1="484.97" y1="1166.2" x2="484.97" y2="1173.7" stroke="#555" stroke-width="1.4" />
<circle cx="481.37" cy="1163.4" r="3.2" fill="#dcdcdc" stroke="#555" stroke-width="1.1"/>
<rect x="486.97" y="1131.94" width="3.8" height="31.46" fill="#efc3c8" stroke="#3f1c1f" stroke-width="1.3"/>
<line x1="488.87" y1="1136.56" x2="488.87" y2="1127.32" stroke="#1a0a0a" stroke-width="1.6" />
<line x1="487.07" y1="1127.32" x2="490.67" y2="1127.32" stroke="#1a0a0a" stroke-width="1.4" />
<circle cx="488.87" cy="1128.01" r="3.3" fill="#ef9aa1" stroke="#3f1c1f" stroke-width="1.3"/>
<circle cx="489.67" cy="1130.78" r="3.3" fill="#ef9aa1" stroke="#3f1c1f" stroke-width="1.3"/>
<circle cx="488.27" cy="1137.03" r="3.3" fill="#ef9aa1" stroke="#3f1c1f" stroke-width="1.3"/>
<line x1="503.76" y1="1166.2" x2="503.76" y2="1173.7" stroke="#555" stroke-width="1.4" />
<circle cx="500.16" cy="1163.4" r="3.2" fill="#dcdcdc" stroke="#555" stroke-width="1.1"/>
<rect x="505.76" y="1148.48" width="3.8" height="14.92" fill="#efc3c8" stroke="#3f1c1f" stroke-width="1.3"/>
<line x1="507.66" y1="1151.91" x2="507.66" y2="1145.04" stroke="#1a0a0a" stroke-width="1.6" />
<line x1="505.86" y1="1145.04" x2="509.46" y2="1145.04" stroke="#1a0a0a" stroke-width="1.4" />
<circle cx="507.66" cy="1146.05" r="3.3" fill="#ef9aa1" stroke="#3f1c1f" stroke-width="1.3"/>
<circle cx="508.46" cy="1150.91" r="3.3" fill="#ef9aa1" stroke="#3f1c1f" stroke-width="1.3"/>
<line x1="522.55" y1="1166.2" x2="522.55" y2="1173.7" stroke="#555" stroke-width="1.4" />
<circle cx="518.95" cy="1163.4" r="3.2" fill="#dcdcdc" stroke="#555" stroke-width="1.1"/>
<rect x="524.55" y="1149.17" width="3.8" height="14.23" fill="#efc3c8" stroke="#3f1c1f" stroke-width="1.3"/>
<circle cx="526.45" cy="1148.13" r="3.3" fill="#ef9aa1" stroke="#3f1c1f" stroke-width="1.3"/>
<circle cx="527.25" cy="1150.21" r="3.3" fill="#ef9aa1" stroke="#3f1c1f" stroke-width="1.3"/>
<line x1="541.34" y1="1166.2" x2="541.34" y2="1173.7" stroke="#555" stroke-width="1.4" />
<circle cx="537.74" cy="1163.4" r="3.2" fill="#dcdcdc" stroke="#555" stroke-width="1.1"/>
<rect x="543.34" y="1123.61" width="3.8" height="39.79" fill="#efc3c8" stroke="#3f1c1f" stroke-width="1.3"/>
<line x1="545.24" y1="1128.73" x2="545.24" y2="1118.5" stroke="#1a0a0a" stroke-width="1.6" />
<line x1="543.44" y1="1118.5" x2="547.04" y2="1118.5" stroke="#1a0a0a" stroke-width="1.4" />
<circle cx="545.24" cy="1119.68" r="3.3" fill="#ef9aa1" stroke="#3f1c1f" stroke-width="1.3"/>
<circle cx="546.04" cy="1121.76" r="3.3" fill="#ef9aa1" stroke="#3f1c1f" stroke-width="1.3"/>
<circle cx="544.64" cy="1129.39" r="3.3" fill="#ef9aa1" stroke="#3f1c1f" stroke-width="1.3"/>
<line x1="560.13" y1="1166.2" x2="560.13" y2="1173.7" stroke="#555" stroke-width="1.4" />
<circle cx="556.53" cy="1163.4" r="3.2" fill="#dcdcdc" stroke="#555" stroke-width="1.1"/>
<rect x="562.13" y="1160.97" width="3.8" height="2.43" fill="#efc3c8" stroke="#3f1c1f" stroke-width="1.3"/>
<circle cx="564.03" cy="1160.62" r="3.3" fill="#ef9aa1" stroke="#3f1c1f" stroke-width="1.3"/>
<circle cx="564.83" cy="1161.32" r="3.3" fill="#ef9aa1" stroke="#3f1c1f" stroke-width="1.3"/>
<line x1="578.92" y1="1166.2" x2="578.92" y2="1173.7" stroke="#555" stroke-width="1.4" />
<circle cx="575.32" cy="1163.4" r="3.2" fill="#dcdcdc" stroke="#555" stroke-width="1.1"/>
<rect x="580.92" y="1155.77" width="3.8" height="7.63" fill="#efc3c8" stroke="#3f1c1f" stroke-width="1.3"/>
<circle cx="582.82" cy="1154.38" r="3.3" fill="#ef9aa1" stroke="#3f1c1f" stroke-width="1.3"/>
<circle cx="583.62" cy="1157.15" r="3.3" fill="#ef9aa1" stroke="#3f1c1f" stroke-width="1.3"/>
<line x1="597.71" y1="1166.2" x2="597.71" y2="1173.7" stroke="#555" stroke-width="1.4" />
<circle cx="594.11" cy="1163.4" r="3.2" fill="#dcdcdc" stroke="#555" stroke-width="1.1"/>
<rect x="599.71" y="1155.42" width="3.8" height="7.98" fill="#efc3c8" stroke="#3f1c1f" stroke-width="1.3"/>
<line x1="601.61" y1="1159.84" x2="601.61" y2="1151" stroke="#1a0a0a" stroke-width="1.6" />
<line x1="599.81" y1="1151" x2="603.41" y2="1151" stroke="#1a0a0a" stroke-width="1.4" />
<circle cx="601.61" cy="1152.3" r="3.3" fill="#ef9aa1" stroke="#3f1c1f" stroke-width="1.3"/>
<circle cx="602.41" cy="1158.54" r="3.3" fill="#ef9aa1" stroke="#3f1c1f" stroke-width="1.3"/>
<line x1="616.5" y1="1166.2" x2="616.5" y2="1173.7" stroke="#555" stroke-width="1.4" />
<circle cx="612.9" cy="1163.4" r="3.2" fill="#dcdcdc" stroke="#555" stroke-width="1.1"/>
<rect x="618.5" y="1148.83" width="3.8" height="14.57" fill="#efc3c8" stroke="#3f1c1f" stroke-width="1.3"/>
<circle cx="620.4" cy="1147.44" r="3.3" fill="#ef9aa1" stroke="#3f1c1f" stroke-width="1.3"/>
<circle cx="621.2" cy="1150.21" r="3.3" fill="#ef9aa1" stroke="#3f1c1f" stroke-width="1.3"/>
<line x1="635.29" y1="1166.2" x2="635.29" y2="1173.7" stroke="#555" stroke-width="1.4" />
<circle cx="631.69" cy="1163.4" r="3.2" fill="#dcdcdc" stroke="#555" stroke-width="1.1"/>
<rect x="637.29" y="1157.5" width="3.8" height="5.9" fill="#efc3c8" stroke="#3f1c1f" stroke-width="1.3"/>
<circle cx="639.19" cy="1155.77" r="3.3" fill="#ef9aa1" stroke="#3f1c1f" stroke-width="1.3"/>
<circle cx="639.99" cy="1159.24" r="3.3" fill="#ef9aa1" stroke="#3f1c1f" stroke-width="1.3"/>
<line x1="654.08" y1="1166.2" x2="654.08" y2="1173.7" stroke="#555" stroke-width="1.4" />
<circle cx="650.48" cy="1163.4" r="3.2" fill="#dcdcdc" stroke="#555" stroke-width="1.1"/>
<rect x="656.08" y="1156.81" width="3.8" height="6.59" fill="#efc3c8" stroke="#3f1c1f" stroke-width="1.3"/>
<circle cx="657.98" cy="1156.46" r="3.3" fill="#ef9aa1" stroke="#3f1c1f" stroke-width="1.3"/>
<circle cx="658.78" cy="1157.15" r="3.3" fill="#ef9aa1" stroke="#3f1c1f" stroke-width="1.3"/>
<line x1="672.87" y1="1166.2" x2="672.87" y2="1173.7" stroke="#555" stroke-width="1.4" />
<circle cx="669.27" cy="1163.4" r="3.2" fill="#dcdcdc" stroke="#555" stroke-width="1.1"/>
<rect x="674.87" y="1156.81" width="3.8" height="6.59" fill="#efc3c8" stroke="#3f1c1f" stroke-width="1.3"/>
<circle cx="676.77" cy="1155.77" r="3.3" fill="#ef9aa1" stroke="#3f1c1f" stroke-width="1.3"/>
<circle cx="677.57" cy="1157.85" r="3.3" fill="#ef9aa1" stroke="#3f1c1f" stroke-width="1.3"/>
<line x1="691.66" y1="1166.2" x2="691.66" y2="1173.7" stroke="#555" stroke-width="1.4" />
<circle cx="688.06" cy="1163.4" r="3.2" fill="#dcdcdc" stroke="#555" stroke-width="1.1"/>
<rect x="693.66" y="1105.62" width="3.8" height="57.78" fill="#efc3c8" stroke="#3f1c1f" stroke-width="1.3"/>
<line x1="695.56" y1="1109.8" x2="695.56" y2="1101.45" stroke="#1a0a0a" stroke-width="1.6" />
<line x1="693.76" y1="1101.45" x2="697.36" y2="1101.45" stroke="#1a0a0a" stroke-width="1.4" />
<circle cx="695.56" cy="1102.68" r="3.3" fill="#ef9aa1" stroke="#3f1c1f" stroke-width="1.3"/>
<circle cx="696.36" cy="1108.57" r="3.3" fill="#ef9aa1" stroke="#3f1c1f" stroke-width="1.3"/>
<line x1="710.45" y1="1166.2" x2="710.45" y2="1173.7" stroke="#555" stroke-width="1.4" />
<circle cx="706.85" cy="1163.4" r="3.2" fill="#dcdcdc" stroke="#555" stroke-width="1.1"/>
<rect x="712.45" y="1157.5" width="3.8" height="5.9" fill="#efc3c8" stroke="#3f1c1f" stroke-width="1.3"/>
<circle cx="714.35" cy="1157.15" r="3.3" fill="#ef9aa1" stroke="#3f1c1f" stroke-width="1.3"/>
<circle cx="715.15" cy="1157.85" r="3.3" fill="#ef9aa1" stroke="#3f1c1f" stroke-width="1.3"/>
<line x1="729.24" y1="1166.2" x2="729.24" y2="1173.7" stroke="#555" stroke-width="1.4" />
<circle cx="725.64" cy="1163.4" r="3.2" fill="#dcdcdc" stroke="#555" stroke-width="1.1"/>
<rect x="731.24" y="1150.21" width="3.8" height="13.19" fill="#efc3c8" stroke="#3f1c1f" stroke-width="1.3"/>
<line x1="733.14" y1="1154.14" x2="733.14" y2="1146.29" stroke="#1a0a0a" stroke-width="1.6" />
<line x1="731.34" y1="1146.29" x2="734.94" y2="1146.29" stroke="#1a0a0a" stroke-width="1.4" />
<circle cx="733.14" cy="1147.44" r="3.3" fill="#ef9aa1" stroke="#3f1c1f" stroke-width="1.3"/>
<circle cx="733.94" cy="1152.99" r="3.3" fill="#ef9aa1" stroke="#3f1c1f" stroke-width="1.3"/>
<line x1="53.9" y1="1182.6" x2="53.9" y2="1395.3" stroke="#555" stroke-width="1.5" />
<line x1="47" y1="1392" x2="53.9" y2="1392" stroke="#555" stroke-width="1.4" />
<text x="45" y="1397.4" font-size="20.5" text-anchor="end" fill="#111">0</text>
<line x1="47" y1="1339.65" x2="53.9" y2="1339.65" stroke="#555" stroke-width="1.4" />
<text x="45" y="1345.05" font-size="20.5" text-anchor="end" fill="#111">1</text>
<line x1="47" y1="1287.3" x2="53.9" y2="1287.3" stroke="#555" stroke-width="1.4" />
<text x="45" y="1292.7" font-size="20.5" text-anchor="end" fill="#111">2</text>
<line x1="47" y1="1234.95" x2="53.9" y2="1234.95" stroke="#555" stroke-width="1.4" />
<text x="45" y="1240.35" font-size="20.5" text-anchor="end" fill="#111">3</text>
<line x1="47" y1="1182.6" x2="53.9" y2="1182.6" stroke="#555" stroke-width="1.4" />
<text x="45" y="1188" font-size="20.5" text-anchor="end" fill="#111">4</text>
<line x1="47" y1="1394.6" x2="371.7" y2="1394.6" stroke="#555" stroke-width="1.6" />
<line x1="62.7" y1="1394.6" x2="62.7" y2="1402.1" stroke="#555" stroke-width="1.4" />
<circle cx="59.1" cy="1392" r="3.2" fill="#dcdcdc" stroke="#555" stroke-width="1.1"/>
<rect x="64.7" y="1293.76" width="3.8" height="98.24" fill="#efc3c8" stroke="#3f1c1f" stroke-width="1.3"/>
<line x1="66.6" y1="1298.62" x2="66.6" y2="1288.89" stroke="#1a0a0a" stroke-width="1.6" />
<line x1="64.8" y1="1288.89" x2="68.4" y2="1288.89" stroke="#1a0a0a" stroke-width="1.4" />
<circle cx="66.6" cy="1290.44" r="3.3" fill="#ef9aa1" stroke="#3f1c1f" stroke-width="1.3"/>
<circle cx="67.4" cy="1299.34" r="3.3" fill="#ef9aa1" stroke="#3f1c1f" stroke-width="1.3"/>
<circle cx="66" cy="1291.49" r="3.3" fill="#ef9aa1" stroke="#3f1c1f" stroke-width="1.3"/>
<line x1="81.51" y1="1394.6" x2="81.51" y2="1402.1" stroke="#555" stroke-width="1.4" />
<circle cx="77.91" cy="1392" r="3.2" fill="#dcdcdc" stroke="#555" stroke-width="1.1"/>
<rect x="83.51" y="1365.56" width="3.8" height="26.44" fill="#efc3c8" stroke="#3f1c1f" stroke-width="1.3"/>
<circle cx="85.41" cy="1365.3" r="3.3" fill="#ef9aa1" stroke="#3f1c1f" stroke-width="1.3"/>
<circle cx="86.21" cy="1365.83" r="3.3" fill="#ef9aa1" stroke="#3f1c1f" stroke-width="1.3"/>
<line x1="100.32" y1="1394.6" x2="100.32" y2="1402.1" stroke="#555" stroke-width="1.4" />
<circle cx="96.72" cy="1392" r="3.2" fill="#dcdcdc" stroke="#555" stroke-width="1.1"/>
<rect x="102.32" y="1365.04" width="3.8" height="26.96" fill="#efc3c8" stroke="#3f1c1f" stroke-width="1.3"/>
<circle cx="104.22" cy="1364.78" r="3.3" fill="#ef9aa1" stroke="#3f1c1f" stroke-width="1.3"/>
<circle cx="105.02" cy="1365.3" r="3.3" fill="#ef9aa1" stroke="#3f1c1f" stroke-width="1.3"/>
<line x1="119.13" y1="1394.6" x2="119.13" y2="1402.1" stroke="#555" stroke-width="1.4" />
<circle cx="115.53" cy="1392" r="3.2" fill="#dcdcdc" stroke="#555" stroke-width="1.1"/>
<rect x="121.13" y="1369.23" width="3.8" height="22.77" fill="#efc3c8" stroke="#3f1c1f" stroke-width="1.3"/>
<circle cx="123.03" cy="1368.97" r="3.3" fill="#ef9aa1" stroke="#3f1c1f" stroke-width="1.3"/>
<circle cx="123.83" cy="1369.49" r="3.3" fill="#ef9aa1" stroke="#3f1c1f" stroke-width="1.3"/>
<line x1="137.94" y1="1394.6" x2="137.94" y2="1402.1" stroke="#555" stroke-width="1.4" />
<circle cx="134.34" cy="1392" r="3.2" fill="#dcdcdc" stroke="#555" stroke-width="1.1"/>
<rect x="139.94" y="1378.65" width="3.8" height="13.35" fill="#efc3c8" stroke="#3f1c1f" stroke-width="1.3"/>
<circle cx="141.84" cy="1378.39" r="3.3" fill="#ef9aa1" stroke="#3f1c1f" stroke-width="1.3"/>
<circle cx="142.64" cy="1378.91" r="3.3" fill="#ef9aa1" stroke="#3f1c1f" stroke-width="1.3"/>
<line x1="156.75" y1="1394.6" x2="156.75" y2="1402.1" stroke="#555" stroke-width="1.4" />
<circle cx="153.15" cy="1392" r="3.2" fill="#dcdcdc" stroke="#555" stroke-width="1.1"/>
<rect x="158.75" y="1371.06" width="3.8" height="20.94" fill="#efc3c8" stroke="#3f1c1f" stroke-width="1.3"/>
<circle cx="160.65" cy="1370.54" r="3.3" fill="#ef9aa1" stroke="#3f1c1f" stroke-width="1.3"/>
<circle cx="161.45" cy="1371.58" r="3.3" fill="#ef9aa1" stroke="#3f1c1f" stroke-width="1.3"/>
<line x1="175.56" y1="1394.6" x2="175.56" y2="1402.1" stroke="#555" stroke-width="1.4" />
<circle cx="171.96" cy="1392" r="3.2" fill="#dcdcdc" stroke="#555" stroke-width="1.1"/>
<rect x="177.56" y="1366.35" width="3.8" height="25.65" fill="#efc3c8" stroke="#3f1c1f" stroke-width="1.3"/>
<circle cx="179.46" cy="1365.3" r="3.3" fill="#ef9aa1" stroke="#3f1c1f" stroke-width="1.3"/>
<circle cx="180.26" cy="1367.4" r="3.3" fill="#ef9aa1" stroke="#3f1c1f" stroke-width="1.3"/>
<line x1="194.37" y1="1394.6" x2="194.37" y2="1402.1" stroke="#555" stroke-width="1.4" />
<circle cx="190.77" cy="1392" r="3.2" fill="#dcdcdc" stroke="#555" stroke-width="1.1"/>
<rect x="196.37" y="1365.83" width="3.8" height="26.18" fill="#efc3c8" stroke="#3f1c1f" stroke-width="1.3"/>
<circle cx="198.27" cy="1364.78" r="3.3" fill="#ef9aa1" stroke="#3f1c1f" stroke-width="1.3"/>
<circle cx="199.07" cy="1366.87" r="3.3" fill="#ef9aa1" stroke="#3f1c1f" stroke-width="1.3"/>
<line x1="213.18" y1="1394.6" x2="213.18" y2="1402.1" stroke="#555" stroke-width="1.4" />
<circle cx="209.58" cy="1392" r="3.2" fill="#dcdcdc" stroke="#555" stroke-width="1.1"/>
<rect x="215.18" y="1369.23" width="3.8" height="22.77" fill="#efc3c8" stroke="#3f1c1f" stroke-width="1.3"/>
<circle cx="217.08" cy="1367.92" r="3.3" fill="#ef9aa1" stroke="#3f1c1f" stroke-width="1.3"/>
<circle cx="217.88" cy="1370.54" r="3.3" fill="#ef9aa1" stroke="#3f1c1f" stroke-width="1.3"/>
<line x1="231.99" y1="1394.6" x2="231.99" y2="1402.1" stroke="#555" stroke-width="1.4" />
<circle cx="228.39" cy="1392" r="3.2" fill="#dcdcdc" stroke="#555" stroke-width="1.1"/>
<rect x="233.99" y="1368.97" width="3.8" height="23.03" fill="#efc3c8" stroke="#3f1c1f" stroke-width="1.3"/>
<line x1="235.89" y1="1372.67" x2="235.89" y2="1365.26" stroke="#1a0a0a" stroke-width="1.6" />
<line x1="234.09" y1="1365.26" x2="237.69" y2="1365.26" stroke="#1a0a0a" stroke-width="1.4" />
<circle cx="235.89" cy="1366.35" r="3.3" fill="#ef9aa1" stroke="#3f1c1f" stroke-width="1.3"/>
<circle cx="236.69" cy="1371.58" r="3.3" fill="#ef9aa1" stroke="#3f1c1f" stroke-width="1.3"/>
<line x1="250.8" y1="1394.6" x2="250.8" y2="1402.1" stroke="#555" stroke-width="1.4" />
<circle cx="247.2" cy="1392" r="3.2" fill="#dcdcdc" stroke="#555" stroke-width="1.1"/>
<rect x="252.8" y="1357.71" width="3.8" height="34.29" fill="#efc3c8" stroke="#3f1c1f" stroke-width="1.3"/>
<line x1="254.7" y1="1360.3" x2="254.7" y2="1355.12" stroke="#1a0a0a" stroke-width="1.6" />
<line x1="252.9" y1="1355.12" x2="256.5" y2="1355.12" stroke="#1a0a0a" stroke-width="1.4" />
<circle cx="254.7" cy="1355.88" r="3.3" fill="#ef9aa1" stroke="#3f1c1f" stroke-width="1.3"/>
<circle cx="255.5" cy="1359.54" r="3.3" fill="#ef9aa1" stroke="#3f1c1f" stroke-width="1.3"/>
<line x1="269.61" y1="1394.6" x2="269.61" y2="1402.1" stroke="#555" stroke-width="1.4" />
<circle cx="266.01" cy="1392" r="3.2" fill="#dcdcdc" stroke="#555" stroke-width="1.1"/>
<rect x="271.61" y="1328.13" width="3.8" height="63.87" fill="#efc3c8" stroke="#3f1c1f" stroke-width="1.3"/>
<line x1="273.51" y1="1333.67" x2="273.51" y2="1322.59" stroke="#1a0a0a" stroke-width="1.6" />
<line x1="271.71" y1="1322.59" x2="275.31" y2="1322.59" stroke="#1a0a0a" stroke-width="1.4" />
<circle cx="273.51" cy="1321.85" r="3.3" fill="#ef9aa1" stroke="#3f1c1f" stroke-width="1.3"/>
<circle cx="274.31" cy="1330.23" r="3.3" fill="#ef9aa1" stroke="#3f1c1f" stroke-width="1.3"/>
<circle cx="272.91" cy="1332.32" r="3.3" fill="#ef9aa1" stroke="#3f1c1f" stroke-width="1.3"/>
<line x1="288.42" y1="1394.6" x2="288.42" y2="1402.1" stroke="#555" stroke-width="1.4" />
<circle cx="284.82" cy="1392" r="3.2" fill="#dcdcdc" stroke="#555" stroke-width="1.1"/>
<rect x="290.42" y="1362.42" width="3.8" height="29.58" fill="#efc3c8" stroke="#3f1c1f" stroke-width="1.3"/>
<circle cx="292.32" cy="1361.64" r="3.3" fill="#ef9aa1" stroke="#3f1c1f" stroke-width="1.3"/>
<circle cx="293.12" cy="1363.21" r="3.3" fill="#ef9aa1" stroke="#3f1c1f" stroke-width="1.3"/>
<line x1="307.23" y1="1394.6" x2="307.23" y2="1402.1" stroke="#555" stroke-width="1.4" />
<circle cx="303.63" cy="1392" r="3.2" fill="#dcdcdc" stroke="#555" stroke-width="1.1"/>
<rect x="309.23" y="1227.27" width="3.8" height="164.73" fill="#efc3c8" stroke="#3f1c1f" stroke-width="1.3"/>
<line x1="311.13" y1="1241.61" x2="311.13" y2="1212.93" stroke="#1a0a0a" stroke-width="1.6" />
<line x1="309.33" y1="1212.93" x2="312.93" y2="1212.93" stroke="#1a0a0a" stroke-width="1.4" />
<circle cx="311.13" cy="1214.53" r="3.3" fill="#ef9aa1" stroke="#3f1c1f" stroke-width="1.3"/>
<circle cx="311.93" cy="1224.48" r="3.3" fill="#ef9aa1" stroke="#3f1c1f" stroke-width="1.3"/>
<circle cx="310.53" cy="1242.8" r="3.3" fill="#ef9aa1" stroke="#3f1c1f" stroke-width="1.3"/>
<line x1="326.04" y1="1394.6" x2="326.04" y2="1402.1" stroke="#555" stroke-width="1.4" />
<circle cx="322.44" cy="1392" r="3.2" fill="#dcdcdc" stroke="#555" stroke-width="1.1"/>
<rect x="328.04" y="1365.3" width="3.8" height="26.7" fill="#efc3c8" stroke="#3f1c1f" stroke-width="1.3"/>
<circle cx="329.94" cy="1364.25" r="3.3" fill="#ef9aa1" stroke="#3f1c1f" stroke-width="1.3"/>
<circle cx="330.74" cy="1366.35" r="3.3" fill="#ef9aa1" stroke="#3f1c1f" stroke-width="1.3"/>
<line x1="344.85" y1="1394.6" x2="344.85" y2="1402.1" stroke="#555" stroke-width="1.4" />
<circle cx="341.25" cy="1392" r="3.2" fill="#dcdcdc" stroke="#555" stroke-width="1.1"/>
<rect x="346.85" y="1372.37" width="3.8" height="19.63" fill="#efc3c8" stroke="#3f1c1f" stroke-width="1.3"/>
<circle cx="348.75" cy="1372.11" r="3.3" fill="#ef9aa1" stroke="#3f1c1f" stroke-width="1.3"/>
<circle cx="349.55" cy="1372.63" r="3.3" fill="#ef9aa1" stroke="#3f1c1f" stroke-width="1.3"/>
<line x1="363.66" y1="1394.6" x2="363.66" y2="1402.1" stroke="#555" stroke-width="1.4" />
<circle cx="360.06" cy="1392" r="3.2" fill="#dcdcdc" stroke="#555" stroke-width="1.1"/>
<rect x="365.66" y="1358.85" width="3.8" height="33.16" fill="#efc3c8" stroke="#3f1c1f" stroke-width="1.3"/>
<line x1="367.56" y1="1366.56" x2="367.56" y2="1351.13" stroke="#1a0a0a" stroke-width="1.6" />
<line x1="365.76" y1="1351.13" x2="369.36" y2="1351.13" stroke="#1a0a0a" stroke-width="1.4" />
<circle cx="367.56" cy="1350.12" r="3.3" fill="#ef9aa1" stroke="#3f1c1f" stroke-width="1.3"/>
<circle cx="368.36" cy="1361.64" r="3.3" fill="#ef9aa1" stroke="#3f1c1f" stroke-width="1.3"/>
<circle cx="366.96" cy="1364.78" r="3.3" fill="#ef9aa1" stroke="#3f1c1f" stroke-width="1.3"/>
<line x1="410.5" y1="1392.8" x2="727.7" y2="1392.8" stroke="#555" stroke-width="1.6" />
<line x1="418.6" y1="1392.8" x2="418.6" y2="1400.3" stroke="#555" stroke-width="1.4" />
<circle cx="415" cy="1390.3" r="3.2" fill="#dcdcdc" stroke="#555" stroke-width="1.1"/>
<rect x="420.6" y="1251.92" width="3.8" height="138.38" fill="#efc3c8" stroke="#3f1c1f" stroke-width="1.3"/>
<line x1="422.5" y1="1258.59" x2="422.5" y2="1245.25" stroke="#1a0a0a" stroke-width="1.6" />
<line x1="420.7" y1="1245.25" x2="424.3" y2="1245.25" stroke="#1a0a0a" stroke-width="1.4" />
<circle cx="422.5" cy="1244.24" r="3.3" fill="#ef9aa1" stroke="#3f1c1f" stroke-width="1.3"/>
<circle cx="423.3" cy="1255.24" r="3.3" fill="#ef9aa1" stroke="#3f1c1f" stroke-width="1.3"/>
<circle cx="421.9" cy="1256.28" r="3.3" fill="#ef9aa1" stroke="#3f1c1f" stroke-width="1.3"/>
<line x1="437.38" y1="1392.8" x2="437.38" y2="1400.3" stroke="#555" stroke-width="1.4" />
<circle cx="433.78" cy="1390.3" r="3.2" fill="#dcdcdc" stroke="#555" stroke-width="1.1"/>
<rect x="439.38" y="1358.63" width="3.8" height="31.67" fill="#efc3c8" stroke="#3f1c1f" stroke-width="1.3"/>
<line x1="441.28" y1="1361.22" x2="441.28" y2="1356.04" stroke="#1a0a0a" stroke-width="1.6" />
<line x1="439.48" y1="1356.04" x2="443.08" y2="1356.04" stroke="#1a0a0a" stroke-width="1.4" />
<circle cx="441.28" cy="1356.8" r="3.3" fill="#ef9aa1" stroke="#3f1c1f" stroke-width="1.3"/>
<circle cx="442.08" cy="1360.46" r="3.3" fill="#ef9aa1" stroke="#3f1c1f" stroke-width="1.3"/>
<line x1="456.16" y1="1392.8" x2="456.16" y2="1400.3" stroke="#555" stroke-width="1.4" />
<circle cx="452.56" cy="1390.3" r="3.2" fill="#dcdcdc" stroke="#555" stroke-width="1.1"/>
<rect x="458.16" y="1364.65" width="3.8" height="25.65" fill="#efc3c8" stroke="#3f1c1f" stroke-width="1.3"/>
<circle cx="460.06" cy="1364.12" r="3.3" fill="#ef9aa1" stroke="#3f1c1f" stroke-width="1.3"/>
<circle cx="460.86" cy="1365.17" r="3.3" fill="#ef9aa1" stroke="#3f1c1f" stroke-width="1.3"/>
<line x1="474.94" y1="1392.8" x2="474.94" y2="1400.3" stroke="#555" stroke-width="1.4" />
<circle cx="471.34" cy="1390.3" r="3.2" fill="#dcdcdc" stroke="#555" stroke-width="1.1"/>
<rect x="476.94" y="1368.31" width="3.8" height="21.99" fill="#efc3c8" stroke="#3f1c1f" stroke-width="1.3"/>
<circle cx="478.84" cy="1366.74" r="3.3" fill="#ef9aa1" stroke="#3f1c1f" stroke-width="1.3"/>
<circle cx="479.64" cy="1369.88" r="3.3" fill="#ef9aa1" stroke="#3f1c1f" stroke-width="1.3"/>
<line x1="493.72" y1="1392.8" x2="493.72" y2="1400.3" stroke="#555" stroke-width="1.4" />
<circle cx="490.12" cy="1390.3" r="3.2" fill="#dcdcdc" stroke="#555" stroke-width="1.1"/>
<rect x="495.72" y="1359.94" width="3.8" height="30.36" fill="#efc3c8" stroke="#3f1c1f" stroke-width="1.3"/>
<circle cx="497.62" cy="1358.89" r="3.3" fill="#ef9aa1" stroke="#3f1c1f" stroke-width="1.3"/>
<circle cx="498.42" cy="1360.98" r="3.3" fill="#ef9aa1" stroke="#3f1c1f" stroke-width="1.3"/>
<line x1="512.5" y1="1392.8" x2="512.5" y2="1400.3" stroke="#555" stroke-width="1.4" />
<circle cx="508.9" cy="1390.3" r="3.2" fill="#dcdcdc" stroke="#555" stroke-width="1.1"/>
<rect x="514.5" y="1360.98" width="3.8" height="29.32" fill="#efc3c8" stroke="#3f1c1f" stroke-width="1.3"/>
<line x1="516.4" y1="1363.95" x2="516.4" y2="1358.02" stroke="#1a0a0a" stroke-width="1.6" />
<line x1="514.6" y1="1358.02" x2="518.2" y2="1358.02" stroke="#1a0a0a" stroke-width="1.4" />
<circle cx="516.4" cy="1358.89" r="3.3" fill="#ef9aa1" stroke="#3f1c1f" stroke-width="1.3"/>
<circle cx="517.2" cy="1363.08" r="3.3" fill="#ef9aa1" stroke="#3f1c1f" stroke-width="1.3"/>
<line x1="531.28" y1="1392.8" x2="531.28" y2="1400.3" stroke="#555" stroke-width="1.4" />
<circle cx="527.68" cy="1390.3" r="3.2" fill="#dcdcdc" stroke="#555" stroke-width="1.1"/>
<rect x="533.28" y="1370.67" width="3.8" height="19.63" fill="#efc3c8" stroke="#3f1c1f" stroke-width="1.3"/>
<circle cx="535.18" cy="1369.36" r="3.3" fill="#ef9aa1" stroke="#3f1c1f" stroke-width="1.3"/>
<circle cx="535.98" cy="1371.98" r="3.3" fill="#ef9aa1" stroke="#3f1c1f" stroke-width="1.3"/>
<line x1="550.06" y1="1392.8" x2="550.06" y2="1400.3" stroke="#555" stroke-width="1.4" />
<circle cx="546.46" cy="1390.3" r="3.2" fill="#dcdcdc" stroke="#555" stroke-width="1.1"/>
<rect x="552.06" y="1365.96" width="3.8" height="24.34" fill="#efc3c8" stroke="#3f1c1f" stroke-width="1.3"/>
<circle cx="553.96" cy="1365.17" r="3.3" fill="#ef9aa1" stroke="#3f1c1f" stroke-width="1.3"/>
<circle cx="554.76" cy="1366.74" r="3.3" fill="#ef9aa1" stroke="#3f1c1f" stroke-width="1.3"/>
<line x1="568.84" y1="1392.8" x2="568.84" y2="1400.3" stroke="#555" stroke-width="1.4" />
<circle cx="565.24" cy="1390.3" r="3.2" fill="#dcdcdc" stroke="#555" stroke-width="1.1"/>
<rect x="570.84" y="1369.36" width="3.8" height="20.94" fill="#efc3c8" stroke="#3f1c1f" stroke-width="1.3"/>
<circle cx="572.74" cy="1368.84" r="3.3" fill="#ef9aa1" stroke="#3f1c1f" stroke-width="1.3"/>
<circle cx="573.54" cy="1369.88" r="3.3" fill="#ef9aa1" stroke="#3f1c1f" stroke-width="1.3"/>
<line x1="587.62" y1="1392.8" x2="587.62" y2="1400.3" stroke="#555" stroke-width="1.4" />
<circle cx="584.02" cy="1390.3" r="3.2" fill="#dcdcdc" stroke="#555" stroke-width="1.1"/>
<rect x="589.62" y="1345.8" width="3.8" height="44.5" fill="#efc3c8" stroke="#3f1c1f" stroke-width="1.3"/>
<line x1="591.52" y1="1348.94" x2="591.52" y2="1342.66" stroke="#1a0a0a" stroke-width="1.6" />
<line x1="589.72" y1="1342.66" x2="593.32" y2="1342.66" stroke="#1a0a0a" stroke-width="1.4" />
<circle cx="591.52" cy="1342.66" r="3.3" fill="#ef9aa1" stroke="#3f1c1f" stroke-width="1.3"/>
<circle cx="592.32" cy="1345.8" r="3.3" fill="#ef9aa1" stroke="#3f1c1f" stroke-width="1.3"/>
<circle cx="590.92" cy="1348.94" r="3.3" fill="#ef9aa1" stroke="#3f1c1f" stroke-width="1.3"/>
<line x1="606.4" y1="1392.8" x2="606.4" y2="1400.3" stroke="#555" stroke-width="1.4" />
<circle cx="602.8" cy="1390.3" r="3.2" fill="#dcdcdc" stroke="#555" stroke-width="1.1"/>
<rect x="608.4" y="1360.46" width="3.8" height="29.84" fill="#efc3c8" stroke="#3f1c1f" stroke-width="1.3"/>
<circle cx="610.3" cy="1358.89" r="3.3" fill="#ef9aa1" stroke="#3f1c1f" stroke-width="1.3"/>
<circle cx="611.1" cy="1362.03" r="3.3" fill="#ef9aa1" stroke="#3f1c1f" stroke-width="1.3"/>
<line x1="625.18" y1="1392.8" x2="625.18" y2="1400.3" stroke="#555" stroke-width="1.4" />
<circle cx="621.58" cy="1390.3" r="3.2" fill="#dcdcdc" stroke="#555" stroke-width="1.1"/>
<rect x="627.18" y="1349.47" width="3.8" height="40.83" fill="#efc3c8" stroke="#3f1c1f" stroke-width="1.3"/>
<circle cx="629.08" cy="1347.9" r="3.3" fill="#ef9aa1" stroke="#3f1c1f" stroke-width="1.3"/>
<circle cx="629.88" cy="1351.04" r="3.3" fill="#ef9aa1" stroke="#3f1c1f" stroke-width="1.3"/>
<line x1="643.96" y1="1392.8" x2="643.96" y2="1400.3" stroke="#555" stroke-width="1.4" />
<circle cx="640.36" cy="1390.3" r="3.2" fill="#dcdcdc" stroke="#555" stroke-width="1.1"/>
<rect x="645.96" y="1353.65" width="3.8" height="36.64" fill="#efc3c8" stroke="#3f1c1f" stroke-width="1.3"/>
<circle cx="647.86" cy="1352.08" r="3.3" fill="#ef9aa1" stroke="#3f1c1f" stroke-width="1.3"/>
<circle cx="648.66" cy="1355.23" r="3.3" fill="#ef9aa1" stroke="#3f1c1f" stroke-width="1.3"/>
<line x1="662.74" y1="1392.8" x2="662.74" y2="1400.3" stroke="#555" stroke-width="1.4" />
<circle cx="659.14" cy="1390.3" r="3.2" fill="#dcdcdc" stroke="#555" stroke-width="1.1"/>
<rect x="664.74" y="1235.17" width="3.8" height="155.13" fill="#efc3c8" stroke="#3f1c1f" stroke-width="1.3"/>
<line x1="666.64" y1="1243.18" x2="666.64" y2="1227.16" stroke="#1a0a0a" stroke-width="1.6" />
<line x1="664.84" y1="1227.16" x2="668.44" y2="1227.16" stroke="#1a0a0a" stroke-width="1.4" />
<circle cx="666.64" cy="1229.06" r="3.3" fill="#ef9aa1" stroke="#3f1c1f" stroke-width="1.3"/>
<circle cx="667.44" cy="1232.2" r="3.3" fill="#ef9aa1" stroke="#3f1c1f" stroke-width="1.3"/>
<circle cx="666.04" cy="1244.24" r="3.3" fill="#ef9aa1" stroke="#3f1c1f" stroke-width="1.3"/>
<line x1="681.52" y1="1392.8" x2="681.52" y2="1400.3" stroke="#555" stroke-width="1.4" />
<circle cx="677.92" cy="1390.3" r="3.2" fill="#dcdcdc" stroke="#555" stroke-width="1.1"/>
<rect x="683.52" y="1370.93" width="3.8" height="19.37" fill="#efc3c8" stroke="#3f1c1f" stroke-width="1.3"/>
<circle cx="685.42" cy="1370.41" r="3.3" fill="#ef9aa1" stroke="#3f1c1f" stroke-width="1.3"/>
<circle cx="686.22" cy="1371.45" r="3.3" fill="#ef9aa1" stroke="#3f1c1f" stroke-width="1.3"/>
<line x1="700.3" y1="1392.8" x2="700.3" y2="1400.3" stroke="#555" stroke-width="1.4" />
<circle cx="696.7" cy="1390.3" r="3.2" fill="#dcdcdc" stroke="#555" stroke-width="1.1"/>
<rect x="702.3" y="1358.1" width="3.8" height="32.2" fill="#efc3c8" stroke="#3f1c1f" stroke-width="1.3"/>
<circle cx="704.2" cy="1357.32" r="3.3" fill="#ef9aa1" stroke="#3f1c1f" stroke-width="1.3"/>
<circle cx="705" cy="1358.89" r="3.3" fill="#ef9aa1" stroke="#3f1c1f" stroke-width="1.3"/>
<line x1="719.08" y1="1392.8" x2="719.08" y2="1400.3" stroke="#555" stroke-width="1.4" />
<circle cx="715.48" cy="1390.3" r="3.2" fill="#dcdcdc" stroke="#555" stroke-width="1.1"/>
<rect x="721.08" y="1348.42" width="3.8" height="41.88" fill="#efc3c8" stroke="#3f1c1f" stroke-width="1.3"/>
<line x1="722.98" y1="1354.96" x2="722.98" y2="1341.88" stroke="#1a0a0a" stroke-width="1.6" />
<line x1="721.18" y1="1341.88" x2="724.78" y2="1341.88" stroke="#1a0a0a" stroke-width="1.4" />
<circle cx="722.98" cy="1343.18" r="3.3" fill="#ef9aa1" stroke="#3f1c1f" stroke-width="1.3"/>
<circle cx="723.78" cy="1346.33" r="3.3" fill="#ef9aa1" stroke="#3f1c1f" stroke-width="1.3"/>
<circle cx="722.38" cy="1355.75" r="3.3" fill="#ef9aa1" stroke="#3f1c1f" stroke-width="1.3"/>
<text x="68.8" y="1404.7" font-size="20.5" text-anchor="end" fill="#111" transform="rotate(-90 68.8 1404.7)">LTBR</text>
<text x="424.7" y="1404.7" font-size="20.5" text-anchor="end" fill="#111" transform="rotate(-90 424.7 1404.7)">LTBR</text>
<text x="87.6" y="1404.7" font-size="20.5" text-anchor="end" fill="#111" transform="rotate(-90 87.6 1404.7)">AHCY</text>
<text x="443.5" y="1404.7" font-size="20.5" text-anchor="end" fill="#111" transform="rotate(-90 443.5 1404.7)">AHCY</text>
<text x="106.4" y="1404.7" font-size="20.5" text-anchor="end" fill="#111" transform="rotate(-90 106.4 1404.7)">DUPD1</text>
<text x="462.3" y="1404.7" font-size="20.5" text-anchor="end" fill="#111" transform="rotate(-90 462.3 1404.7)">DUPD1</text>
<text x="125.2" y="1404.7" font-size="20.5" text-anchor="end" fill="#111" transform="rotate(-90 125.2 1404.7)">AKR1C4</text>
<text x="481.1" y="1404.7" font-size="20.5" text-anchor="end" fill="#111" transform="rotate(-90 481.1 1404.7)">AKR1C4</text>
<text x="144" y="1404.7" font-size="20.5" text-anchor="end" fill="#111" transform="rotate(-90 144 1404.7)">ATF6B</text>
<text x="499.9" y="1404.7" font-size="20.5" text-anchor="end" fill="#111" transform="rotate(-90 499.9 1404.7)">ATF6B</text>
<text x="162.8" y="1404.7" font-size="20.5" text-anchor="end" fill="#111" transform="rotate(-90 162.8 1404.7)">ITM2A</text>
<text x="518.7" y="1404.7" font-size="20.5" text-anchor="end" fill="#111" transform="rotate(-90 518.7 1404.7)">ITM2A</text>
<text x="181.6" y="1404.7" font-size="20.5" text-anchor="end" fill="#111" transform="rotate(-90 181.6 1404.7)">AHNAK</text>
<text x="537.5" y="1404.7" font-size="20.5" text-anchor="end" fill="#111" transform="rotate(-90 537.5 1404.7)">AHNAK</text>
<text x="200.4" y="1404.7" font-size="20.5" text-anchor="end" fill="#111" transform="rotate(-90 200.4 1404.7)">BATF</text>
<text x="556.3" y="1404.7" font-size="20.5" text-anchor="end" fill="#111" transform="rotate(-90 556.3 1404.7)">BATF</text>
<text x="219.2" y="1404.7" font-size="20.5" text-anchor="end" fill="#111" transform="rotate(-90 219.2 1404.7)">GPD1</text>
<text x="575.1" y="1404.7" font-size="20.5" text-anchor="end" fill="#111" transform="rotate(-90 575.1 1404.7)">GPD1</text>
<text x="238" y="1404.7" font-size="20.5" text-anchor="end" fill="#111" transform="rotate(-90 238 1404.7)">GPN3</text>
<text x="593.9" y="1404.7" font-size="20.5" text-anchor="end" fill="#111" transform="rotate(-90 593.9 1404.7)">GPN3</text>
<text x="256.8" y="1404.7" font-size="20.5" text-anchor="end" fill="#111" transform="rotate(-90 256.8 1404.7)">MRPL51</text>
<text x="612.7" y="1404.7" font-size="20.5" text-anchor="end" fill="#111" transform="rotate(-90 612.7 1404.7)">MRPL51</text>
<text x="275.6" y="1404.7" font-size="20.5" text-anchor="end" fill="#111" transform="rotate(-90 275.6 1404.7)">DBI</text>
<text x="631.5" y="1404.7" font-size="20.5" text-anchor="end" fill="#111" transform="rotate(-90 631.5 1404.7)">DBI</text>
<text x="294.4" y="1404.7" font-size="20.5" text-anchor="end" fill="#111" transform="rotate(-90 294.4 1404.7)">CALML3</text>
<text x="650.3" y="1404.7" font-size="20.5" text-anchor="end" fill="#111" transform="rotate(-90 650.3 1404.7)">CALML3</text>
<text x="313.2" y="1404.7" font-size="20.5" text-anchor="end" fill="#111" transform="rotate(-90 313.2 1404.7)">IL12B</text>
<text x="669.1" y="1404.7" font-size="20.5" text-anchor="end" fill="#111" transform="rotate(-90 669.1 1404.7)">IL12B</text>
<text x="332" y="1404.7" font-size="20.5" text-anchor="end" fill="#111" transform="rotate(-90 332 1404.7)">IFNL2</text>
<text x="687.9" y="1404.7" font-size="20.5" text-anchor="end" fill="#111" transform="rotate(-90 687.9 1404.7)">IFNL2</text>
<text x="350.8" y="1404.7" font-size="20.5" text-anchor="end" fill="#111" transform="rotate(-90 350.8 1404.7)">ADA</text>
<text x="706.7" y="1404.7" font-size="20.5" text-anchor="end" fill="#111" transform="rotate(-90 706.7 1404.7)">ADA</text>
<text x="369.6" y="1404.7" font-size="20.5" text-anchor="end" fill="#111" transform="rotate(-90 369.6 1404.7)">tNGFR</text>
<text x="725.5" y="1404.7" font-size="20.5" text-anchor="end" fill="#111" transform="rotate(-90 725.5 1404.7)">tNGFR</text>
<line x1="48.6" y1="1492.2" x2="363.6" y2="1492.2" stroke="#555" stroke-width="1.5" />
<line x1="408" y1="1492.3" x2="722" y2="1492.3" stroke="#555" stroke-width="1.5" />
<text x="210.4" y="1517.2" font-size="20.5" text-anchor="middle" fill="#111">CD8+</text>
<text x="567.6" y="1516.4" font-size="20.5" text-anchor="middle" fill="#111">CD4+</text>
<text x="397.3" y="1561" font-size="24" text-anchor="middle" fill="#111">ORF gene</text>
<text x="19.6" y="1056" font-size="21.3" text-anchor="middle" fill="#111" transform="rotate(-90 19.6 1056)">IL2 (ng/ml)</text>
<text x="20.8" y="1285.4" font-size="21.3" text-anchor="middle" fill="#111" transform="rotate(-90 20.8 1285.4)">IFNγ (ng/ml)</text>
<circle cx="641.9" cy="975.4" r="3.6" fill="#dcdcdc" stroke="#555" stroke-width="1.1"/>
<circle cx="641.9" cy="1005" r="3.6" fill="#ef9aa1" stroke="#3f1c1f" stroke-width="1.1"/>
<text x="655.5" y="981.2" font-size="20" text-anchor="start" fill="#111">Resting</text>
<text x="655.5" y="1011.2" font-size="20" text-anchor="start" fill="#111">+CD3/CD28</text>
</g>
<g id="panel-e">
<text transform="translate(831.5 929.6) scale(1.19 1)" x="0" y="0" font-size="30" font-weight="bold" fill="#000" style="stroke:#000;stroke-width:1.3px">e</text>
<rect x="907.7" y="965.9" width="69" height="20.68" fill="#c4e7f6" stroke="none" stroke-width="1"/>
<rect x="976.7" y="965.9" width="69" height="20.68" fill="#1a98d4" stroke="none" stroke-width="1"/>
<rect x="1045.7" y="965.9" width="69" height="20.68" fill="#f2d2d3" stroke="none" stroke-width="1"/>
<rect x="1114.7" y="965.9" width="69" height="20.68" fill="#d77877" stroke="none" stroke-width="1"/>
<rect x="1183.7" y="965.9" width="69" height="20.68" fill="#7fcbea" stroke="none" stroke-width="1"/>
<rect x="1252.7" y="965.9" width="69" height="20.68" fill="#fdf2f2" stroke="none" stroke-width="1"/>
<rect x="1321.7" y="965.9" width="69" height="20.68" fill="#8ccfeb" stroke="none" stroke-width="1"/>
<rect x="1390.7" y="965.9" width="69" height="20.68" fill="#b0e0f3" stroke="none" stroke-width="1"/>
<rect x="1459.7" y="965.9" width="69" height="20.68" fill="#ffffff" stroke="none" stroke-width="1"/>
<rect x="907.7" y="986.58" width="69" height="20.68" fill="#ffffff" stroke="none" stroke-width="1"/>
<rect x="976.7" y="986.58" width="69" height="20.68" fill="#b9262a" stroke="none" stroke-width="1"/>
<rect x="1045.7" y="986.58" width="69" height="20.68" fill="#ffffff" stroke="none" stroke-width="1"/>
<rect x="1114.7" y="986.58" width="69" height="20.68" fill="#ffffff" stroke="none" stroke-width="1"/>
<rect x="1183.7" y="986.58" width="69" height="20.68" fill="#ffffff" stroke="none" stroke-width="1"/>
<rect x="1252.7" y="986.58" width="69" height="20.68" fill="#ffffff" stroke="none" stroke-width="1"/>
<rect x="1321.7" y="986.58" width="69" height="20.68" fill="#ffffff" stroke="none" stroke-width="1"/>
<rect x="1390.7" y="986.58" width="69" height="20.68" fill="#ffffff" stroke="none" stroke-width="1"/>
<rect x="1459.7" y="986.58" width="69" height="20.68" fill="#ffffff" stroke="none" stroke-width="1"/>
<rect x="907.7" y="1007.26" width="69" height="20.68" fill="#c8494c" stroke="none" stroke-width="1"/>
<rect x="976.7" y="1007.26" width="69" height="20.68" fill="#f8e6e6" stroke="none" stroke-width="1"/>
<rect x="1045.7" y="1007.26" width="69" height="20.68" fill="#e5a5a6" stroke="none" stroke-width="1"/>
<rect x="1114.7" y="1007.26" width="69" height="20.68" fill="#e29d9e" stroke="none" stroke-width="1"/>
<rect x="1183.7" y="1007.26" width="69" height="20.68" fill="#ffffff" stroke="none" stroke-width="1"/>
<rect x="1252.7" y="1007.26" width="69" height="20.68" fill="#eabcbd" stroke="none" stroke-width="1"/>
<rect x="1321.7" y="1007.26" width="69" height="20.68" fill="#faecec" stroke="none" stroke-width="1"/>
<rect x="1390.7" y="1007.26" width="69" height="20.68" fill="#f1d2d3" stroke="none" stroke-width="1"/>
<rect x="1459.7" y="1007.26" width="69" height="20.68" fill="#ffffff" stroke="none" stroke-width="1"/>
<rect x="907.7" y="1027.94" width="69" height="20.68" fill="#c64045" stroke="none" stroke-width="1"/>
<rect x="976.7" y="1027.94" width="69" height="20.68" fill="#ffffff" stroke="none" stroke-width="1"/>
<rect x="1045.7" y="1027.94" width="69" height="20.68" fill="#f5dcdc" stroke="none" stroke-width="1"/>
<rect x="1114.7" y="1027.94" width="69" height="20.68" fill="#f6dfdf" stroke="none" stroke-width="1"/>
<rect x="1183.7" y="1027.94" width="69" height="20.68" fill="#f4dcdc" stroke="none" stroke-width="1"/>
<rect x="1252.7" y="1027.94" width="69" height="20.68" fill="#f4dcdc" stroke="none" stroke-width="1"/>
<rect x="1321.7" y="1027.94" width="69" height="20.68" fill="#fefafa" stroke="none" stroke-width="1"/>
<rect x="1390.7" y="1027.94" width="69" height="20.68" fill="#fbf0f0" stroke="none" stroke-width="1"/>
<rect x="1459.7" y="1027.94" width="69" height="20.68" fill="#ffffff" stroke="none" stroke-width="1"/>
<rect x="907.7" y="1048.62" width="69" height="20.68" fill="#c12e33" stroke="none" stroke-width="1"/>
<rect x="976.7" y="1048.62" width="69" height="20.68" fill="#f3d6d6" stroke="none" stroke-width="1"/>
<rect x="1045.7" y="1048.62" width="69" height="20.68" fill="#f8e4e4" stroke="none" stroke-width="1"/>
<rect x="1114.7" y="1048.62" width="69" height="20.68" fill="#eebfc1" stroke="none" stroke-width="1"/>
<rect x="1183.7" y="1048.62" width="69" height="20.68" fill="#f2d4d4" stroke="none" stroke-width="1"/>
<rect x="1252.7" y="1048.62" width="69" height="20.68" fill="#f4d9d9" stroke="none" stroke-width="1"/>
<rect x="1321.7" y="1048.62" width="69" height="20.68" fill="#f4d9d9" stroke="none" stroke-width="1"/>
<rect x="1390.7" y="1048.62" width="69" height="20.68" fill="#f3d5d5" stroke="none" stroke-width="1"/>
<rect x="1459.7" y="1048.62" width="69" height="20.68" fill="#ffffff" stroke="none" stroke-width="1"/>
<rect x="907.7" y="1069.3" width="69" height="20.68" fill="#d46a6c" stroke="none" stroke-width="1"/>
<rect x="976.7" y="1069.3" width="69" height="20.68" fill="#c85658" stroke="none" stroke-width="1"/>
<rect x="1045.7" y="1069.3" width="69" height="20.68" fill="#f4dcdc" stroke="none" stroke-width="1"/>
<rect x="1114.7" y="1069.3" width="69" height="20.68" fill="#fbeeee" stroke="none" stroke-width="1"/>
<rect x="1183.7" y="1069.3" width="69" height="20.68" fill="#fdf7f7" stroke="none" stroke-width="1"/>
<rect x="1252.7" y="1069.3" width="69" height="20.68" fill="#ffffff" stroke="none" stroke-width="1"/>
<rect x="1321.7" y="1069.3" width="69" height="20.68" fill="#ffffff" stroke="none" stroke-width="1"/>
<rect x="1390.7" y="1069.3" width="69" height="20.68" fill="#ffffff" stroke="none" stroke-width="1"/>
<rect x="1459.7" y="1069.3" width="69" height="20.68" fill="#ffffff" stroke="none" stroke-width="1"/>
<rect x="907.7" y="1089.98" width="69" height="20.68" fill="#e3999b" stroke="none" stroke-width="1"/>
<rect x="976.7" y="1089.98" width="69" height="20.68" fill="#edbcbd" stroke="none" stroke-width="1"/>
<rect x="1045.7" y="1089.98" width="69" height="20.68" fill="#fcf9f9" stroke="none" stroke-width="1"/>
<rect x="1114.7" y="1089.98" width="69" height="20.68" fill="#ffffff" stroke="none" stroke-width="1"/>
<rect x="1183.7" y="1089.98" width="69" height="20.68" fill="#ffffff" stroke="none" stroke-width="1"/>
<rect x="1252.7" y="1089.98" width="69" height="20.68" fill="#fefcfc" stroke="none" stroke-width="1"/>
<rect x="1321.7" y="1089.98" width="69" height="20.68" fill="#f6dede" stroke="none" stroke-width="1"/>
<rect x="1390.7" y="1089.98" width="69" height="20.68" fill="#ffffff" stroke="none" stroke-width="1"/>
<rect x="1459.7" y="1089.98" width="69" height="20.68" fill="#ffffff" stroke="none" stroke-width="1"/>
<rect x="907.7" y="1110.66" width="69" height="20.68" fill="#c84a4c" stroke="none" stroke-width="1"/>
<rect x="976.7" y="1110.66" width="69" height="20.68" fill="#f6e0e0" stroke="none" stroke-width="1"/>
<rect x="1045.7" y="1110.66" width="69" height="20.68" fill="#f2f9fc" stroke="none" stroke-width="1"/>
<rect x="1114.7" y="1110.66" width="69" height="20.68" fill="#e4f4fb" stroke="none" stroke-width="1"/>
<rect x="1183.7" y="1110.66" width="69" height="20.68" fill="#dcf0f9" stroke="none" stroke-width="1"/>
<rect x="1252.7" y="1110.66" width="69" height="20.68" fill="#f2f9fc" stroke="none" stroke-width="1"/>
<rect x="1321.7" y="1110.66" width="69" height="20.68" fill="#e8f6fc" stroke="none" stroke-width="1"/>
<rect x="1390.7" y="1110.66" width="69" height="20.68" fill="#e0f2fa" stroke="none" stroke-width="1"/>
<rect x="1459.7" y="1110.66" width="69" height="20.68" fill="#ffffff" stroke="none" stroke-width="1"/>
<rect x="907.7" y="1131.34" width="69" height="20.68" fill="#c94c4f" stroke="none" stroke-width="1"/>
<rect x="976.7" y="1131.34" width="69" height="20.68" fill="#efc5c6" stroke="none" stroke-width="1"/>
<rect x="1045.7" y="1131.34" width="69" height="20.68" fill="#d5edf8" stroke="none" stroke-width="1"/>
<rect x="1114.7" y="1131.34" width="69" height="20.68" fill="#dff2fa" stroke="none" stroke-width="1"/>
<rect x="1183.7" y="1131.34" width="69" height="20.68" fill="#eef8fc" stroke="none" stroke-width="1"/>
<rect x="1252.7" y="1131.34" width="69" height="20.68" fill="#cbe9f6" stroke="none" stroke-width="1"/>
<rect x="1321.7" y="1131.34" width="69" height="20.68" fill="#f4fafd" stroke="none" stroke-width="1"/>
<rect x="1390.7" y="1131.34" width="69" height="20.68" fill="#cde9f6" stroke="none" stroke-width="1"/>
<rect x="1459.7" y="1131.34" width="69" height="20.68" fill="#ffffff" stroke="none" stroke-width="1"/>
<rect x="907.7" y="1152.02" width="69" height="20.68" fill="#dc8d8f" stroke="none" stroke-width="1"/>
<rect x="976.7" y="1152.02" width="69" height="20.68" fill="#eec0c1" stroke="none" stroke-width="1"/>
<rect x="1045.7" y="1152.02" width="69" height="20.68" fill="#e6f5fc" stroke="none" stroke-width="1"/>
<rect x="1114.7" y="1152.02" width="69" height="20.68" fill="#4db9e4" stroke="none" stroke-width="1"/>
<rect x="1183.7" y="1152.02" width="69" height="20.68" fill="#1e9ad6" stroke="none" stroke-width="1"/>
<rect x="1252.7" y="1152.02" width="69" height="20.68" fill="#8fd2ee" stroke="none" stroke-width="1"/>
<rect x="1321.7" y="1152.02" width="69" height="20.68" fill="#7ecbea" stroke="none" stroke-width="1"/>
<rect x="1390.7" y="1152.02" width="69" height="20.68" fill="#6ec5e9" stroke="none" stroke-width="1"/>
<rect x="1459.7" y="1152.02" width="69" height="20.68" fill="#ffffff" stroke="none" stroke-width="1"/>
<rect x="907.7" y="1172.7" width="69" height="20.68" fill="#ecbfc0" stroke="none" stroke-width="1"/>
<rect x="976.7" y="1172.7" width="69" height="20.68" fill="#e19fa1" stroke="none" stroke-width="1"/>
<rect x="1045.7" y="1172.7" width="69" height="20.68" fill="#f2cece" stroke="none" stroke-width="1"/>
<rect x="1114.7" y="1172.7" width="69" height="20.68" fill="#a3dbf2" stroke="none" stroke-width="1"/>
<rect x="1183.7" y="1172.7" width="69" height="20.68" fill="#a1d9f1" stroke="none" stroke-width="1"/>
<rect x="1252.7" y="1172.7" width="69" height="20.68" fill="#a3dbf2" stroke="none" stroke-width="1"/>
<rect x="1321.7" y="1172.7" width="69" height="20.68" fill="#a1d9f1" stroke="none" stroke-width="1"/>
<rect x="1390.7" y="1172.7" width="69" height="20.68" fill="#a1d9f1" stroke="none" stroke-width="1"/>
<rect x="1459.7" y="1172.7" width="69" height="20.68" fill="#ffffff" stroke="none" stroke-width="1"/>
<rect x="907.7" y="1193.38" width="69" height="20.68" fill="#c94c4e" stroke="none" stroke-width="1"/>
<rect x="976.7" y="1193.38" width="69" height="20.68" fill="#a9dcf2" stroke="none" stroke-width="1"/>
<rect x="1045.7" y="1193.38" width="69" height="20.68" fill="#fae8e8" stroke="none" stroke-width="1"/>
<rect x="1114.7" y="1193.38" width="69" height="20.68" fill="#f4d2d2" stroke="none" stroke-width="1"/>
<rect x="1183.7" y="1193.38" width="69" height="20.68" fill="#ffffff" stroke="none" stroke-width="1"/>
<rect x="1252.7" y="1193.38" width="69" height="20.68" fill="#ffffff" stroke="none" stroke-width="1"/>
<rect x="1321.7" y="1193.38" width="69" height="20.68" fill="#ffffff" stroke="none" stroke-width="1"/>
<rect x="1390.7" y="1193.38" width="69" height="20.68" fill="#f5fbfd" stroke="none" stroke-width="1"/>
<rect x="1459.7" y="1193.38" width="69" height="20.68" fill="#ffffff" stroke="none" stroke-width="1"/>
<rect x="907.7" y="1214.06" width="69" height="20.68" fill="#c94a4d" stroke="none" stroke-width="1"/>
<rect x="976.7" y="1214.06" width="69" height="20.68" fill="#d2ecf8" stroke="none" stroke-width="1"/>
<rect x="1045.7" y="1214.06" width="69" height="20.68" fill="#fefafa" stroke="none" stroke-width="1"/>
<rect x="1114.7" y="1214.06" width="69" height="20.68" fill="#fdf3f1" stroke="none" stroke-width="1"/>
<rect x="1183.7" y="1214.06" width="69" height="20.68" fill="#dcf0f9" stroke="none" stroke-width="1"/>
<rect x="1252.7" y="1214.06" width="69" height="20.68" fill="#ffffff" stroke="none" stroke-width="1"/>
<rect x="1321.7" y="1214.06" width="69" height="20.68" fill="#ffffff" stroke="none" stroke-width="1"/>
<rect x="1390.7" y="1214.06" width="69" height="20.68" fill="#dff2fa" stroke="none" stroke-width="1"/>
<rect x="1459.7" y="1214.06" width="69" height="20.68" fill="#ffffff" stroke="none" stroke-width="1"/>
<rect x="907.7" y="1234.74" width="69" height="20.68" fill="#cd5c5e" stroke="none" stroke-width="1"/>
<rect x="976.7" y="1234.74" width="69" height="20.68" fill="#ffffff" stroke="none" stroke-width="1"/>
<rect x="1045.7" y="1234.74" width="69" height="20.68" fill="#ffffff" stroke="none" stroke-width="1"/>
<rect x="1114.7" y="1234.74" width="69" height="20.68" fill="#ffffff" stroke="none" stroke-width="1"/>
<rect x="1183.7" y="1234.74" width="69" height="20.68" fill="#ffffff" stroke="none" stroke-width="1"/>
<rect x="1252.7" y="1234.74" width="69" height="20.68" fill="#ffffff" stroke="none" stroke-width="1"/>
<rect x="1321.7" y="1234.74" width="69" height="20.68" fill="#ffffff" stroke="none" stroke-width="1"/>
<rect x="1390.7" y="1234.74" width="69" height="20.68" fill="#ffffff" stroke="none" stroke-width="1"/>
<rect x="1459.7" y="1234.74" width="69" height="20.68" fill="#ffffff" stroke="none" stroke-width="1"/>
<rect x="907.7" y="1255.42" width="69" height="20.68" fill="#c84446" stroke="none" stroke-width="1"/>
<rect x="976.7" y="1255.42" width="69" height="20.68" fill="#ffffff" stroke="none" stroke-width="1"/>
<rect x="1045.7" y="1255.42" width="69" height="20.68" fill="#ffffff" stroke="none" stroke-width="1"/>
<rect x="1114.7" y="1255.42" width="69" height="20.68" fill="#ffffff" stroke="none" stroke-width="1"/>
<rect x="1183.7" y="1255.42" width="69" height="20.68" fill="#ffffff" stroke="none" stroke-width="1"/>
<rect x="1252.7" y="1255.42" width="69" height="20.68" fill="#ffffff" stroke="none" stroke-width="1"/>
<rect x="1321.7" y="1255.42" width="69" height="20.68" fill="#ffffff" stroke="none" stroke-width="1"/>
<rect x="1390.7" y="1255.42" width="69" height="20.68" fill="#ffffff" stroke="none" stroke-width="1"/>
<rect x="1459.7" y="1255.42" width="69" height="20.68" fill="#ffffff" stroke="none" stroke-width="1"/>
<rect x="907.7" y="1276.1" width="69" height="20.68" fill="#c84346" stroke="none" stroke-width="1"/>
<rect x="976.7" y="1276.1" width="69" height="20.68" fill="#ffffff" stroke="none" stroke-width="1"/>
<rect x="1045.7" y="1276.1" width="69" height="20.68" fill="#fdf6f5" stroke="none" stroke-width="1"/>
<rect x="1114.7" y="1276.1" width="69" height="20.68" fill="#ffffff" stroke="none" stroke-width="1"/>
<rect x="1183.7" y="1276.1" width="69" height="20.68" fill="#ffffff" stroke="none" stroke-width="1"/>
<rect x="1252.7" y="1276.1" width="69" height="20.68" fill="#fefafa" stroke="none" stroke-width="1"/>
<rect x="1321.7" y="1276.1" width="69" height="20.68" fill="#ffffff" stroke="none" stroke-width="1"/>
<rect x="1390.7" y="1276.1" width="69" height="20.68" fill="#fdf6f4" stroke="none" stroke-width="1"/>
<rect x="1459.7" y="1276.1" width="69" height="20.68" fill="#ffffff" stroke="none" stroke-width="1"/>
<rect x="907.7" y="1296.78" width="69" height="20.68" fill="#c64042" stroke="none" stroke-width="1"/>
<rect x="976.7" y="1296.78" width="69" height="20.68" fill="#ffffff" stroke="none" stroke-width="1"/>
<rect x="1045.7" y="1296.78" width="69" height="20.68" fill="#ffffff" stroke="none" stroke-width="1"/>
<rect x="1114.7" y="1296.78" width="69" height="20.68" fill="#ffffff" stroke="none" stroke-width="1"/>
<rect x="1183.7" y="1296.78" width="69" height="20.68" fill="#ffffff" stroke="none" stroke-width="1"/>
<rect x="1252.7" y="1296.78" width="69" height="20.68" fill="#ffffff" stroke="none" stroke-width="1"/>
<rect x="1321.7" y="1296.78" width="69" height="20.68" fill="#ffffff" stroke="none" stroke-width="1"/>
<rect x="1390.7" y="1296.78" width="69" height="20.68" fill="#ffffff" stroke="none" stroke-width="1"/>
<rect x="1459.7" y="1296.78" width="69" height="20.68" fill="#ffffff" stroke="none" stroke-width="1"/>
<rect x="907.7" y="1317.46" width="69" height="20.68" fill="#c64042" stroke="none" stroke-width="1"/>
<rect x="976.7" y="1317.46" width="69" height="20.68" fill="#ffffff" stroke="none" stroke-width="1"/>
<rect x="1045.7" y="1317.46" width="69" height="20.68" fill="#ffffff" stroke="none" stroke-width="1"/>
<rect x="1114.7" y="1317.46" width="69" height="20.68" fill="#ffffff" stroke="none" stroke-width="1"/>
<rect x="1183.7" y="1317.46" width="69" height="20.68" fill="#ffffff" stroke="none" stroke-width="1"/>
<rect x="1252.7" y="1317.46" width="69" height="20.68" fill="#ffffff" stroke="none" stroke-width="1"/>
<rect x="1321.7" y="1317.46" width="69" height="20.68" fill="#ffffff" stroke="none" stroke-width="1"/>
<rect x="1390.7" y="1317.46" width="69" height="20.68" fill="#ffffff" stroke="none" stroke-width="1"/>
<rect x="1459.7" y="1317.46" width="69" height="20.68" fill="#ffffff" stroke="none" stroke-width="1"/>
<rect x="907.7" y="1338.14" width="69" height="20.68" fill="#c64042" stroke="none" stroke-width="1"/>
<rect x="976.7" y="1338.14" width="69" height="20.68" fill="#ffffff" stroke="none" stroke-width="1"/>
<rect x="1045.7" y="1338.14" width="69" height="20.68" fill="#ffffff" stroke="none" stroke-width="1"/>
<rect x="1114.7" y="1338.14" width="69" height="20.68" fill="#ffffff" stroke="none" stroke-width="1"/>
<rect x="1183.7" y="1338.14" width="69" height="20.68" fill="#ffffff" stroke="none" stroke-width="1"/>
<rect x="1252.7" y="1338.14" width="69" height="20.68" fill="#ffffff" stroke="none" stroke-width="1"/>
<rect x="1321.7" y="1338.14" width="69" height="20.68" fill="#ffffff" stroke="none" stroke-width="1"/>
<rect x="1390.7" y="1338.14" width="69" height="20.68" fill="#ffffff" stroke="none" stroke-width="1"/>
<rect x="1459.7" y="1338.14" width="69" height="20.68" fill="#ffffff" stroke="none" stroke-width="1"/>
<rect x="907.7" y="1358.82" width="69" height="20.68" fill="#c64042" stroke="none" stroke-width="1"/>
<rect x="976.7" y="1358.82" width="69" height="20.68" fill="#ffffff" stroke="none" stroke-width="1"/>
<rect x="1045.7" y="1358.82" width="69" height="20.68" fill="#ffffff" stroke="none" stroke-width="1"/>
<rect x="1114.7" y="1358.82" width="69" height="20.68" fill="#ffffff" stroke="none" stroke-width="1"/>
<rect x="1183.7" y="1358.82" width="69" height="20.68" fill="#ffffff" stroke="none" stroke-width="1"/>
<rect x="1252.7" y="1358.82" width="69" height="20.68" fill="#ffffff" stroke="none" stroke-width="1"/>
<rect x="1321.7" y="1358.82" width="69" height="20.68" fill="#ffffff" stroke="none" stroke-width="1"/>
<rect x="1390.7" y="1358.82" width="69" height="20.68" fill="#ffffff" stroke="none" stroke-width="1"/>
<rect x="1459.7" y="1358.82" width="69" height="20.68" fill="#ffffff" stroke="none" stroke-width="1"/>
<rect x="907.7" y="1379.5" width="69" height="20.68" fill="#c64042" stroke="none" stroke-width="1"/>
<rect x="976.7" y="1379.5" width="69" height="20.68" fill="#ffffff" stroke="none" stroke-width="1"/>
<rect x="1045.7" y="1379.5" width="69" height="20.68" fill="#ffffff" stroke="none" stroke-width="1"/>
<rect x="1114.7" y="1379.5" width="69" height="20.68" fill="#ffffff" stroke="none" stroke-width="1"/>
<rect x="1183.7" y="1379.5" width="69" height="20.68" fill="#ffffff" stroke="none" stroke-width="1"/>
<rect x="1252.7" y="1379.5" width="69" height="20.68" fill="#ffffff" stroke="none" stroke-width="1"/>
<rect x="1321.7" y="1379.5" width="69" height="20.68" fill="#ffffff" stroke="none" stroke-width="1"/>
<rect x="1390.7" y="1379.5" width="69" height="20.68" fill="#ffffff" stroke="none" stroke-width="1"/>
<rect x="1459.7" y="1379.5" width="69" height="20.68" fill="#ffffff" stroke="none" stroke-width="1"/>
<rect x="907.7" y="1400.18" width="69" height="20.68" fill="#c64244" stroke="none" stroke-width="1"/>
<rect x="976.7" y="1400.18" width="69" height="20.68" fill="#ffffff" stroke="none" stroke-width="1"/>
<rect x="1045.7" y="1400.18" width="69" height="20.68" fill="#ffffff" stroke="none" stroke-width="1"/>
<rect x="1114.7" y="1400.18" width="69" height="20.68" fill="#ffffff" stroke="none" stroke-width="1"/>
<rect x="1183.7" y="1400.18" width="69" height="20.68" fill="#ffffff" stroke="none" stroke-width="1"/>
<rect x="1252.7" y="1400.18" width="69" height="20.68" fill="#ffffff" stroke="none" stroke-width="1"/>
<rect x="1321.7" y="1400.18" width="69" height="20.68" fill="#ffffff" stroke="none" stroke-width="1"/>
<rect x="1390.7" y="1400.18" width="69" height="20.68" fill="#ffffff" stroke="none" stroke-width="1"/>
<rect x="1459.7" y="1400.18" width="69" height="20.68" fill="#ffffff" stroke="none" stroke-width="1"/>
<rect x="907.7" y="1420.86" width="69" height="20.68" fill="#d06a6c" stroke="none" stroke-width="1"/>
<rect x="976.7" y="1420.86" width="69" height="20.68" fill="#8fd3ee" stroke="none" stroke-width="1"/>
<rect x="1045.7" y="1420.86" width="69" height="20.68" fill="#edf8fc" stroke="none" stroke-width="1"/>
<rect x="1114.7" y="1420.86" width="69" height="20.68" fill="#bde5f6" stroke="none" stroke-width="1"/>
<rect x="1183.7" y="1420.86" width="69" height="20.68" fill="#a9dcf2" stroke="none" stroke-width="1"/>
<rect x="1252.7" y="1420.86" width="69" height="20.68" fill="#d9eff9" stroke="none" stroke-width="1"/>
<rect x="1321.7" y="1420.86" width="69" height="20.68" fill="#9dd8f1" stroke="none" stroke-width="1"/>
<rect x="1390.7" y="1420.86" width="69" height="20.68" fill="#86cfee" stroke="none" stroke-width="1"/>
<rect x="1459.7" y="1420.86" width="69" height="20.68" fill="#ffffff" stroke="none" stroke-width="1"/>
<rect x="907.7" y="1441.54" width="69" height="20.68" fill="#d47476" stroke="none" stroke-width="1"/>
<rect x="976.7" y="1441.54" width="69" height="20.68" fill="#7ecbea" stroke="none" stroke-width="1"/>
<rect x="1045.7" y="1441.54" width="69" height="20.68" fill="#ebbabb" stroke="none" stroke-width="1"/>
<rect x="1114.7" y="1441.54" width="69" height="20.68" fill="#fcecef" stroke="none" stroke-width="1"/>
<rect x="1183.7" y="1441.54" width="69" height="20.68" fill="#5dc0e7" stroke="none" stroke-width="1"/>
<rect x="1252.7" y="1441.54" width="69" height="20.68" fill="#f2fafd" stroke="none" stroke-width="1"/>
<rect x="1321.7" y="1441.54" width="69" height="20.68" fill="#f0f9fd" stroke="none" stroke-width="1"/>
<rect x="1390.7" y="1441.54" width="69" height="20.68" fill="#d6eef9" stroke="none" stroke-width="1"/>
<rect x="1459.7" y="1441.54" width="69" height="20.68" fill="#ffffff" stroke="none" stroke-width="1"/>
<line x1="907.7" y1="965.9" x2="1528.7" y2="965.9" stroke="#7c7c7c" stroke-width="1.0" />
<line x1="907.7" y1="986.58" x2="1528.7" y2="986.58" stroke="#7c7c7c" stroke-width="1.0" />
<line x1="907.7" y1="1007.26" x2="1528.7" y2="1007.26" stroke="#7c7c7c" stroke-width="1.0" />
<line x1="907.7" y1="1027.94" x2="1528.7" y2="1027.94" stroke="#7c7c7c" stroke-width="1.0" />
<line x1="907.7" y1="1048.62" x2="1528.7" y2="1048.62" stroke="#7c7c7c" stroke-width="1.0" />
<line x1="907.7" y1="1069.3" x2="1528.7" y2="1069.3" stroke="#7c7c7c" stroke-width="1.0" />
<line x1="907.7" y1="1089.98" x2="1528.7" y2="1089.98" stroke="#7c7c7c" stroke-width="1.0" />
<line x1="907.7" y1="1110.66" x2="1528.7" y2="1110.66" stroke="#7c7c7c" stroke-width="1.0" />
<line x1="907.7" y1="1131.34" x2="1528.7" y2="1131.34" stroke="#7c7c7c" stroke-width="1.0" />
<line x1="907.7" y1="1152.02" x2="1528.7" y2="1152.02" stroke="#7c7c7c" stroke-width="1.0" />
<line x1="907.7" y1="1172.7" x2="1528.7" y2="1172.7" stroke="#7c7c7c" stroke-width="1.0" />
<line x1="907.7" y1="1193.38" x2="1528.7" y2="1193.38" stroke="#7c7c7c" stroke-width="1.0" />
<line x1="907.7" y1="1214.06" x2="1528.7" y2="1214.06" stroke="#7c7c7c" stroke-width="1.0" />
<line x1="907.7" y1="1234.74" x2="1528.7" y2="1234.74" stroke="#7c7c7c" stroke-width="1.0" />
<line x1="907.7" y1="1255.42" x2="1528.7" y2="1255.42" stroke="#7c7c7c" stroke-width="1.0" />
<line x1="907.7" y1="1276.1" x2="1528.7" y2="1276.1" stroke="#7c7c7c" stroke-width="1.0" />
<line x1="907.7" y1="1296.78" x2="1528.7" y2="1296.78" stroke="#7c7c7c" stroke-width="1.0" />
<line x1="907.7" y1="1317.46" x2="1528.7" y2="1317.46" stroke="#7c7c7c" stroke-width="1.0" />
<line x1="907.7" y1="1338.14" x2="1528.7" y2="1338.14" stroke="#7c7c7c" stroke-width="1.0" />
<line x1="907.7" y1="1358.82" x2="1528.7" y2="1358.82" stroke="#7c7c7c" stroke-width="1.0" />
<line x1="907.7" y1="1379.5" x2="1528.7" y2="1379.5" stroke="#7c7c7c" stroke-width="1.0" />
<line x1="907.7" y1="1400.18" x2="1528.7" y2="1400.18" stroke="#7c7c7c" stroke-width="1.0" />
<line x1="907.7" y1="1420.86" x2="1528.7" y2="1420.86" stroke="#7c7c7c" stroke-width="1.0" />
<line x1="907.7" y1="1441.54" x2="1528.7" y2="1441.54" stroke="#7c7c7c" stroke-width="1.0" />
<line x1="907.7" y1="1462.22" x2="1528.7" y2="1462.22" stroke="#7c7c7c" stroke-width="1.0" />
<line x1="907.7" y1="965.9" x2="907.7" y2="1462.22" stroke="#7c7c7c" stroke-width="1.0" />
<line x1="976.7" y1="965.9" x2="976.7" y2="1462.22" stroke="#7c7c7c" stroke-width="1.0" />
<line x1="1045.7" y1="965.9" x2="1045.7" y2="1462.22" stroke="#7c7c7c" stroke-width="1.0" />
<line x1="1114.7" y1="965.9" x2="1114.7" y2="1462.22" stroke="#7c7c7c" stroke-width="1.0" />
<line x1="1183.7" y1="965.9" x2="1183.7" y2="1462.22" stroke="#7c7c7c" stroke-width="1.0" />
<line x1="1252.7" y1="965.9" x2="1252.7" y2="1462.22" stroke="#7c7c7c" stroke-width="1.0" />
<line x1="1321.7" y1="965.9" x2="1321.7" y2="1462.22" stroke="#7c7c7c" stroke-width="1.0" />
<line x1="1390.7" y1="965.9" x2="1390.7" y2="1462.22" stroke="#7c7c7c" stroke-width="1.0" />
<line x1="1459.7" y1="965.9" x2="1459.7" y2="1462.22" stroke="#7c7c7c" stroke-width="1.0" />
<line x1="1528.7" y1="965.9" x2="1528.7" y2="1462.22" stroke="#7c7c7c" stroke-width="1.0" />
<text x="1536" y="983.84" font-size="20.8" text-anchor="start" fill="#111">VEGF-A</text>
<text x="1536" y="1004.52" font-size="20.8" text-anchor="start" fill="#111">IL12-p40</text>
<text x="1536" y="1025.2" font-size="20.8" text-anchor="start" fill="#111">GM-CSF</text>
<text x="1536" y="1045.88" font-size="20.8" text-anchor="start" fill="#111">MCP-3</text>
<text x="1536" y="1066.56" font-size="20.8" text-anchor="start" fill="#111">CXCL9</text>
<text x="1536" y="1087.24" font-size="20.8" text-anchor="start" fill="#111">IFNγ</text>
<text x="1536" y="1107.92" font-size="20.8" text-anchor="start" fill="#111">MIP-1α</text>
<text x="1536" y="1128.6" font-size="20.8" text-anchor="start" fill="#111">IL-4</text>
<text x="1536" y="1149.28" font-size="20.8" text-anchor="start" fill="#111">IL-8</text>
<text x="1536" y="1169.96" font-size="20.8" text-anchor="start" fill="#111">IL-10</text>
<text x="1536" y="1190.64" font-size="20.8" text-anchor="start" fill="#111">TNFα</text>
<text x="1536" y="1211.32" font-size="20.8" text-anchor="start" fill="#111">PDGF-AA</text>
<text x="1536" y="1232" font-size="20.8" text-anchor="start" fill="#111">LTA</text>
<text x="1536" y="1252.68" font-size="20.8" text-anchor="start" fill="#111">IP-10</text>
<text x="1536" y="1273.36" font-size="20.8" text-anchor="start" fill="#111">IL-22</text>
<text x="1536" y="1294.04" font-size="20.8" text-anchor="start" fill="#111">IL-3</text>
<text x="1536" y="1314.72" font-size="20.8" text-anchor="start" fill="#111">MCP-1</text>
<text x="1536" y="1335.4" font-size="20.8" text-anchor="start" fill="#111">IL-2</text>
<text x="1536" y="1356.08" font-size="20.8" text-anchor="start" fill="#111">IL-9</text>
<text x="1536" y="1376.76" font-size="20.8" text-anchor="start" fill="#111">IL-13</text>
<text x="1536" y="1397.44" font-size="20.8" text-anchor="start" fill="#111">IL-6</text>
<text x="1536" y="1418.12" font-size="20.8" text-anchor="start" fill="#111">MDC</text>
<text x="1536" y="1438.8" font-size="20.8" text-anchor="start" fill="#111">sCD40L</text>
<text x="1536" y="1459.48" font-size="20.8" text-anchor="start" fill="#111">M-CSF</text>
<text x="956.7" y="1479" font-size="21" text-anchor="end" fill="#111" transform="rotate(-45 956.7 1479)">LTBR</text>
<text x="1025.7" y="1479" font-size="21" text-anchor="end" fill="#111" transform="rotate(-45 1025.7 1479)">IL12B</text>
<text x="1094.7" y="1479" font-size="21" text-anchor="end" fill="#111" transform="rotate(-45 1094.7 1479)">AHNAK</text>
<text x="1163.7" y="1479" font-size="21" text-anchor="end" fill="#111" transform="rotate(-45 1163.7 1479)">DUPD1</text>
<text x="1232.7" y="1479" font-size="21" text-anchor="end" fill="#111" transform="rotate(-45 1232.7 1479)">BATF</text>
<text x="1301.7" y="1479" font-size="21" text-anchor="end" fill="#111" transform="rotate(-45 1301.7 1479)">AKR1C4</text>
<text x="1370.7" y="1479" font-size="21" text-anchor="end" fill="#111" transform="rotate(-45 1370.7 1479)">GPD1</text>
<text x="1439.7" y="1479" font-size="21" text-anchor="end" fill="#111" transform="rotate(-45 1439.7 1479)">IFNL2</text>
<text x="1508.7" y="1479" font-size="21" text-anchor="end" fill="#111" transform="rotate(-45 1508.7 1479)">tNGFR</text>
<text x="1209" y="1560.5" font-size="24" text-anchor="middle" fill="#111">ORF gene</text>
<line x1="896.9" y1="1038.28" x2="896.9" y2="1058.96" stroke="#3a3a3a" stroke-width="1.4" stroke-linecap="square"/>
<line x1="896.9" y1="1038.28" x2="907.7" y2="1038.28" stroke="#3a3a3a" stroke-width="1.4" />
<line x1="896.9" y1="1058.96" x2="907.7" y2="1058.96" stroke="#3a3a3a" stroke-width="1.4" />
<line x1="890.8" y1="1017.6" x2="890.8" y2="1048.62" stroke="#3a3a3a" stroke-width="1.4" stroke-linecap="square"/>
<line x1="890.8" y1="1017.6" x2="907.7" y2="1017.6" stroke="#3a3a3a" stroke-width="1.4" />
<line x1="890.8" y1="1048.62" x2="896.9" y2="1048.62" stroke="#3a3a3a" stroke-width="1.4" />
<line x1="900.5" y1="1121" x2="900.5" y2="1141.68" stroke="#3a3a3a" stroke-width="1.4" stroke-linecap="square"/>
<line x1="900.5" y1="1121" x2="907.7" y2="1121" stroke="#3a3a3a" stroke-width="1.4" />
<line x1="900.5" y1="1141.68" x2="907.7" y2="1141.68" stroke="#3a3a3a" stroke-width="1.4" />
<line x1="891.7" y1="1100.32" x2="891.7" y2="1131.34" stroke="#3a3a3a" stroke-width="1.4" stroke-linecap="square"/>
<line x1="891.7" y1="1100.32" x2="907.7" y2="1100.32" stroke="#3a3a3a" stroke-width="1.4" />
<line x1="891.7" y1="1131.34" x2="900.5" y2="1131.34" stroke="#3a3a3a" stroke-width="1.4" />
<line x1="881.7" y1="1079.64" x2="881.7" y2="1115.83" stroke="#3a3a3a" stroke-width="1.4" stroke-linecap="square"/>
<line x1="881.7" y1="1079.64" x2="907.7" y2="1079.64" stroke="#3a3a3a" stroke-width="1.4" />
<line x1="881.7" y1="1115.83" x2="891.7" y2="1115.83" stroke="#3a3a3a" stroke-width="1.4" />
<line x1="874.4" y1="1033.11" x2="874.4" y2="1097.73" stroke="#3a3a3a" stroke-width="1.4" stroke-linecap="square"/>
<line x1="874.4" y1="1033.11" x2="890.8" y2="1033.11" stroke="#3a3a3a" stroke-width="1.4" />
<line x1="874.4" y1="1097.73" x2="881.7" y2="1097.73" stroke="#3a3a3a" stroke-width="1.4" />
<line x1="888.6" y1="1162.36" x2="888.6" y2="1183.04" stroke="#3a3a3a" stroke-width="1.4" stroke-linecap="square"/>
<line x1="888.6" y1="1162.36" x2="907.7" y2="1162.36" stroke="#3a3a3a" stroke-width="1.4" />
<line x1="888.6" y1="1183.04" x2="907.7" y2="1183.04" stroke="#3a3a3a" stroke-width="1.4" />
<line x1="906" y1="1286.44" x2="906" y2="1307.12" stroke="#3a3a3a" stroke-width="1.4" stroke-linecap="square"/>
<line x1="906" y1="1286.44" x2="907.7" y2="1286.44" stroke="#3a3a3a" stroke-width="1.4" />
<line x1="906" y1="1307.12" x2="907.7" y2="1307.12" stroke="#3a3a3a" stroke-width="1.4" />
<line x1="906.3" y1="1327.8" x2="906.3" y2="1348.48" stroke="#3a3a3a" stroke-width="1.4" stroke-linecap="square"/>
<line x1="906.3" y1="1327.8" x2="907.7" y2="1327.8" stroke="#3a3a3a" stroke-width="1.4" />
<line x1="906.3" y1="1348.48" x2="907.7" y2="1348.48" stroke="#3a3a3a" stroke-width="1.4" />
<line x1="906.5" y1="1369.16" x2="906.5" y2="1389.84" stroke="#3a3a3a" stroke-width="1.4" stroke-linecap="square"/>
<line x1="906.5" y1="1369.16" x2="907.7" y2="1369.16" stroke="#3a3a3a" stroke-width="1.4" />
<line x1="906.5" y1="1389.84" x2="907.7" y2="1389.84" stroke="#3a3a3a" stroke-width="1.4" />
<line x1="905.5" y1="1379.5" x2="905.5" y2="1410.52" stroke="#3a3a3a" stroke-width="1.4" stroke-linecap="square"/>
<line x1="905.5" y1="1379.5" x2="906.5" y2="1379.5" stroke="#3a3a3a" stroke-width="1.4" />
<line x1="905.5" y1="1410.52" x2="907.7" y2="1410.52" stroke="#3a3a3a" stroke-width="1.4" />
<line x1="905" y1="1338.14" x2="905" y2="1395.01" stroke="#3a3a3a" stroke-width="1.4" stroke-linecap="square"/>
<line x1="905" y1="1338.14" x2="906.3" y2="1338.14" stroke="#3a3a3a" stroke-width="1.4" />
<line x1="905" y1="1395.01" x2="905.5" y2="1395.01" stroke="#3a3a3a" stroke-width="1.4" />
<line x1="904.5" y1="1296.78" x2="904.5" y2="1366.57" stroke="#3a3a3a" stroke-width="1.4" stroke-linecap="square"/>
<line x1="904.5" y1="1296.78" x2="906" y2="1296.78" stroke="#3a3a3a" stroke-width="1.4" />
<line x1="904.5" y1="1366.57" x2="905" y2="1366.57" stroke="#3a3a3a" stroke-width="1.4" />
<line x1="903.6" y1="1265.76" x2="903.6" y2="1331.68" stroke="#3a3a3a" stroke-width="1.4" stroke-linecap="square"/>
<line x1="903.6" y1="1265.76" x2="907.7" y2="1265.76" stroke="#3a3a3a" stroke-width="1.4" />
<line x1="903.6" y1="1331.68" x2="904.5" y2="1331.68" stroke="#3a3a3a" stroke-width="1.4" />
<line x1="903" y1="1245.08" x2="903" y2="1298.72" stroke="#3a3a3a" stroke-width="1.4" stroke-linecap="square"/>
<line x1="903" y1="1245.08" x2="907.7" y2="1245.08" stroke="#3a3a3a" stroke-width="1.4" />
<line x1="903" y1="1298.72" x2="903.6" y2="1298.72" stroke="#3a3a3a" stroke-width="1.4" />
<line x1="900.4" y1="1224.4" x2="900.4" y2="1271.9" stroke="#3a3a3a" stroke-width="1.4" stroke-linecap="square"/>
<line x1="900.4" y1="1224.4" x2="907.7" y2="1224.4" stroke="#3a3a3a" stroke-width="1.4" />
<line x1="900.4" y1="1271.9" x2="903" y2="1271.9" stroke="#3a3a3a" stroke-width="1.4" />
<line x1="897" y1="1203.72" x2="897" y2="1248.15" stroke="#3a3a3a" stroke-width="1.4" stroke-linecap="square"/>
<line x1="897" y1="1203.72" x2="907.7" y2="1203.72" stroke="#3a3a3a" stroke-width="1.4" />
<line x1="897" y1="1248.15" x2="900.4" y2="1248.15" stroke="#3a3a3a" stroke-width="1.4" />
<line x1="890.6" y1="1431.2" x2="890.6" y2="1451.88" stroke="#3a3a3a" stroke-width="1.4" stroke-linecap="square"/>
<line x1="890.6" y1="1431.2" x2="907.7" y2="1431.2" stroke="#3a3a3a" stroke-width="1.4" />
<line x1="890.6" y1="1451.88" x2="907.7" y2="1451.88" stroke="#3a3a3a" stroke-width="1.4" />
<line x1="887.4" y1="1225.93" x2="887.4" y2="1441.54" stroke="#3a3a3a" stroke-width="1.4" stroke-linecap="square"/>
<line x1="887.4" y1="1225.93" x2="897" y2="1225.93" stroke="#3a3a3a" stroke-width="1.4" />
<line x1="887.4" y1="1441.54" x2="890.6" y2="1441.54" stroke="#3a3a3a" stroke-width="1.4" />
<line x1="871.4" y1="1172.7" x2="871.4" y2="1333.74" stroke="#3a3a3a" stroke-width="1.4" stroke-linecap="square"/>
<line x1="871.4" y1="1172.7" x2="888.6" y2="1172.7" stroke="#3a3a3a" stroke-width="1.4" />
<line x1="871.4" y1="1333.74" x2="887.4" y2="1333.74" stroke="#3a3a3a" stroke-width="1.4" />
<line x1="859.7" y1="1065.42" x2="859.7" y2="1253.22" stroke="#3a3a3a" stroke-width="1.4" stroke-linecap="square"/>
<line x1="859.7" y1="1065.42" x2="874.4" y2="1065.42" stroke="#3a3a3a" stroke-width="1.4" />
<line x1="859.7" y1="1253.22" x2="871.4" y2="1253.22" stroke="#3a3a3a" stroke-width="1.4" />
<line x1="853.3" y1="996.92" x2="853.3" y2="1159.32" stroke="#3a3a3a" stroke-width="1.4" stroke-linecap="square"/>
<line x1="853.3" y1="996.92" x2="907.7" y2="996.92" stroke="#3a3a3a" stroke-width="1.4" />
<line x1="853.3" y1="1159.32" x2="859.7" y2="1159.32" stroke="#3a3a3a" stroke-width="1.4" />
<line x1="844.4" y1="976.24" x2="844.4" y2="1078.12" stroke="#3a3a3a" stroke-width="1.4" stroke-linecap="square"/>
<line x1="844.4" y1="976.24" x2="907.7" y2="976.24" stroke="#3a3a3a" stroke-width="1.4" />
<line x1="844.4" y1="1078.12" x2="853.3" y2="1078.12" stroke="#3a3a3a" stroke-width="1.4" />
<defs><linearGradient id="cb" x1="0" y1="0" x2="0" y2="1"><stop offset="0" stop-color="#b5202a"/><stop offset="0.66" stop-color="#ffffff"/><stop offset="1" stop-color="#1e96d2"/></linearGradient></defs>
<rect x="1682.5" y="1001.3" width="23.5" height="362.6" fill="url(#cb)" stroke="none" stroke-width="1"/>
<text x="1711.3" y="1028.5" font-size="19.5" text-anchor="start" fill="#111">3</text>
<text x="1711.3" y="1101.9" font-size="19.5" text-anchor="start" fill="#111">2</text>
<text x="1711.3" y="1175.3" font-size="19.5" text-anchor="start" fill="#111">1</text>
<text x="1711.3" y="1248.7" font-size="19.5" text-anchor="start" fill="#111">0</text>
<text x="1709.3" y="1322.1" font-size="19.5" text-anchor="start" fill="#111">-1</text>
<text x="1691.7" y="959.7" font-size="21" text-anchor="middle" fill="#111">Row</text>
<text x="1694.2" y="985" font-size="21" text-anchor="middle" fill="#111">z-score</text>
<text x="1639.5" y="1184" font-size="24" text-anchor="middle" fill="#111" transform="rotate(90 1639.5 1184)">Cyto/chemokine</text>
</g>
</svg>
</body></html>
